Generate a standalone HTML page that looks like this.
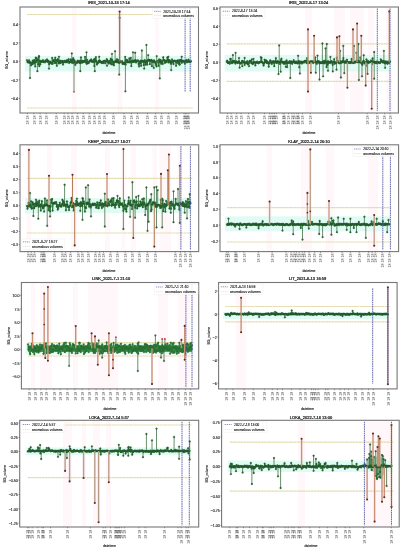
<!DOCTYPE html>
<html><head><meta charset="utf-8"><style>
html,body{margin:0;padding:0;background:#fff;}
svg{display:block;will-change:transform;}
text{font-family:"Liberation Sans", sans-serif;fill:#1a1a1a;stroke:#1a1a1a;stroke-width:0.12px;}
text.tl{fill:#444;stroke:none;}
text.ttl{stroke-width:0.22px;}
</style></head><body>
<svg width="403" height="550" viewBox="0 0 403 550">
<rect width="403" height="550" fill="#fff"/>
<rect x="117.5" y="7" width="5" height="106" fill="#fff7fa"/>
<rect x="72" y="7" width="4.5" height="106" fill="#fff7fa"/>
<rect x="155" y="7" width="4" height="106" fill="#fff7fa"/>
<rect x="25" y="56" width="167" height="15.5" fill="#e0fbf3"/>

<line x1="27" x2="193" y1="14.5" y2="14.5" stroke="#e4dbab" stroke-width="1.2" stroke-dasharray="2.4 0.4"/>
<line x1="27" x2="193" y1="108" y2="108" stroke="#e4dbab" stroke-width="1.2" stroke-dasharray="2.4 0.4"/>
<path d="M27 60.11 L27.51 61.85 L28.03 62.44 L28.54 62.15 L29.06 60.35 L29.57 62.79 L30.08 62.34 L30.6 62.35 L31.11 65.31 L31.63 62.83 L32.14 64.19 L32.66 60.77 L33.17 61.56 L33.68 63.61 L34.2 59.89 L34.71 61.89 L35.23 66.45 L35.74 57.54 L36.25 62.07 L36.77 58.22 L37.28 60.31 L37.8 59.81 L38.31 64.29 L38.82 56.92 L39.34 66.17 L39.85 60.78 L40.37 64.32 L40.88 61.01 L41.39 61.83 L41.91 61.55 L42.42 61.51 L42.94 60.15 L43.45 61.9 L43.97 61.96 L44.48 61.79 L44.99 62.25 L45.51 60.52 L46.02 61.14 L46.54 60.71 L47.05 59.45 L47.56 61.94 L48.08 60.74 L48.59 61.41 L49.11 64.2 L49.62 61.78 L50.13 61.63 L50.65 62.79 L51.16 63 L51.68 63.68 L52.19 57.93 L52.71 63.66 L53.22 61.34 L53.73 60.11 L54.25 60.39 L54.76 62.83 L55.28 57.77 L55.79 63.04 L56.3 60.39 L56.82 65.78 L57.33 60.06 L57.85 59.13 L58.36 61.48 L58.87 63.4 L59.39 62.83 L59.9 60.57 L60.42 62.9 L60.93 60.81 L61.45 61.87 L61.96 62.49 L62.47 61.01 L62.99 64.57 L63.5 62.28 L64.02 61.29 L64.53 60.84 L65.04 62.26 L65.56 61.24 L66.07 61.96 L66.59 60.34 L67.1 62.37 L67.61 60.36 L68.13 61.04 L68.64 59.25 L69.16 62.89 L69.67 61.61 L70.18 62.06 L70.7 59.46 L71.21 61.68 L71.73 61.03 L72.24 62.94 L72.76 59.62 L73.27 58.22 L73.78 62.77 L74.3 60.07 L74.81 61.63 L75.33 64.86 L75.84 61.55 L76.35 61.9 L76.87 63.08 L77.38 61.7 L77.9 60.67 L78.41 62.19 L78.92 61.5 L79.44 62.8 L79.95 60.77 L80.47 63.1 L80.98 57.28 L81.5 61.79 L82.01 62.7 L82.52 60.86 L83.04 60.89 L83.55 62.11 L84.07 61.4 L84.58 61.56 L85.09 56.9 L85.61 61.13 L86.12 62.54 L86.64 63.85 L87.15 59.84 L87.66 63.32 L88.18 62.39 L88.69 62.95 L89.21 61.71 L89.72 60.62 L90.24 61.26 L90.75 60.39 L91.26 59.49 L91.78 61.41 L92.29 61.81 L92.81 61.16 L93.32 61.73 L93.83 59.64 L94.35 66.07 L94.86 58.86 L95.38 61.55 L95.89 57.07 L96.4 60.82 L96.92 64.5 L97.43 63 L97.95 62.98 L98.46 61.68 L98.97 60.65 L99.49 62.1 L100 60.63 L100.52 61.78 L101.03 61.78 L101.55 62.98 L102.06 62.03 L102.57 61.68 L103.09 63.16 L103.6 61.36 L104.12 60.86 L104.63 60.89 L105.14 63.25 L105.66 61.54 L106.17 60.81 L106.69 59.15 L107.2 60.25 L107.71 61.88 L108.23 62.2 L108.74 63.5 L109.26 60.66 L109.77 62.1 L110.29 63.06 L110.8 58.76 L111.31 64.27 L111.83 60.14 L112.34 60.14 L112.86 64.34 L113.37 62 L113.88 65.31 L114.4 62.28 L114.91 61.86 L115.43 61.35 L115.94 60.57 L116.45 62.21 L116.97 59.19 L117.48 61.28 L118 62.44 L118.51 60.12 L119.03 62.51 L119.54 62.68 L120.05 61.59 L120.57 61.32 L121.08 62.17 L121.6 62.27 L122.11 61.2 L122.62 63.97 L123.14 63.33 L123.65 62.71 L124.17 64.15 L124.68 63.07 L125.19 56.82 L125.71 64.5 L126.22 59.77 L126.74 61.75 L127.25 60.17 L127.76 62.26 L128.28 62.03 L128.79 61.79 L129.31 58.5 L129.82 62.47 L130.34 61.81 L130.85 57.81 L131.36 66.12 L131.88 61.32 L132.39 60.59 L132.91 62.02 L133.42 60.86 L133.93 61.97 L134.45 61.07 L134.96 60.42 L135.48 60.13 L135.99 62.47 L136.5 61.62 L137.02 60.59 L137.53 60.8 L138.05 60.44 L138.56 64.09 L139.08 66.39 L139.59 61.72 L140.1 63.33 L140.62 60.72 L141.13 65.75 L141.65 60.89 L142.16 61.71 L142.67 61.26 L143.19 61.08 L143.7 64.99 L144.22 60.96 L144.73 60.17 L145.24 62.39 L145.76 64.66 L146.27 61.13 L146.79 62.1 L147.3 64.54 L147.82 60.12 L148.33 60.59 L148.84 59.79 L149.36 60.02 L149.87 64.22 L150.39 60.87 L150.9 60.33 L151.41 59.86 L151.93 66.16 L152.44 60.95 L152.96 61.74 L153.47 61.36 L153.98 60.31 L154.5 61.97 L155.01 61.6 L155.53 63.03 L156.04 64.93 L156.55 66.4 L157.07 61.29 L157.58 61.31 L158.1 61.35 L158.61 65.81 L159.13 59.42 L159.64 61.28 L160.15 61.85 L160.67 60 L161.18 63.68 L161.7 62.23 L162.21 60.85 L162.72 63.91 L163.24 57.27 L163.75 60.22 L164.27 60.14 L164.78 62.86 L165.29 60.55 L165.81 62.33 L166.32 61.75 L166.84 60.74 L167.35 57.51 L167.87 60.02 L168.38 62.45 L168.89 60.26 L169.41 60.39 L169.92 62.27 L170.44 60.87 L170.95 63.7 L171.46 63.12 L171.98 59.47 L172.49 61.65 L173.01 61.29 L173.52 64.05 L174.03 60.8 L174.55 60.71 L175.06 61.22 L175.58 61.2 L176.09 65.82 L176.61 61.77 L177.12 60.82 L177.63 60.44 L178.15 63.29 L178.66 61.65 L179.18 60.2 L179.69 64.39 L180.2 61.06 L180.72 59.97 L181.23 59.9 L181.75 62.79 L182.26 61.29 L182.77 60.79 L183.29 61.69 L183.8 60.79 L184.32 61.56 L184.83 63.64 L185.34 61.43 L185.86 60.74 L186.37 60.1 L186.89 62.23 L187.4 61.27 L187.92 61.96 L188.43 59.53 L188.94 61.01 L189.46 61.59 L189.97 62.11 L190.49 61.78 L191 61.14" fill="none" stroke="#2f7f3c" stroke-width="1.1" stroke-linejoin="round"/>
<path d="M30 61.5V78M37.4 61.5V71.2M39 61.5V56M49 61.5V68.6M59 61.5V56.7M71.8 61.5V53.4M74 61.5V91.8M80.3 61.5V71.2M86.5 61.5V52.3M94.8 61.5V71.2M99.2 61.5V56.7M107 61.5V65.7M112 61.5V53.8M115.1 61.5V51.2M119.2 61.5V74.6M119.6 61.5V17.7M125.4 61.5V91.3M133 61.5V52.3M135.2 61.5V52.7M141.9 61.5V50.5M144.2 61.5V68.6M146.4 61.5V44.9M148.2 61.5V55.2M153.8 61.5V67.9M156.7 61.5V56.1M159.8 61.5V78.4M168.3 61.5V56.7M171.2 61.5V70.1M179.4 61.5V64.6M181.7 61.5V56.7" stroke="#356b3d" stroke-width="0.75" fill="none"/>
<g fill="#2b6a34" stroke="#1d4424" stroke-width="0.25"><circle cx="27" cy="60.11" r="0.9"/><circle cx="27.51" cy="61.85" r="0.9"/><circle cx="28.03" cy="62.44" r="0.9"/><circle cx="28.54" cy="62.15" r="0.9"/><circle cx="29.06" cy="60.35" r="0.9"/><circle cx="29.57" cy="62.79" r="0.9"/><circle cx="30.08" cy="62.34" r="0.9"/><circle cx="30.6" cy="62.35" r="0.9"/><circle cx="31.11" cy="65.31" r="0.9"/><circle cx="31.63" cy="62.83" r="0.9"/><circle cx="32.14" cy="64.19" r="0.9"/><circle cx="32.66" cy="60.77" r="0.9"/><circle cx="33.17" cy="61.56" r="0.9"/><circle cx="33.68" cy="63.61" r="0.9"/><circle cx="34.2" cy="59.89" r="0.9"/><circle cx="34.71" cy="61.89" r="0.9"/><circle cx="35.23" cy="66.45" r="0.9"/><circle cx="35.74" cy="57.54" r="0.9"/><circle cx="36.25" cy="62.07" r="0.9"/><circle cx="36.77" cy="58.22" r="0.9"/><circle cx="37.28" cy="60.31" r="0.9"/><circle cx="37.8" cy="59.81" r="0.9"/><circle cx="38.31" cy="64.29" r="0.9"/><circle cx="38.82" cy="56.92" r="0.9"/><circle cx="39.34" cy="66.17" r="0.9"/><circle cx="39.85" cy="60.78" r="0.9"/><circle cx="40.37" cy="64.32" r="0.9"/><circle cx="40.88" cy="61.01" r="0.9"/><circle cx="41.39" cy="61.83" r="0.9"/><circle cx="41.91" cy="61.55" r="0.9"/><circle cx="42.42" cy="61.51" r="0.9"/><circle cx="42.94" cy="60.15" r="0.9"/><circle cx="43.45" cy="61.9" r="0.9"/><circle cx="43.97" cy="61.96" r="0.9"/><circle cx="44.48" cy="61.79" r="0.9"/><circle cx="44.99" cy="62.25" r="0.9"/><circle cx="45.51" cy="60.52" r="0.9"/><circle cx="46.02" cy="61.14" r="0.9"/><circle cx="46.54" cy="60.71" r="0.9"/><circle cx="47.05" cy="59.45" r="0.9"/><circle cx="47.56" cy="61.94" r="0.9"/><circle cx="48.08" cy="60.74" r="0.9"/><circle cx="48.59" cy="61.41" r="0.9"/><circle cx="49.11" cy="64.2" r="0.9"/><circle cx="49.62" cy="61.78" r="0.9"/><circle cx="50.13" cy="61.63" r="0.9"/><circle cx="50.65" cy="62.79" r="0.9"/><circle cx="51.16" cy="63" r="0.9"/><circle cx="51.68" cy="63.68" r="0.9"/><circle cx="52.19" cy="57.93" r="0.9"/><circle cx="52.71" cy="63.66" r="0.9"/><circle cx="53.22" cy="61.34" r="0.9"/><circle cx="53.73" cy="60.11" r="0.9"/><circle cx="54.25" cy="60.39" r="0.9"/><circle cx="54.76" cy="62.83" r="0.9"/><circle cx="55.28" cy="57.77" r="0.9"/><circle cx="55.79" cy="63.04" r="0.9"/><circle cx="56.3" cy="60.39" r="0.9"/><circle cx="56.82" cy="65.78" r="0.9"/><circle cx="57.33" cy="60.06" r="0.9"/><circle cx="57.85" cy="59.13" r="0.9"/><circle cx="58.36" cy="61.48" r="0.9"/><circle cx="58.87" cy="63.4" r="0.9"/><circle cx="59.39" cy="62.83" r="0.9"/><circle cx="59.9" cy="60.57" r="0.9"/><circle cx="60.42" cy="62.9" r="0.9"/><circle cx="60.93" cy="60.81" r="0.9"/><circle cx="61.45" cy="61.87" r="0.9"/><circle cx="61.96" cy="62.49" r="0.9"/><circle cx="62.47" cy="61.01" r="0.9"/><circle cx="62.99" cy="64.57" r="0.9"/><circle cx="63.5" cy="62.28" r="0.9"/><circle cx="64.02" cy="61.29" r="0.9"/><circle cx="64.53" cy="60.84" r="0.9"/><circle cx="65.04" cy="62.26" r="0.9"/><circle cx="65.56" cy="61.24" r="0.9"/><circle cx="66.07" cy="61.96" r="0.9"/><circle cx="66.59" cy="60.34" r="0.9"/><circle cx="67.1" cy="62.37" r="0.9"/><circle cx="67.61" cy="60.36" r="0.9"/><circle cx="68.13" cy="61.04" r="0.9"/><circle cx="68.64" cy="59.25" r="0.9"/><circle cx="69.16" cy="62.89" r="0.9"/><circle cx="69.67" cy="61.61" r="0.9"/><circle cx="70.18" cy="62.06" r="0.9"/><circle cx="70.7" cy="59.46" r="0.9"/><circle cx="71.21" cy="61.68" r="0.9"/><circle cx="71.73" cy="61.03" r="0.9"/><circle cx="72.24" cy="62.94" r="0.9"/><circle cx="72.76" cy="59.62" r="0.9"/><circle cx="73.27" cy="58.22" r="0.9"/><circle cx="73.78" cy="62.77" r="0.9"/><circle cx="74.3" cy="60.07" r="0.9"/><circle cx="74.81" cy="61.63" r="0.9"/><circle cx="75.33" cy="64.86" r="0.9"/><circle cx="75.84" cy="61.55" r="0.9"/><circle cx="76.35" cy="61.9" r="0.9"/><circle cx="76.87" cy="63.08" r="0.9"/><circle cx="77.38" cy="61.7" r="0.9"/><circle cx="77.9" cy="60.67" r="0.9"/><circle cx="78.41" cy="62.19" r="0.9"/><circle cx="78.92" cy="61.5" r="0.9"/><circle cx="79.44" cy="62.8" r="0.9"/><circle cx="79.95" cy="60.77" r="0.9"/><circle cx="80.47" cy="63.1" r="0.9"/><circle cx="80.98" cy="57.28" r="0.9"/><circle cx="81.5" cy="61.79" r="0.9"/><circle cx="82.01" cy="62.7" r="0.9"/><circle cx="82.52" cy="60.86" r="0.9"/><circle cx="83.04" cy="60.89" r="0.9"/><circle cx="83.55" cy="62.11" r="0.9"/><circle cx="84.07" cy="61.4" r="0.9"/><circle cx="84.58" cy="61.56" r="0.9"/><circle cx="85.09" cy="56.9" r="0.9"/><circle cx="85.61" cy="61.13" r="0.9"/><circle cx="86.12" cy="62.54" r="0.9"/><circle cx="86.64" cy="63.85" r="0.9"/><circle cx="87.15" cy="59.84" r="0.9"/><circle cx="87.66" cy="63.32" r="0.9"/><circle cx="88.18" cy="62.39" r="0.9"/><circle cx="88.69" cy="62.95" r="0.9"/><circle cx="89.21" cy="61.71" r="0.9"/><circle cx="89.72" cy="60.62" r="0.9"/><circle cx="90.24" cy="61.26" r="0.9"/><circle cx="90.75" cy="60.39" r="0.9"/><circle cx="91.26" cy="59.49" r="0.9"/><circle cx="91.78" cy="61.41" r="0.9"/><circle cx="92.29" cy="61.81" r="0.9"/><circle cx="92.81" cy="61.16" r="0.9"/><circle cx="93.32" cy="61.73" r="0.9"/><circle cx="93.83" cy="59.64" r="0.9"/><circle cx="94.35" cy="66.07" r="0.9"/><circle cx="94.86" cy="58.86" r="0.9"/><circle cx="95.38" cy="61.55" r="0.9"/><circle cx="95.89" cy="57.07" r="0.9"/><circle cx="96.4" cy="60.82" r="0.9"/><circle cx="96.92" cy="64.5" r="0.9"/><circle cx="97.43" cy="63" r="0.9"/><circle cx="97.95" cy="62.98" r="0.9"/><circle cx="98.46" cy="61.68" r="0.9"/><circle cx="98.97" cy="60.65" r="0.9"/><circle cx="99.49" cy="62.1" r="0.9"/><circle cx="100" cy="60.63" r="0.9"/><circle cx="100.52" cy="61.78" r="0.9"/><circle cx="101.03" cy="61.78" r="0.9"/><circle cx="101.55" cy="62.98" r="0.9"/><circle cx="102.06" cy="62.03" r="0.9"/><circle cx="102.57" cy="61.68" r="0.9"/><circle cx="103.09" cy="63.16" r="0.9"/><circle cx="103.6" cy="61.36" r="0.9"/><circle cx="104.12" cy="60.86" r="0.9"/><circle cx="104.63" cy="60.89" r="0.9"/><circle cx="105.14" cy="63.25" r="0.9"/><circle cx="105.66" cy="61.54" r="0.9"/><circle cx="106.17" cy="60.81" r="0.9"/><circle cx="106.69" cy="59.15" r="0.9"/><circle cx="107.2" cy="60.25" r="0.9"/><circle cx="107.71" cy="61.88" r="0.9"/><circle cx="108.23" cy="62.2" r="0.9"/><circle cx="108.74" cy="63.5" r="0.9"/><circle cx="109.26" cy="60.66" r="0.9"/><circle cx="109.77" cy="62.1" r="0.9"/><circle cx="110.29" cy="63.06" r="0.9"/><circle cx="110.8" cy="58.76" r="0.9"/><circle cx="111.31" cy="64.27" r="0.9"/><circle cx="111.83" cy="60.14" r="0.9"/><circle cx="112.34" cy="60.14" r="0.9"/><circle cx="112.86" cy="64.34" r="0.9"/><circle cx="113.37" cy="62" r="0.9"/><circle cx="113.88" cy="65.31" r="0.9"/><circle cx="114.4" cy="62.28" r="0.9"/><circle cx="114.91" cy="61.86" r="0.9"/><circle cx="115.43" cy="61.35" r="0.9"/><circle cx="115.94" cy="60.57" r="0.9"/><circle cx="116.45" cy="62.21" r="0.9"/><circle cx="116.97" cy="59.19" r="0.9"/><circle cx="117.48" cy="61.28" r="0.9"/><circle cx="118" cy="62.44" r="0.9"/><circle cx="118.51" cy="60.12" r="0.9"/><circle cx="119.03" cy="62.51" r="0.9"/><circle cx="119.54" cy="62.68" r="0.9"/><circle cx="120.05" cy="61.59" r="0.9"/><circle cx="120.57" cy="61.32" r="0.9"/><circle cx="121.08" cy="62.17" r="0.9"/><circle cx="121.6" cy="62.27" r="0.9"/><circle cx="122.11" cy="61.2" r="0.9"/><circle cx="122.62" cy="63.97" r="0.9"/><circle cx="123.14" cy="63.33" r="0.9"/><circle cx="123.65" cy="62.71" r="0.9"/><circle cx="124.17" cy="64.15" r="0.9"/><circle cx="124.68" cy="63.07" r="0.9"/><circle cx="125.19" cy="56.82" r="0.9"/><circle cx="125.71" cy="64.5" r="0.9"/><circle cx="126.22" cy="59.77" r="0.9"/><circle cx="126.74" cy="61.75" r="0.9"/><circle cx="127.25" cy="60.17" r="0.9"/><circle cx="127.76" cy="62.26" r="0.9"/><circle cx="128.28" cy="62.03" r="0.9"/><circle cx="128.79" cy="61.79" r="0.9"/><circle cx="129.31" cy="58.5" r="0.9"/><circle cx="129.82" cy="62.47" r="0.9"/><circle cx="130.34" cy="61.81" r="0.9"/><circle cx="130.85" cy="57.81" r="0.9"/><circle cx="131.36" cy="66.12" r="0.9"/><circle cx="131.88" cy="61.32" r="0.9"/><circle cx="132.39" cy="60.59" r="0.9"/><circle cx="132.91" cy="62.02" r="0.9"/><circle cx="133.42" cy="60.86" r="0.9"/><circle cx="133.93" cy="61.97" r="0.9"/><circle cx="134.45" cy="61.07" r="0.9"/><circle cx="134.96" cy="60.42" r="0.9"/><circle cx="135.48" cy="60.13" r="0.9"/><circle cx="135.99" cy="62.47" r="0.9"/><circle cx="136.5" cy="61.62" r="0.9"/><circle cx="137.02" cy="60.59" r="0.9"/><circle cx="137.53" cy="60.8" r="0.9"/><circle cx="138.05" cy="60.44" r="0.9"/><circle cx="138.56" cy="64.09" r="0.9"/><circle cx="139.08" cy="66.39" r="0.9"/><circle cx="139.59" cy="61.72" r="0.9"/><circle cx="140.1" cy="63.33" r="0.9"/><circle cx="140.62" cy="60.72" r="0.9"/><circle cx="141.13" cy="65.75" r="0.9"/><circle cx="141.65" cy="60.89" r="0.9"/><circle cx="142.16" cy="61.71" r="0.9"/><circle cx="142.67" cy="61.26" r="0.9"/><circle cx="143.19" cy="61.08" r="0.9"/><circle cx="143.7" cy="64.99" r="0.9"/><circle cx="144.22" cy="60.96" r="0.9"/><circle cx="144.73" cy="60.17" r="0.9"/><circle cx="145.24" cy="62.39" r="0.9"/><circle cx="145.76" cy="64.66" r="0.9"/><circle cx="146.27" cy="61.13" r="0.9"/><circle cx="146.79" cy="62.1" r="0.9"/><circle cx="147.3" cy="64.54" r="0.9"/><circle cx="147.82" cy="60.12" r="0.9"/><circle cx="148.33" cy="60.59" r="0.9"/><circle cx="148.84" cy="59.79" r="0.9"/><circle cx="149.36" cy="60.02" r="0.9"/><circle cx="149.87" cy="64.22" r="0.9"/><circle cx="150.39" cy="60.87" r="0.9"/><circle cx="150.9" cy="60.33" r="0.9"/><circle cx="151.41" cy="59.86" r="0.9"/><circle cx="151.93" cy="66.16" r="0.9"/><circle cx="152.44" cy="60.95" r="0.9"/><circle cx="152.96" cy="61.74" r="0.9"/><circle cx="153.47" cy="61.36" r="0.9"/><circle cx="153.98" cy="60.31" r="0.9"/><circle cx="154.5" cy="61.97" r="0.9"/><circle cx="155.01" cy="61.6" r="0.9"/><circle cx="155.53" cy="63.03" r="0.9"/><circle cx="156.04" cy="64.93" r="0.9"/><circle cx="156.55" cy="66.4" r="0.9"/><circle cx="157.07" cy="61.29" r="0.9"/><circle cx="157.58" cy="61.31" r="0.9"/><circle cx="158.1" cy="61.35" r="0.9"/><circle cx="158.61" cy="65.81" r="0.9"/><circle cx="159.13" cy="59.42" r="0.9"/><circle cx="159.64" cy="61.28" r="0.9"/><circle cx="160.15" cy="61.85" r="0.9"/><circle cx="160.67" cy="60" r="0.9"/><circle cx="161.18" cy="63.68" r="0.9"/><circle cx="161.7" cy="62.23" r="0.9"/><circle cx="162.21" cy="60.85" r="0.9"/><circle cx="162.72" cy="63.91" r="0.9"/><circle cx="163.24" cy="57.27" r="0.9"/><circle cx="163.75" cy="60.22" r="0.9"/><circle cx="164.27" cy="60.14" r="0.9"/><circle cx="164.78" cy="62.86" r="0.9"/><circle cx="165.29" cy="60.55" r="0.9"/><circle cx="165.81" cy="62.33" r="0.9"/><circle cx="166.32" cy="61.75" r="0.9"/><circle cx="166.84" cy="60.74" r="0.9"/><circle cx="167.35" cy="57.51" r="0.9"/><circle cx="167.87" cy="60.02" r="0.9"/><circle cx="168.38" cy="62.45" r="0.9"/><circle cx="168.89" cy="60.26" r="0.9"/><circle cx="169.41" cy="60.39" r="0.9"/><circle cx="169.92" cy="62.27" r="0.9"/><circle cx="170.44" cy="60.87" r="0.9"/><circle cx="170.95" cy="63.7" r="0.9"/><circle cx="171.46" cy="63.12" r="0.9"/><circle cx="171.98" cy="59.47" r="0.9"/><circle cx="172.49" cy="61.65" r="0.9"/><circle cx="173.01" cy="61.29" r="0.9"/><circle cx="173.52" cy="64.05" r="0.9"/><circle cx="174.03" cy="60.8" r="0.9"/><circle cx="174.55" cy="60.71" r="0.9"/><circle cx="175.06" cy="61.22" r="0.9"/><circle cx="175.58" cy="61.2" r="0.9"/><circle cx="176.09" cy="65.82" r="0.9"/><circle cx="176.61" cy="61.77" r="0.9"/><circle cx="177.12" cy="60.82" r="0.9"/><circle cx="177.63" cy="60.44" r="0.9"/><circle cx="178.15" cy="63.29" r="0.9"/><circle cx="178.66" cy="61.65" r="0.9"/><circle cx="179.18" cy="60.2" r="0.9"/><circle cx="179.69" cy="64.39" r="0.9"/><circle cx="180.2" cy="61.06" r="0.9"/><circle cx="180.72" cy="59.97" r="0.9"/><circle cx="181.23" cy="59.9" r="0.9"/><circle cx="181.75" cy="62.79" r="0.9"/><circle cx="182.26" cy="61.29" r="0.9"/><circle cx="182.77" cy="60.79" r="0.9"/><circle cx="183.29" cy="61.69" r="0.9"/><circle cx="183.8" cy="60.79" r="0.9"/><circle cx="184.32" cy="61.56" r="0.9"/><circle cx="184.83" cy="63.64" r="0.9"/><circle cx="185.34" cy="61.43" r="0.9"/><circle cx="185.86" cy="60.74" r="0.9"/><circle cx="186.37" cy="60.1" r="0.9"/><circle cx="186.89" cy="62.23" r="0.9"/><circle cx="187.4" cy="61.27" r="0.9"/><circle cx="187.92" cy="61.96" r="0.9"/><circle cx="188.43" cy="59.53" r="0.9"/><circle cx="188.94" cy="61.01" r="0.9"/><circle cx="189.46" cy="61.59" r="0.9"/><circle cx="189.97" cy="62.11" r="0.9"/><circle cx="190.49" cy="61.78" r="0.9"/><circle cx="191" cy="61.14" r="0.9"/><circle cx="30" cy="78" r="0.9"/><circle cx="37.4" cy="71.2" r="0.9"/><circle cx="39" cy="56" r="0.9"/><circle cx="49" cy="68.6" r="0.9"/><circle cx="59" cy="56.7" r="0.9"/><circle cx="71.8" cy="53.4" r="0.9"/><circle cx="80.3" cy="71.2" r="0.9"/><circle cx="86.5" cy="52.3" r="0.9"/><circle cx="94.8" cy="71.2" r="0.9"/><circle cx="99.2" cy="56.7" r="0.9"/><circle cx="107" cy="65.7" r="0.9"/><circle cx="112" cy="53.8" r="0.9"/><circle cx="115.1" cy="51.2" r="0.9"/><circle cx="119.2" cy="74.6" r="0.9"/><circle cx="119.6" cy="17.7" r="0.9"/><circle cx="125.4" cy="91.3" r="0.9"/><circle cx="133" cy="52.3" r="0.9"/><circle cx="135.2" cy="52.7" r="0.9"/><circle cx="141.9" cy="50.5" r="0.9"/><circle cx="144.2" cy="68.6" r="0.9"/><circle cx="146.4" cy="44.9" r="0.9"/><circle cx="148.2" cy="55.2" r="0.9"/><circle cx="153.8" cy="67.9" r="0.9"/><circle cx="156.7" cy="56.1" r="0.9"/><circle cx="159.8" cy="78.4" r="0.9"/><circle cx="168.3" cy="56.7" r="0.9"/><circle cx="171.2" cy="70.1" r="0.9"/><circle cx="179.4" cy="64.6" r="0.9"/><circle cx="181.7" cy="56.7" r="0.9"/></g>
<path d="M119.6 61.5V11.5" stroke="#8f7a68" stroke-width="1.4" fill="none"/>
<circle cx="74" cy="91.8" r="0.9" fill="#c8383a"/><circle cx="119.6" cy="11.5" r="1.05" fill="#5a2c20"/><circle cx="75.8" cy="61.6" r="0.9" fill="#d83434"/><circle cx="121.4" cy="61.9" r="0.9" fill="#d83434"/><circle cx="157.5" cy="61.6" r="0.9" fill="#d83434"/>
<line x1="185.1" x2="185.1" y1="8.5" y2="92" stroke="#4a4f9e" stroke-width="0.85" stroke-dasharray="1.6 0.6"/>
<line x1="190.2" x2="190.2" y1="8.5" y2="92" stroke="#4a4f9e" stroke-width="0.85" stroke-dasharray="1.6 0.6"/>
<rect x="20" y="7" width="178.5" height="106" fill="none" stroke="#777777" stroke-width="1.1"/>
<line x1="18.7" x2="20" y1="24.4" y2="24.4" stroke="#3a3a3a" stroke-width="0.45"/>
<text x="18.1" y="26.1" text-anchor="end" font-size="3.6">0.4</text>
<line x1="18.7" x2="20" y1="42.9" y2="42.9" stroke="#3a3a3a" stroke-width="0.45"/>
<text x="18.1" y="44.6" text-anchor="end" font-size="3.6">0.2</text>
<line x1="18.7" x2="20" y1="61.4" y2="61.4" stroke="#3a3a3a" stroke-width="0.45"/>
<text x="18.1" y="63.1" text-anchor="end" font-size="3.6">0.0</text>
<line x1="18.7" x2="20" y1="79.9" y2="79.9" stroke="#3a3a3a" stroke-width="0.45"/>
<text x="18.1" y="81.6" text-anchor="end" font-size="3.6">−0.2</text>
<line x1="18.7" x2="20" y1="98.4" y2="98.4" stroke="#3a3a3a" stroke-width="0.45"/>
<text x="18.1" y="100.1" text-anchor="end" font-size="3.6">−0.4</text>
<text transform="translate(8.39,60) rotate(-90)" text-anchor="middle" font-size="3.4">BG_volume</text>
<path d="M27.4 113v1.3M33.8 113v1.3M40.1 113v1.3M46.1 113v1.3M56.2 113v1.3M64.2 113v1.3M68 113v1.3M72 113v1.3M77.6 113v1.3M83.2 113v1.3M89.2 113v1.3M94.3 113v1.3M99.7 113v1.3M104.4 113v1.3M113.3 113v1.3M123.9 113v1.3M131.4 113v1.3M137.5 113v1.3M147.5 113v1.3M155.7 113v1.3M161.6 113v1.3M168.7 113v1.3M175.8 113v1.3M184 113v1.3M185.3 113v1.3M186.8 113v1.3M188.7 113v1.3" stroke="#3a3a3a" stroke-width="0.45"/>
<g><text transform="translate(29.1,119.5) rotate(-90)" class="tl" font-size="3.6">18</text><text transform="translate(29.1,124.5) rotate(-90)" class="tl" font-size="3.6">18</text><text transform="translate(35.5,119.5) rotate(-90)" class="tl" font-size="3.6">18</text><text transform="translate(35.5,124.5) rotate(-90)" class="tl" font-size="3.6">18</text><text transform="translate(41.8,119.5) rotate(-90)" class="tl" font-size="3.6">18</text><text transform="translate(41.8,124.5) rotate(-90)" class="tl" font-size="3.6">18</text><text transform="translate(47.8,119.5) rotate(-90)" class="tl" font-size="3.6">18</text><text transform="translate(47.8,124.5) rotate(-90)" class="tl" font-size="3.6">18</text><text transform="translate(57.9,119.5) rotate(-90)" class="tl" font-size="3.6">18</text><text transform="translate(57.9,124.5) rotate(-90)" class="tl" font-size="3.6">18</text><text transform="translate(65.9,119.5) rotate(-90)" class="tl" font-size="3.6">18</text><text transform="translate(65.9,124.5) rotate(-90)" class="tl" font-size="3.6">18</text><text transform="translate(69.7,119.5) rotate(-90)" class="tl" font-size="3.6">18</text><text transform="translate(69.7,124.5) rotate(-90)" class="tl" font-size="3.6">18</text><text transform="translate(73.7,119.5) rotate(-90)" class="tl" font-size="3.6">18</text><text transform="translate(73.7,124.5) rotate(-90)" class="tl" font-size="3.6">18</text><text transform="translate(79.3,119.5) rotate(-90)" class="tl" font-size="3.6">18</text><text transform="translate(79.3,124.5) rotate(-90)" class="tl" font-size="3.6">18</text><text transform="translate(84.9,119.5) rotate(-90)" class="tl" font-size="3.6">18</text><text transform="translate(84.9,124.5) rotate(-90)" class="tl" font-size="3.6">18</text><text transform="translate(90.9,119.5) rotate(-90)" class="tl" font-size="3.6">18</text><text transform="translate(90.9,124.5) rotate(-90)" class="tl" font-size="3.6">18</text><text transform="translate(96,119.5) rotate(-90)" class="tl" font-size="3.6">18</text><text transform="translate(96,124.5) rotate(-90)" class="tl" font-size="3.6">18</text><text transform="translate(101.4,119.5) rotate(-90)" class="tl" font-size="3.6">18</text><text transform="translate(101.4,124.5) rotate(-90)" class="tl" font-size="3.6">18</text><text transform="translate(106.1,119.5) rotate(-90)" class="tl" font-size="3.6">18</text><text transform="translate(106.1,124.5) rotate(-90)" class="tl" font-size="3.6">18</text><text transform="translate(115,119.5) rotate(-90)" class="tl" font-size="3.6">18</text><text transform="translate(115,124.5) rotate(-90)" class="tl" font-size="3.6">18</text><text transform="translate(125.6,119.5) rotate(-90)" class="tl" font-size="3.6">18</text><text transform="translate(125.6,124.5) rotate(-90)" class="tl" font-size="3.6">18</text><text transform="translate(133.1,119.5) rotate(-90)" class="tl" font-size="3.6">18</text><text transform="translate(133.1,124.5) rotate(-90)" class="tl" font-size="3.6">18</text><text transform="translate(139.2,119.5) rotate(-90)" class="tl" font-size="3.6">18</text><text transform="translate(139.2,124.5) rotate(-90)" class="tl" font-size="3.6">18</text><text transform="translate(149.2,119.5) rotate(-90)" class="tl" font-size="3.6">18</text><text transform="translate(149.2,124.5) rotate(-90)" class="tl" font-size="3.6">18</text><text transform="translate(157.4,119.5) rotate(-90)" class="tl" font-size="3.6">18</text><text transform="translate(157.4,124.5) rotate(-90)" class="tl" font-size="3.6">18</text><text transform="translate(163.3,119.5) rotate(-90)" class="tl" font-size="3.6">18</text><text transform="translate(163.3,124.5) rotate(-90)" class="tl" font-size="3.6">18</text><text transform="translate(170.4,119.5) rotate(-90)" class="tl" font-size="3.6">18</text><text transform="translate(170.4,124.5) rotate(-90)" class="tl" font-size="3.6">18</text><text transform="translate(177.5,119.5) rotate(-90)" class="tl" font-size="3.6">18</text><text transform="translate(177.5,124.5) rotate(-90)" class="tl" font-size="3.6">18</text><text transform="translate(185.7,119.5) rotate(-90)" class="tl" font-size="3.6">18</text><text transform="translate(185.7,124.5) rotate(-90)" class="tl" font-size="3.6">18</text><text transform="translate(187,119.5) rotate(-90)" class="tl" font-size="3.6">18</text><text transform="translate(187,124.5) rotate(-90)" class="tl" font-size="3.6">18</text><text transform="translate(187,129.5) rotate(-90)" class="tl" font-size="3.6">18</text><text transform="translate(188.5,119.5) rotate(-90)" class="tl" font-size="3.6">18</text><text transform="translate(188.5,124.5) rotate(-90)" class="tl" font-size="3.6">18</text><text transform="translate(190.4,119.5) rotate(-90)" class="tl" font-size="3.6">18</text><text transform="translate(190.4,124.5) rotate(-90)" class="tl" font-size="3.6">18</text><text transform="translate(190.4,129.5) rotate(-90)" class="tl" font-size="3.6">18</text></g>
<text x="109" y="133.8" text-anchor="middle" font-size="3.4">datetime</text>
<text x="109" y="4.3" text-anchor="middle" class="ttl" font-size="4.0">IRIS_2021-10-18 17:14</text>
<rect x="152.5" y="8.4" width="43.68" height="10.1" fill="#fff" fill-opacity="0.85" stroke="#ececec" stroke-width="0.4" rx="0.6"/>
<line x1="154" x2="161" y1="11.3" y2="11.3" stroke="#4a4f9e" stroke-width="0.6" stroke-dasharray="1.4 0.7"/>
<line x1="154" x2="161" y1="15.6" y2="15.6" stroke="#e4dbab" stroke-width="0.65" stroke-dasharray="1.4 0.7"/>
<text x="163.3" y="12.5" font-size="3.45">2021-10-18 17:14</text>
<text x="163.3" y="16.8" font-size="3.45">anomalous volumes</text>
<rect x="305" y="7" width="7" height="106" fill="#fff7fa"/>
<rect x="334" y="7" width="11" height="106" fill="#fff7fa"/>
<rect x="350" y="7" width="14" height="106" fill="#fff7fa"/>
<rect x="368" y="7" width="6" height="106" fill="#fff7fa"/>
<rect x="386" y="7" width="6" height="106" fill="#fff7fa"/>
<rect x="224.7" y="55" width="166.3" height="16.5" fill="#e0fbf3"/>

<line x1="226.7" x2="392" y1="43.8" y2="43.8" stroke="#e4dbab" stroke-width="1.2" stroke-dasharray="2.4 0.4"/>
<line x1="226.7" x2="392" y1="81.4" y2="81.4" stroke="#e4dbab" stroke-width="1.2" stroke-dasharray="2.4 0.4"/>
<path d="M226.7 61.67 L227.21 60.67 L227.72 62.78 L228.24 62.9 L228.75 62.05 L229.26 62.59 L229.77 63.67 L230.28 58.87 L230.8 59 L231.31 62.85 L231.82 61.61 L232.33 63.07 L232.84 60.98 L233.35 62.03 L233.87 61.95 L234.38 60.92 L234.89 62.21 L235.4 63.61 L235.91 62.03 L236.43 61.33 L236.94 62.23 L237.45 62.98 L237.96 62.45 L238.47 62.3 L238.99 61.17 L239.5 62.7 L240.01 62.69 L240.52 63.37 L241.03 63.49 L241.55 62.85 L242.06 60.99 L242.57 61.15 L243.08 61.42 L243.59 62.54 L244.11 61.67 L244.62 64.93 L245.13 62.5 L245.64 62.59 L246.15 62.9 L246.66 62.57 L247.18 61.17 L247.69 64.26 L248.2 63.47 L248.71 63.52 L249.22 61.7 L249.74 60.82 L250.25 61.09 L250.76 61.46 L251.27 63.01 L251.78 59.3 L252.3 63.47 L252.81 64.01 L253.32 62.72 L253.83 62.58 L254.34 62.01 L254.86 62.03 L255.37 65.42 L255.88 62.71 L256.39 62.55 L256.9 61.98 L257.41 61.65 L257.93 62.67 L258.44 63.34 L258.95 62.37 L259.46 62.53 L259.97 61.86 L260.49 62.1 L261 62.05 L261.51 57.85 L262.02 61.82 L262.53 62.62 L263.05 63.34 L263.56 65.52 L264.07 63.42 L264.58 61.98 L265.09 62.01 L265.61 60.57 L266.12 60.36 L266.63 62.89 L267.14 61.43 L267.65 62.94 L268.16 62.34 L268.68 66.64 L269.19 63.37 L269.7 62.24 L270.21 60.3 L270.72 60.91 L271.24 63.08 L271.75 63.9 L272.26 62.22 L272.77 61.74 L273.28 61.19 L273.8 62.74 L274.31 66.2 L274.82 61.3 L275.33 62.41 L275.84 58.04 L276.36 62.09 L276.87 63.15 L277.38 61.31 L277.89 61.35 L278.4 61.97 L278.92 62.35 L279.43 62.03 L279.94 63.89 L280.45 61.82 L280.96 60.25 L281.47 58.61 L281.99 62.56 L282.5 61.95 L283.01 61.99 L283.52 63.6 L284.03 62.03 L284.55 63.67 L285.06 61.71 L285.57 61.92 L286.08 63.19 L286.59 60.32 L287.11 67.08 L287.62 62.31 L288.13 62.68 L288.64 62.76 L289.15 62.04 L289.67 61.14 L290.18 62.97 L290.69 62.66 L291.2 61.39 L291.71 62.37 L292.22 63.76 L292.74 62.4 L293.25 61.34 L293.76 61.95 L294.27 62 L294.78 62.58 L295.3 63.03 L295.81 61.54 L296.32 61.77 L296.83 63.12 L297.34 62.9 L297.86 63.4 L298.37 61.11 L298.88 61.52 L299.39 63.11 L299.9 61.52 L300.42 62.56 L300.93 62.25 L301.44 61.69 L301.95 63.49 L302.46 62.29 L302.97 61.88 L303.49 62.17 L304 62.5 L304.51 61.02 L305.02 61.59 L305.53 61.25 L306.05 60.58 L306.56 63.09 L307.07 58.12 L307.58 63.27 L308.09 60.86 L308.61 62.62 L309.12 62.85 L309.63 61.83 L310.14 62.96 L310.65 61.39 L311.17 61.42 L311.68 61.62 L312.19 61.71 L312.7 61.48 L313.21 63.08 L313.73 61.43 L314.24 61.92 L314.75 61.78 L315.26 57.5 L315.77 61.57 L316.28 62.68 L316.8 63.77 L317.31 61.34 L317.82 61.62 L318.33 62.03 L318.84 61.22 L319.36 63.29 L319.87 61.91 L320.38 63.15 L320.89 62.73 L321.4 62.31 L321.92 63.07 L322.43 62.05 L322.94 63.15 L323.45 61.24 L323.96 61.7 L324.48 63.27 L324.99 60.61 L325.5 62.68 L326.01 61.97 L326.52 67.11 L327.03 61.74 L327.55 64.73 L328.06 61.07 L328.57 62.97 L329.08 62.68 L329.59 61.96 L330.11 62.23 L330.62 62.87 L331.13 61.82 L331.64 61.08 L332.15 62.53 L332.67 64.78 L333.18 61.97 L333.69 62.34 L334.2 59.1 L334.71 63.75 L335.23 62.57 L335.74 62.39 L336.25 62.96 L336.76 57.53 L337.27 60.95 L337.78 61.82 L338.3 61.31 L338.81 62.86 L339.32 63.32 L339.83 62.58 L340.34 61.47 L340.86 62.94 L341.37 61.53 L341.88 62.5 L342.39 61.34 L342.9 61.19 L343.42 58.08 L343.93 62.31 L344.44 61.77 L344.95 62.65 L345.46 61.26 L345.98 62.69 L346.49 61.8 L347 59.72 L347.51 63.12 L348.02 62.13 L348.54 62.39 L349.05 62.49 L349.56 62.67 L350.07 62.08 L350.58 63.18 L351.09 61.89 L351.61 59.01 L352.12 62.5 L352.63 62.21 L353.14 62.97 L353.65 62.78 L354.17 62.4 L354.68 62.39 L355.19 62.4 L355.7 61.77 L356.21 61.33 L356.73 61.64 L357.24 62.23 L357.75 60.49 L358.26 61.95 L358.77 61.51 L359.29 62.23 L359.8 61.65 L360.31 57.48 L360.82 62.12 L361.33 63.34 L361.84 62.03 L362.36 64.84 L362.87 62.32 L363.38 60.85 L363.89 61.44 L364.4 63.45 L364.92 62.71 L365.43 62.37 L365.94 65.73 L366.45 59.4 L366.96 62.1 L367.48 62.06 L367.99 60.88 L368.5 63.05 L369.01 62.15 L369.52 62.22 L370.04 62.03 L370.55 61.79 L371.06 60.49 L371.57 62.42 L372.08 64.04 L372.59 58.37 L373.11 62.07 L373.62 61.56 L374.13 62.32 L374.64 62.6 L375.15 62.2 L375.67 62.97 L376.18 61.54 L376.69 63.15 L377.2 62.42 L377.71 61.86 L378.23 62.07 L378.74 62.58 L379.25 62.91 L379.76 62.36 L380.27 62.77 L380.79 59.36 L381.3 60.99 L381.81 60.7 L382.32 62.37 L382.83 61.53 L383.35 62.39 L383.86 61.01 L384.37 62.41 L384.88 63.35 L385.39 63.19 L385.9 61.42 L386.42 62.05 L386.93 63.01 L387.44 63.76 L387.95 61.54 L388.46 61.62 L388.98 63.19 L389.49 62.01 L390 61.48" fill="none" stroke="#2f7f3c" stroke-width="1.1" stroke-linejoin="round"/>
<path d="M232.9 62.3V55M235.6 62.3V52.8M239 62.3V57.9M239.6 62.3V67.7M242.3 62.3V66.2M244.6 62.3V57.9M249 62.3V66.2M253.5 62.3V58.8M260.8 62.3V57.2M264.6 62.3V59.7M278.5 62.3V74M279.2 62.3V45.4M280.7 62.3V71.7M285.8 62.3V66.8M290.3 62.3V78M293.7 62.3V60.1M298.1 62.3V55.7M299.2 62.3V67.3M299.9 62.3V73.5M315.8 62.3V72.7M317.5 62.3V55.6M319.5 62.3V79.5M322.4 62.3V43.5M323.1 62.3V76.3M325.5 62.3V48.3M326.8 62.3V44M328 62.3V70.7M330.4 62.3V56.9M332.8 62.3V71.4M336.5 62.3V69.7M340.1 62.3V50.8M340.9 62.3V77.5M343.3 62.3V45.9M344.3 62.3V73.1M354 62.3V45.9M356.4 62.3V52.7M358.4 62.3V44M358.9 62.3V80M362 62.3V76.3M363.7 62.3V55.2M367.6 62.3V73.9M374.2 62.3V52M374.2 62.3V78.7M383.9 62.3V50.8M385.1 62.3V67.8" stroke="#356b3d" stroke-width="0.75" fill="none"/>
<g fill="#2b6a34" stroke="#1d4424" stroke-width="0.25"><circle cx="226.7" cy="61.67" r="0.9"/><circle cx="227.21" cy="60.67" r="0.9"/><circle cx="227.72" cy="62.78" r="0.9"/><circle cx="228.24" cy="62.9" r="0.9"/><circle cx="228.75" cy="62.05" r="0.9"/><circle cx="229.26" cy="62.59" r="0.9"/><circle cx="229.77" cy="63.67" r="0.9"/><circle cx="230.28" cy="58.87" r="0.9"/><circle cx="230.8" cy="59" r="0.9"/><circle cx="231.31" cy="62.85" r="0.9"/><circle cx="231.82" cy="61.61" r="0.9"/><circle cx="232.33" cy="63.07" r="0.9"/><circle cx="232.84" cy="60.98" r="0.9"/><circle cx="233.35" cy="62.03" r="0.9"/><circle cx="233.87" cy="61.95" r="0.9"/><circle cx="234.38" cy="60.92" r="0.9"/><circle cx="234.89" cy="62.21" r="0.9"/><circle cx="235.4" cy="63.61" r="0.9"/><circle cx="235.91" cy="62.03" r="0.9"/><circle cx="236.43" cy="61.33" r="0.9"/><circle cx="236.94" cy="62.23" r="0.9"/><circle cx="237.45" cy="62.98" r="0.9"/><circle cx="237.96" cy="62.45" r="0.9"/><circle cx="238.47" cy="62.3" r="0.9"/><circle cx="238.99" cy="61.17" r="0.9"/><circle cx="239.5" cy="62.7" r="0.9"/><circle cx="240.01" cy="62.69" r="0.9"/><circle cx="240.52" cy="63.37" r="0.9"/><circle cx="241.03" cy="63.49" r="0.9"/><circle cx="241.55" cy="62.85" r="0.9"/><circle cx="242.06" cy="60.99" r="0.9"/><circle cx="242.57" cy="61.15" r="0.9"/><circle cx="243.08" cy="61.42" r="0.9"/><circle cx="243.59" cy="62.54" r="0.9"/><circle cx="244.11" cy="61.67" r="0.9"/><circle cx="244.62" cy="64.93" r="0.9"/><circle cx="245.13" cy="62.5" r="0.9"/><circle cx="245.64" cy="62.59" r="0.9"/><circle cx="246.15" cy="62.9" r="0.9"/><circle cx="246.66" cy="62.57" r="0.9"/><circle cx="247.18" cy="61.17" r="0.9"/><circle cx="247.69" cy="64.26" r="0.9"/><circle cx="248.2" cy="63.47" r="0.9"/><circle cx="248.71" cy="63.52" r="0.9"/><circle cx="249.22" cy="61.7" r="0.9"/><circle cx="249.74" cy="60.82" r="0.9"/><circle cx="250.25" cy="61.09" r="0.9"/><circle cx="250.76" cy="61.46" r="0.9"/><circle cx="251.27" cy="63.01" r="0.9"/><circle cx="251.78" cy="59.3" r="0.9"/><circle cx="252.3" cy="63.47" r="0.9"/><circle cx="252.81" cy="64.01" r="0.9"/><circle cx="253.32" cy="62.72" r="0.9"/><circle cx="253.83" cy="62.58" r="0.9"/><circle cx="254.34" cy="62.01" r="0.9"/><circle cx="254.86" cy="62.03" r="0.9"/><circle cx="255.37" cy="65.42" r="0.9"/><circle cx="255.88" cy="62.71" r="0.9"/><circle cx="256.39" cy="62.55" r="0.9"/><circle cx="256.9" cy="61.98" r="0.9"/><circle cx="257.41" cy="61.65" r="0.9"/><circle cx="257.93" cy="62.67" r="0.9"/><circle cx="258.44" cy="63.34" r="0.9"/><circle cx="258.95" cy="62.37" r="0.9"/><circle cx="259.46" cy="62.53" r="0.9"/><circle cx="259.97" cy="61.86" r="0.9"/><circle cx="260.49" cy="62.1" r="0.9"/><circle cx="261" cy="62.05" r="0.9"/><circle cx="261.51" cy="57.85" r="0.9"/><circle cx="262.02" cy="61.82" r="0.9"/><circle cx="262.53" cy="62.62" r="0.9"/><circle cx="263.05" cy="63.34" r="0.9"/><circle cx="263.56" cy="65.52" r="0.9"/><circle cx="264.07" cy="63.42" r="0.9"/><circle cx="264.58" cy="61.98" r="0.9"/><circle cx="265.09" cy="62.01" r="0.9"/><circle cx="265.61" cy="60.57" r="0.9"/><circle cx="266.12" cy="60.36" r="0.9"/><circle cx="266.63" cy="62.89" r="0.9"/><circle cx="267.14" cy="61.43" r="0.9"/><circle cx="267.65" cy="62.94" r="0.9"/><circle cx="268.16" cy="62.34" r="0.9"/><circle cx="268.68" cy="66.64" r="0.9"/><circle cx="269.19" cy="63.37" r="0.9"/><circle cx="269.7" cy="62.24" r="0.9"/><circle cx="270.21" cy="60.3" r="0.9"/><circle cx="270.72" cy="60.91" r="0.9"/><circle cx="271.24" cy="63.08" r="0.9"/><circle cx="271.75" cy="63.9" r="0.9"/><circle cx="272.26" cy="62.22" r="0.9"/><circle cx="272.77" cy="61.74" r="0.9"/><circle cx="273.28" cy="61.19" r="0.9"/><circle cx="273.8" cy="62.74" r="0.9"/><circle cx="274.31" cy="66.2" r="0.9"/><circle cx="274.82" cy="61.3" r="0.9"/><circle cx="275.33" cy="62.41" r="0.9"/><circle cx="275.84" cy="58.04" r="0.9"/><circle cx="276.36" cy="62.09" r="0.9"/><circle cx="276.87" cy="63.15" r="0.9"/><circle cx="277.38" cy="61.31" r="0.9"/><circle cx="277.89" cy="61.35" r="0.9"/><circle cx="278.4" cy="61.97" r="0.9"/><circle cx="278.92" cy="62.35" r="0.9"/><circle cx="279.43" cy="62.03" r="0.9"/><circle cx="279.94" cy="63.89" r="0.9"/><circle cx="280.45" cy="61.82" r="0.9"/><circle cx="280.96" cy="60.25" r="0.9"/><circle cx="281.47" cy="58.61" r="0.9"/><circle cx="281.99" cy="62.56" r="0.9"/><circle cx="282.5" cy="61.95" r="0.9"/><circle cx="283.01" cy="61.99" r="0.9"/><circle cx="283.52" cy="63.6" r="0.9"/><circle cx="284.03" cy="62.03" r="0.9"/><circle cx="284.55" cy="63.67" r="0.9"/><circle cx="285.06" cy="61.71" r="0.9"/><circle cx="285.57" cy="61.92" r="0.9"/><circle cx="286.08" cy="63.19" r="0.9"/><circle cx="286.59" cy="60.32" r="0.9"/><circle cx="287.11" cy="67.08" r="0.9"/><circle cx="287.62" cy="62.31" r="0.9"/><circle cx="288.13" cy="62.68" r="0.9"/><circle cx="288.64" cy="62.76" r="0.9"/><circle cx="289.15" cy="62.04" r="0.9"/><circle cx="289.67" cy="61.14" r="0.9"/><circle cx="290.18" cy="62.97" r="0.9"/><circle cx="290.69" cy="62.66" r="0.9"/><circle cx="291.2" cy="61.39" r="0.9"/><circle cx="291.71" cy="62.37" r="0.9"/><circle cx="292.22" cy="63.76" r="0.9"/><circle cx="292.74" cy="62.4" r="0.9"/><circle cx="293.25" cy="61.34" r="0.9"/><circle cx="293.76" cy="61.95" r="0.9"/><circle cx="294.27" cy="62" r="0.9"/><circle cx="294.78" cy="62.58" r="0.9"/><circle cx="295.3" cy="63.03" r="0.9"/><circle cx="295.81" cy="61.54" r="0.9"/><circle cx="296.32" cy="61.77" r="0.9"/><circle cx="296.83" cy="63.12" r="0.9"/><circle cx="297.34" cy="62.9" r="0.9"/><circle cx="297.86" cy="63.4" r="0.9"/><circle cx="298.37" cy="61.11" r="0.9"/><circle cx="298.88" cy="61.52" r="0.9"/><circle cx="299.39" cy="63.11" r="0.9"/><circle cx="299.9" cy="61.52" r="0.9"/><circle cx="300.42" cy="62.56" r="0.9"/><circle cx="300.93" cy="62.25" r="0.9"/><circle cx="301.44" cy="61.69" r="0.9"/><circle cx="301.95" cy="63.49" r="0.9"/><circle cx="302.46" cy="62.29" r="0.9"/><circle cx="302.97" cy="61.88" r="0.9"/><circle cx="303.49" cy="62.17" r="0.9"/><circle cx="304" cy="62.5" r="0.9"/><circle cx="304.51" cy="61.02" r="0.9"/><circle cx="305.02" cy="61.59" r="0.9"/><circle cx="305.53" cy="61.25" r="0.9"/><circle cx="306.05" cy="60.58" r="0.9"/><circle cx="306.56" cy="63.09" r="0.9"/><circle cx="307.07" cy="58.12" r="0.9"/><circle cx="307.58" cy="63.27" r="0.9"/><circle cx="308.09" cy="60.86" r="0.9"/><circle cx="308.61" cy="62.62" r="0.9"/><circle cx="309.12" cy="62.85" r="0.9"/><circle cx="309.63" cy="61.83" r="0.9"/><circle cx="310.14" cy="62.96" r="0.9"/><circle cx="310.65" cy="61.39" r="0.9"/><circle cx="311.17" cy="61.42" r="0.9"/><circle cx="311.68" cy="61.62" r="0.9"/><circle cx="312.19" cy="61.71" r="0.9"/><circle cx="312.7" cy="61.48" r="0.9"/><circle cx="313.21" cy="63.08" r="0.9"/><circle cx="313.73" cy="61.43" r="0.9"/><circle cx="314.24" cy="61.92" r="0.9"/><circle cx="314.75" cy="61.78" r="0.9"/><circle cx="315.26" cy="57.5" r="0.9"/><circle cx="315.77" cy="61.57" r="0.9"/><circle cx="316.28" cy="62.68" r="0.9"/><circle cx="316.8" cy="63.77" r="0.9"/><circle cx="317.31" cy="61.34" r="0.9"/><circle cx="317.82" cy="61.62" r="0.9"/><circle cx="318.33" cy="62.03" r="0.9"/><circle cx="318.84" cy="61.22" r="0.9"/><circle cx="319.36" cy="63.29" r="0.9"/><circle cx="319.87" cy="61.91" r="0.9"/><circle cx="320.38" cy="63.15" r="0.9"/><circle cx="320.89" cy="62.73" r="0.9"/><circle cx="321.4" cy="62.31" r="0.9"/><circle cx="321.92" cy="63.07" r="0.9"/><circle cx="322.43" cy="62.05" r="0.9"/><circle cx="322.94" cy="63.15" r="0.9"/><circle cx="323.45" cy="61.24" r="0.9"/><circle cx="323.96" cy="61.7" r="0.9"/><circle cx="324.48" cy="63.27" r="0.9"/><circle cx="324.99" cy="60.61" r="0.9"/><circle cx="325.5" cy="62.68" r="0.9"/><circle cx="326.01" cy="61.97" r="0.9"/><circle cx="326.52" cy="67.11" r="0.9"/><circle cx="327.03" cy="61.74" r="0.9"/><circle cx="327.55" cy="64.73" r="0.9"/><circle cx="328.06" cy="61.07" r="0.9"/><circle cx="328.57" cy="62.97" r="0.9"/><circle cx="329.08" cy="62.68" r="0.9"/><circle cx="329.59" cy="61.96" r="0.9"/><circle cx="330.11" cy="62.23" r="0.9"/><circle cx="330.62" cy="62.87" r="0.9"/><circle cx="331.13" cy="61.82" r="0.9"/><circle cx="331.64" cy="61.08" r="0.9"/><circle cx="332.15" cy="62.53" r="0.9"/><circle cx="332.67" cy="64.78" r="0.9"/><circle cx="333.18" cy="61.97" r="0.9"/><circle cx="333.69" cy="62.34" r="0.9"/><circle cx="334.2" cy="59.1" r="0.9"/><circle cx="334.71" cy="63.75" r="0.9"/><circle cx="335.23" cy="62.57" r="0.9"/><circle cx="335.74" cy="62.39" r="0.9"/><circle cx="336.25" cy="62.96" r="0.9"/><circle cx="336.76" cy="57.53" r="0.9"/><circle cx="337.27" cy="60.95" r="0.9"/><circle cx="337.78" cy="61.82" r="0.9"/><circle cx="338.3" cy="61.31" r="0.9"/><circle cx="338.81" cy="62.86" r="0.9"/><circle cx="339.32" cy="63.32" r="0.9"/><circle cx="339.83" cy="62.58" r="0.9"/><circle cx="340.34" cy="61.47" r="0.9"/><circle cx="340.86" cy="62.94" r="0.9"/><circle cx="341.37" cy="61.53" r="0.9"/><circle cx="341.88" cy="62.5" r="0.9"/><circle cx="342.39" cy="61.34" r="0.9"/><circle cx="342.9" cy="61.19" r="0.9"/><circle cx="343.42" cy="58.08" r="0.9"/><circle cx="343.93" cy="62.31" r="0.9"/><circle cx="344.44" cy="61.77" r="0.9"/><circle cx="344.95" cy="62.65" r="0.9"/><circle cx="345.46" cy="61.26" r="0.9"/><circle cx="345.98" cy="62.69" r="0.9"/><circle cx="346.49" cy="61.8" r="0.9"/><circle cx="347" cy="59.72" r="0.9"/><circle cx="347.51" cy="63.12" r="0.9"/><circle cx="348.02" cy="62.13" r="0.9"/><circle cx="348.54" cy="62.39" r="0.9"/><circle cx="349.05" cy="62.49" r="0.9"/><circle cx="349.56" cy="62.67" r="0.9"/><circle cx="350.07" cy="62.08" r="0.9"/><circle cx="350.58" cy="63.18" r="0.9"/><circle cx="351.09" cy="61.89" r="0.9"/><circle cx="351.61" cy="59.01" r="0.9"/><circle cx="352.12" cy="62.5" r="0.9"/><circle cx="352.63" cy="62.21" r="0.9"/><circle cx="353.14" cy="62.97" r="0.9"/><circle cx="353.65" cy="62.78" r="0.9"/><circle cx="354.17" cy="62.4" r="0.9"/><circle cx="354.68" cy="62.39" r="0.9"/><circle cx="355.19" cy="62.4" r="0.9"/><circle cx="355.7" cy="61.77" r="0.9"/><circle cx="356.21" cy="61.33" r="0.9"/><circle cx="356.73" cy="61.64" r="0.9"/><circle cx="357.24" cy="62.23" r="0.9"/><circle cx="357.75" cy="60.49" r="0.9"/><circle cx="358.26" cy="61.95" r="0.9"/><circle cx="358.77" cy="61.51" r="0.9"/><circle cx="359.29" cy="62.23" r="0.9"/><circle cx="359.8" cy="61.65" r="0.9"/><circle cx="360.31" cy="57.48" r="0.9"/><circle cx="360.82" cy="62.12" r="0.9"/><circle cx="361.33" cy="63.34" r="0.9"/><circle cx="361.84" cy="62.03" r="0.9"/><circle cx="362.36" cy="64.84" r="0.9"/><circle cx="362.87" cy="62.32" r="0.9"/><circle cx="363.38" cy="60.85" r="0.9"/><circle cx="363.89" cy="61.44" r="0.9"/><circle cx="364.4" cy="63.45" r="0.9"/><circle cx="364.92" cy="62.71" r="0.9"/><circle cx="365.43" cy="62.37" r="0.9"/><circle cx="365.94" cy="65.73" r="0.9"/><circle cx="366.45" cy="59.4" r="0.9"/><circle cx="366.96" cy="62.1" r="0.9"/><circle cx="367.48" cy="62.06" r="0.9"/><circle cx="367.99" cy="60.88" r="0.9"/><circle cx="368.5" cy="63.05" r="0.9"/><circle cx="369.01" cy="62.15" r="0.9"/><circle cx="369.52" cy="62.22" r="0.9"/><circle cx="370.04" cy="62.03" r="0.9"/><circle cx="370.55" cy="61.79" r="0.9"/><circle cx="371.06" cy="60.49" r="0.9"/><circle cx="371.57" cy="62.42" r="0.9"/><circle cx="372.08" cy="64.04" r="0.9"/><circle cx="372.59" cy="58.37" r="0.9"/><circle cx="373.11" cy="62.07" r="0.9"/><circle cx="373.62" cy="61.56" r="0.9"/><circle cx="374.13" cy="62.32" r="0.9"/><circle cx="374.64" cy="62.6" r="0.9"/><circle cx="375.15" cy="62.2" r="0.9"/><circle cx="375.67" cy="62.97" r="0.9"/><circle cx="376.18" cy="61.54" r="0.9"/><circle cx="376.69" cy="63.15" r="0.9"/><circle cx="377.2" cy="62.42" r="0.9"/><circle cx="377.71" cy="61.86" r="0.9"/><circle cx="378.23" cy="62.07" r="0.9"/><circle cx="378.74" cy="62.58" r="0.9"/><circle cx="379.25" cy="62.91" r="0.9"/><circle cx="379.76" cy="62.36" r="0.9"/><circle cx="380.27" cy="62.77" r="0.9"/><circle cx="380.79" cy="59.36" r="0.9"/><circle cx="381.3" cy="60.99" r="0.9"/><circle cx="381.81" cy="60.7" r="0.9"/><circle cx="382.32" cy="62.37" r="0.9"/><circle cx="382.83" cy="61.53" r="0.9"/><circle cx="383.35" cy="62.39" r="0.9"/><circle cx="383.86" cy="61.01" r="0.9"/><circle cx="384.37" cy="62.41" r="0.9"/><circle cx="384.88" cy="63.35" r="0.9"/><circle cx="385.39" cy="63.19" r="0.9"/><circle cx="385.9" cy="61.42" r="0.9"/><circle cx="386.42" cy="62.05" r="0.9"/><circle cx="386.93" cy="63.01" r="0.9"/><circle cx="387.44" cy="63.76" r="0.9"/><circle cx="387.95" cy="61.54" r="0.9"/><circle cx="388.46" cy="61.62" r="0.9"/><circle cx="388.98" cy="63.19" r="0.9"/><circle cx="389.49" cy="62.01" r="0.9"/><circle cx="390" cy="61.48" r="0.9"/><circle cx="232.9" cy="55" r="0.9"/><circle cx="235.6" cy="52.8" r="0.9"/><circle cx="239" cy="57.9" r="0.9"/><circle cx="239.6" cy="67.7" r="0.9"/><circle cx="242.3" cy="66.2" r="0.9"/><circle cx="244.6" cy="57.9" r="0.9"/><circle cx="249" cy="66.2" r="0.9"/><circle cx="253.5" cy="58.8" r="0.9"/><circle cx="260.8" cy="57.2" r="0.9"/><circle cx="264.6" cy="59.7" r="0.9"/><circle cx="278.5" cy="74" r="0.9"/><circle cx="279.2" cy="45.4" r="0.9"/><circle cx="280.7" cy="71.7" r="0.9"/><circle cx="285.8" cy="66.8" r="0.9"/><circle cx="290.3" cy="78" r="0.9"/><circle cx="293.7" cy="60.1" r="0.9"/><circle cx="298.1" cy="55.7" r="0.9"/><circle cx="299.2" cy="67.3" r="0.9"/><circle cx="299.9" cy="73.5" r="0.9"/><circle cx="315.8" cy="72.7" r="0.9"/><circle cx="317.5" cy="55.6" r="0.9"/><circle cx="319.5" cy="79.5" r="0.9"/><circle cx="322.4" cy="43.5" r="0.9"/><circle cx="323.1" cy="76.3" r="0.9"/><circle cx="325.5" cy="48.3" r="0.9"/><circle cx="326.8" cy="44" r="0.9"/><circle cx="328" cy="70.7" r="0.9"/><circle cx="330.4" cy="56.9" r="0.9"/><circle cx="332.8" cy="71.4" r="0.9"/><circle cx="336.5" cy="69.7" r="0.9"/><circle cx="340.1" cy="50.8" r="0.9"/><circle cx="340.9" cy="77.5" r="0.9"/><circle cx="343.3" cy="45.9" r="0.9"/><circle cx="344.3" cy="73.1" r="0.9"/><circle cx="354" cy="45.9" r="0.9"/><circle cx="356.4" cy="52.7" r="0.9"/><circle cx="358.4" cy="44" r="0.9"/><circle cx="358.9" cy="80" r="0.9"/><circle cx="362" cy="76.3" r="0.9"/><circle cx="363.7" cy="55.2" r="0.9"/><circle cx="367.6" cy="73.9" r="0.9"/><circle cx="374.2" cy="52" r="0.9"/><circle cx="374.2" cy="78.7" r="0.9"/><circle cx="383.9" cy="50.8" r="0.9"/><circle cx="385.1" cy="67.8" r="0.9"/></g>
<path d="M308 62.3V29.4M308 62.3V91.6M310.9 62.3V72.7M314.1 62.3V35.7M337 62.3V37.4M339.4 62.3V36.2M347.4 62.3V87.7M353 62.3V29.4M357.1 62.3V23.5M361.3 62.3V35.7M365.7 62.3V85.6M371.7 62.3V108.7M389.3 62.3V11.4" stroke="#c98f74" stroke-width="1.4" fill="none"/>
<circle cx="308" cy="29.4" r="1.05" fill="#5a2c20"/><circle cx="308" cy="91.6" r="1.05" fill="#5a2c20"/><circle cx="310.9" cy="72.7" r="1.05" fill="#5a2c20"/><circle cx="314.1" cy="35.7" r="1.05" fill="#5a2c20"/><circle cx="337" cy="37.4" r="1.05" fill="#5a2c20"/><circle cx="339.4" cy="36.2" r="1.05" fill="#5a2c20"/><circle cx="347.4" cy="87.7" r="1.05" fill="#5a2c20"/><circle cx="353" cy="29.4" r="1.05" fill="#5a2c20"/><circle cx="357.1" cy="23.5" r="1.05" fill="#5a2c20"/><circle cx="361.3" cy="35.7" r="1.05" fill="#5a2c20"/><circle cx="365.7" cy="85.6" r="1.05" fill="#5a2c20"/><circle cx="371.7" cy="108.7" r="1.05" fill="#5a2c20"/><circle cx="389.3" cy="11.4" r="1.05" fill="#5a2c20"/>
<line x1="377.3" x2="377.3" y1="8.5" y2="111" stroke="#4a4f9e" stroke-width="0.85" stroke-dasharray="1.6 0.6"/>
<line x1="390" x2="390" y1="8.5" y2="111" stroke="#4a4f9e" stroke-width="0.85" stroke-dasharray="1.6 0.6"/>
<rect x="220" y="7" width="178.4" height="106" fill="none" stroke="#777777" stroke-width="1.1"/>
<line x1="218.7" x2="220" y1="8.3" y2="8.3" stroke="#3a3a3a" stroke-width="0.45"/>
<text x="218.1" y="10" text-anchor="end" font-size="3.6">0.6</text>
<line x1="218.7" x2="220" y1="26.3" y2="26.3" stroke="#3a3a3a" stroke-width="0.45"/>
<text x="218.1" y="28" text-anchor="end" font-size="3.6">0.4</text>
<line x1="218.7" x2="220" y1="44.3" y2="44.3" stroke="#3a3a3a" stroke-width="0.45"/>
<text x="218.1" y="46" text-anchor="end" font-size="3.6">0.2</text>
<line x1="218.7" x2="220" y1="62.3" y2="62.3" stroke="#3a3a3a" stroke-width="0.45"/>
<text x="218.1" y="64" text-anchor="end" font-size="3.6">0.0</text>
<line x1="218.7" x2="220" y1="80.3" y2="80.3" stroke="#3a3a3a" stroke-width="0.45"/>
<text x="218.1" y="82" text-anchor="end" font-size="3.6">−0.2</text>
<line x1="218.7" x2="220" y1="98.3" y2="98.3" stroke="#3a3a3a" stroke-width="0.45"/>
<text x="218.1" y="100" text-anchor="end" font-size="3.6">−0.4</text>
<text transform="translate(208.39,60) rotate(-90)" text-anchor="middle" font-size="3.4">BG_volume</text>
<path d="M227.6 113v1.3M231.2 113v1.3M236.7 113v1.3M241 113v1.3M248.5 113v1.3M252.9 113v1.3M264.5 113v1.3M269.5 113v1.3M271.2 113v1.3M272.8 113v1.3M274.5 113v1.3M276.5 113v1.3M282.9 113v1.3M284.3 113v1.3M288.5 113v1.3M291.8 113v1.3M294 113v1.3M296.8 113v1.3M298.5 113v1.3M302.5 113v1.3M310.3 113v1.3M338.5 113v1.3M367.2 113v1.3M376.9 113v1.3M384.6 113v1.3M389.9 113v1.3" stroke="#3a3a3a" stroke-width="0.45"/>
<g><text transform="translate(229.3,119.5) rotate(-90)" class="tl" font-size="3.6">18</text><text transform="translate(229.3,124.5) rotate(-90)" class="tl" font-size="3.6">18</text><text transform="translate(232.9,119.5) rotate(-90)" class="tl" font-size="3.6">18</text><text transform="translate(232.9,124.5) rotate(-90)" class="tl" font-size="3.6">18</text><text transform="translate(238.4,119.5) rotate(-90)" class="tl" font-size="3.6">18</text><text transform="translate(238.4,124.5) rotate(-90)" class="tl" font-size="3.6">18</text><text transform="translate(242.7,119.5) rotate(-90)" class="tl" font-size="3.6">18</text><text transform="translate(242.7,124.5) rotate(-90)" class="tl" font-size="3.6">18</text><text transform="translate(250.2,119.5) rotate(-90)" class="tl" font-size="3.6">18</text><text transform="translate(250.2,124.5) rotate(-90)" class="tl" font-size="3.6">18</text><text transform="translate(254.6,119.5) rotate(-90)" class="tl" font-size="3.6">18</text><text transform="translate(254.6,124.5) rotate(-90)" class="tl" font-size="3.6">18</text><text transform="translate(266.2,119.5) rotate(-90)" class="tl" font-size="3.6">18</text><text transform="translate(266.2,124.5) rotate(-90)" class="tl" font-size="3.6">18</text><text transform="translate(271.2,119.5) rotate(-90)" class="tl" font-size="3.6">18</text><text transform="translate(271.2,124.5) rotate(-90)" class="tl" font-size="3.6">18</text><text transform="translate(272.9,119.5) rotate(-90)" class="tl" font-size="3.6">18</text><text transform="translate(272.9,124.5) rotate(-90)" class="tl" font-size="3.6">18</text><text transform="translate(274.5,119.5) rotate(-90)" class="tl" font-size="3.6">18</text><text transform="translate(274.5,124.5) rotate(-90)" class="tl" font-size="3.6">18</text><text transform="translate(276.2,119.5) rotate(-90)" class="tl" font-size="3.6">18</text><text transform="translate(276.2,124.5) rotate(-90)" class="tl" font-size="3.6">18</text><text transform="translate(278.2,119.5) rotate(-90)" class="tl" font-size="3.6">18</text><text transform="translate(278.2,124.5) rotate(-90)" class="tl" font-size="3.6">18</text><text transform="translate(284.6,119.5) rotate(-90)" class="tl" font-size="3.6">18</text><text transform="translate(284.6,124.5) rotate(-90)" class="tl" font-size="3.6">18</text><text transform="translate(286,119.5) rotate(-90)" class="tl" font-size="3.6">18</text><text transform="translate(286,124.5) rotate(-90)" class="tl" font-size="3.6">18</text><text transform="translate(290.2,119.5) rotate(-90)" class="tl" font-size="3.6">18</text><text transform="translate(290.2,124.5) rotate(-90)" class="tl" font-size="3.6">18</text><text transform="translate(293.5,119.5) rotate(-90)" class="tl" font-size="3.6">18</text><text transform="translate(293.5,124.5) rotate(-90)" class="tl" font-size="3.6">18</text><text transform="translate(295.7,119.5) rotate(-90)" class="tl" font-size="3.6">18</text><text transform="translate(295.7,124.5) rotate(-90)" class="tl" font-size="3.6">18</text><text transform="translate(298.5,119.5) rotate(-90)" class="tl" font-size="3.6">18</text><text transform="translate(298.5,124.5) rotate(-90)" class="tl" font-size="3.6">18</text><text transform="translate(300.2,119.5) rotate(-90)" class="tl" font-size="3.6">18</text><text transform="translate(300.2,124.5) rotate(-90)" class="tl" font-size="3.6">18</text><text transform="translate(304.2,119.5) rotate(-90)" class="tl" font-size="3.6">18</text><text transform="translate(304.2,124.5) rotate(-90)" class="tl" font-size="3.6">18</text><text transform="translate(312,119.5) rotate(-90)" class="tl" font-size="3.6">18</text><text transform="translate(312,124.5) rotate(-90)" class="tl" font-size="3.6">18</text><text transform="translate(340.2,119.5) rotate(-90)" class="tl" font-size="3.6">18</text><text transform="translate(340.2,124.5) rotate(-90)" class="tl" font-size="3.6">18</text><text transform="translate(368.9,119.5) rotate(-90)" class="tl" font-size="3.6">18</text><text transform="translate(368.9,124.5) rotate(-90)" class="tl" font-size="3.6">18</text><text transform="translate(378.6,119.5) rotate(-90)" class="tl" font-size="3.6">18</text><text transform="translate(378.6,124.5) rotate(-90)" class="tl" font-size="3.6">18</text><text transform="translate(378.6,129.5) rotate(-90)" class="tl" font-size="3.6">18</text><text transform="translate(386.3,119.5) rotate(-90)" class="tl" font-size="3.6">18</text><text transform="translate(386.3,124.5) rotate(-90)" class="tl" font-size="3.6">18</text><text transform="translate(391.6,119.5) rotate(-90)" class="tl" font-size="3.6">18</text><text transform="translate(391.6,124.5) rotate(-90)" class="tl" font-size="3.6">18</text><text transform="translate(391.6,129.5) rotate(-90)" class="tl" font-size="3.6">18</text></g>
<text x="309" y="134" text-anchor="middle" font-size="3.4">datetime</text>
<text x="308.6" y="4.3" text-anchor="middle" class="ttl" font-size="4.0">IRIS_2022-8-17 13:24</text>
<rect x="221.2" y="8.3" width="43.68" height="9.9" fill="#fff" fill-opacity="0.85" stroke="#ececec" stroke-width="0.4" rx="0.6"/>
<line x1="222.7" x2="229.7" y1="11.2" y2="11.2" stroke="#4a4f9e" stroke-width="0.6" stroke-dasharray="1.4 0.7"/>
<line x1="222.7" x2="229.7" y1="15.3" y2="15.3" stroke="#e4dbab" stroke-width="0.65" stroke-dasharray="1.4 0.7"/>
<text x="232" y="12.4" font-size="3.45">2022-8-17 13:24</text>
<text x="232" y="16.5" font-size="3.45">anomalous volumes</text>
<rect x="26.5" y="144.8" width="4.5" height="106.8" fill="#fff7fa"/>
<rect x="47" y="144.8" width="5" height="106.8" fill="#fff7fa"/>
<rect x="71" y="144.8" width="6" height="106.8" fill="#fff7fa"/>
<rect x="105" y="144.8" width="5" height="106.8" fill="#fff7fa"/>
<rect x="121.5" y="144.8" width="4" height="106.8" fill="#fff7fa"/>
<rect x="130.5" y="144.8" width="5.5" height="106.8" fill="#fff7fa"/>
<rect x="152.5" y="144.8" width="4.5" height="106.8" fill="#fff7fa"/>
<rect x="159.5" y="144.8" width="11.5" height="106.8" fill="#fff7fa"/>
<rect x="177.5" y="144.8" width="4.5" height="106.8" fill="#fff7fa"/>
<rect x="25" y="198" width="166.5" height="15" fill="#e0fbf3"/>

<line x1="27" x2="192.5" y1="178.3" y2="178.3" stroke="#e4dbab" stroke-width="1.2" stroke-dasharray="2.4 0.4"/>
<line x1="27" x2="192.5" y1="233" y2="233" stroke="#e4dbab" stroke-width="1.2" stroke-dasharray="2.4 0.4"/>
<path d="M27 205.93 L27.51 208.7 L28.03 206.52 L28.54 202.86 L29.05 203.73 L29.56 206.35 L30.08 204.72 L30.59 206.95 L31.1 201.3 L31.61 208.6 L32.13 208.19 L32.64 202.19 L33.15 204.27 L33.66 203.71 L34.18 208.21 L34.69 206.59 L35.2 203.92 L35.71 203.2 L36.23 206.16 L36.74 201.46 L37.25 204.1 L37.76 205.45 L38.28 202.3 L38.79 206.74 L39.3 200.68 L39.81 206.04 L40.33 204.83 L40.84 210.48 L41.35 204.36 L41.86 201.16 L42.38 206.38 L42.89 208.24 L43.4 207.52 L43.91 205.25 L44.43 205.85 L44.94 198.52 L45.45 205.36 L45.96 205.36 L46.48 204.91 L46.99 200.3 L47.5 205.4 L48.01 205.74 L48.53 209.99 L49.04 205.67 L49.55 206.37 L50.06 211.36 L50.58 206.52 L51.09 199.71 L51.6 202.63 L52.11 198.94 L52.63 210.58 L53.14 203.83 L53.65 202.81 L54.16 203.43 L54.68 202.42 L55.19 203.58 L55.7 202.65 L56.21 202.17 L56.73 206.68 L57.24 204.76 L57.75 209.59 L58.26 207.94 L58.78 205.98 L59.29 204.77 L59.8 202.7 L60.32 206.23 L60.83 205.64 L61.34 206.68 L61.85 204.52 L62.37 204.07 L62.88 200.86 L63.39 205.78 L63.9 201.87 L64.42 203.81 L64.93 205.63 L65.44 204.84 L65.95 210.25 L66.47 205.53 L66.98 201.39 L67.49 204.79 L68 207.04 L68.52 206.85 L69.03 210.09 L69.54 206.45 L70.05 205.5 L70.57 202.85 L71.08 202.15 L71.59 197.93 L72.1 207.27 L72.62 205.58 L73.13 202.92 L73.64 210.41 L74.15 206.64 L74.67 204.52 L75.18 203.82 L75.69 205.55 L76.2 200.79 L76.72 205.5 L77.23 202.14 L77.74 204.52 L78.25 205.35 L78.77 204.41 L79.28 203.28 L79.79 203.96 L80.3 206.2 L80.82 202.16 L81.33 203.01 L81.84 205.27 L82.35 206.17 L82.87 198.67 L83.38 203.69 L83.89 201.49 L84.4 203.96 L84.92 211.56 L85.43 207.17 L85.94 208.21 L86.45 202.91 L86.97 203.8 L87.48 204.19 L87.99 202.38 L88.5 203.72 L89.02 206.48 L89.53 199.46 L90.04 204.16 L90.55 207.5 L91.07 205.29 L91.58 205.65 L92.09 204.74 L92.61 203.54 L93.12 204.03 L93.63 205.2 L94.14 203.62 L94.66 204.8 L95.17 203.88 L95.68 204.56 L96.19 207.63 L96.71 205.87 L97.22 202.29 L97.73 204.37 L98.24 208.15 L98.76 208.11 L99.27 202.55 L99.78 205.55 L100.29 204.74 L100.81 200.3 L101.32 205.28 L101.83 207.89 L102.34 203.4 L102.86 204.17 L103.37 206.51 L103.88 203.9 L104.39 203.9 L104.91 205.26 L105.42 202.05 L105.93 205.66 L106.44 202.28 L106.96 204.83 L107.47 206.26 L107.98 199.42 L108.49 203.29 L109.01 205.17 L109.52 205.2 L110.03 201.38 L110.54 201.6 L111.06 200.14 L111.57 205.76 L112.08 198.39 L112.59 204.96 L113.11 204.64 L113.62 198.17 L114.13 204.72 L114.64 205.65 L115.16 207.68 L115.67 202.8 L116.18 204.8 L116.69 200.31 L117.21 201.64 L117.72 201.57 L118.23 200.81 L118.74 205.35 L119.26 207.12 L119.77 198.24 L120.28 203.39 L120.79 204.73 L121.31 203.75 L121.82 204.61 L122.33 203.41 L122.84 206.31 L123.36 210.86 L123.87 204.58 L124.38 200.54 L124.89 208.8 L125.41 204.78 L125.92 209.41 L126.43 211.6 L126.95 205.82 L127.46 206.27 L127.97 203.6 L128.48 200.88 L129 204.37 L129.51 202.66 L130.02 204.62 L130.53 200.59 L131.05 205.43 L131.56 204.75 L132.07 209.05 L132.58 206.02 L133.1 205.08 L133.61 201.32 L134.12 200.3 L134.63 201.7 L135.15 207.71 L135.66 205.94 L136.17 201.8 L136.68 201.44 L137.2 208.4 L137.71 204.96 L138.22 206.3 L138.73 204.38 L139.25 206.06 L139.76 206.18 L140.27 201.48 L140.78 204.4 L141.3 205.42 L141.81 203.59 L142.32 202.03 L142.83 207.17 L143.35 204.97 L143.86 198.48 L144.37 202.85 L144.88 204.39 L145.4 206.63 L145.91 209.09 L146.42 205.41 L146.93 205.05 L147.45 204.12 L147.96 204.55 L148.47 204.65 L148.98 202.82 L149.5 201.94 L150.01 200.37 L150.52 199.76 L151.03 211.14 L151.55 209.54 L152.06 204.63 L152.57 203.62 L153.08 202.07 L153.6 202.75 L154.11 203.56 L154.62 205.57 L155.13 202.55 L155.65 206.64 L156.16 204.66 L156.67 206.76 L157.18 206.4 L157.7 204.97 L158.21 204.84 L158.72 205.2 L159.24 205.19 L159.75 205.94 L160.26 207.97 L160.77 199.96 L161.29 207.53 L161.8 206.4 L162.31 204.05 L162.82 200.11 L163.34 211.18 L163.85 206.28 L164.36 204.02 L164.87 206.65 L165.39 211.66 L165.9 204.38 L166.41 205.87 L166.92 204.99 L167.44 203.15 L167.95 202.38 L168.46 203.75 L168.97 203.43 L169.49 208.52 L170 202.8 L170.51 202.12 L171.02 208.63 L171.54 201.67 L172.05 203.61 L172.56 205.56 L173.07 204.7 L173.59 205.23 L174.1 207.45 L174.61 208.87 L175.12 205.07 L175.64 198.82 L176.15 204.11 L176.66 203.7 L177.17 203.86 L177.69 205.03 L178.2 203.75 L178.71 205.13 L179.22 209.61 L179.74 202.63 L180.25 203.95 L180.76 204.09 L181.27 203.62 L181.79 203.75 L182.3 205.48 L182.81 202.17 L183.32 206.16 L183.84 203.42 L184.35 204.27 L184.86 206.75 L185.37 206.18 L185.89 201.22 L186.4 205.13 L186.91 206.94 L187.42 202.79 L187.94 198.98 L188.45 206.94 L188.96 202.21 L189.47 207.68 L189.99 202.12 L190.5 203.22" fill="none" stroke="#2f7f3c" stroke-width="1.1" stroke-linejoin="round"/>
<path d="M30 204.8V193M33.4 204.8V216M36 204.8V199.7M38.3 204.8V218.7M44.1 204.8V211.5M47.2 204.8V225.8M50.1 204.8V216.4M62.4 204.8V199.7M64.6 204.8V184.7M76.9 204.8V198.6M80.3 204.8V210.8M82.5 204.8V198.1M82.5 204.8V219.8M85.8 204.8V187.4M88.1 204.8V185.2M91 204.8V216.4M104.8 204.8V193.7M104.8 204.8V226.5M117.5 204.8V195.8M123.4 204.8V229M128.8 204.8V197.4M130.1 204.8V216.8M132.4 204.8V182.2M135.1 204.8V217.7M136.2 204.8V196.9M138.5 204.8V195.8M142.3 204.8V199.2M145.2 204.8V215M146.4 204.8V187.4M147.5 204.8V230.8M148.6 204.8V221.7M151.3 204.8V194.2M154.3 204.8V187.4M156.5 204.8V186.8M156.5 204.8V227.4M157.7 204.8V190.1M162.2 204.8V227.4M162.2 204.8V198.7M166.2 204.8V201M170.8 204.8V212.7M173.5 204.8V191.3M173.5 204.8V222.2M178 204.8V189M179.8 204.8V222.9M184.7 204.8V212.7M187 204.8V218.4M189.7 204.8V194.2" stroke="#356b3d" stroke-width="0.75" fill="none"/>
<g fill="#2b6a34" stroke="#1d4424" stroke-width="0.25"><circle cx="27" cy="205.93" r="0.9"/><circle cx="27.51" cy="208.7" r="0.9"/><circle cx="28.03" cy="206.52" r="0.9"/><circle cx="28.54" cy="202.86" r="0.9"/><circle cx="29.05" cy="203.73" r="0.9"/><circle cx="29.56" cy="206.35" r="0.9"/><circle cx="30.08" cy="204.72" r="0.9"/><circle cx="30.59" cy="206.95" r="0.9"/><circle cx="31.1" cy="201.3" r="0.9"/><circle cx="31.61" cy="208.6" r="0.9"/><circle cx="32.13" cy="208.19" r="0.9"/><circle cx="32.64" cy="202.19" r="0.9"/><circle cx="33.15" cy="204.27" r="0.9"/><circle cx="33.66" cy="203.71" r="0.9"/><circle cx="34.18" cy="208.21" r="0.9"/><circle cx="34.69" cy="206.59" r="0.9"/><circle cx="35.2" cy="203.92" r="0.9"/><circle cx="35.71" cy="203.2" r="0.9"/><circle cx="36.23" cy="206.16" r="0.9"/><circle cx="36.74" cy="201.46" r="0.9"/><circle cx="37.25" cy="204.1" r="0.9"/><circle cx="37.76" cy="205.45" r="0.9"/><circle cx="38.28" cy="202.3" r="0.9"/><circle cx="38.79" cy="206.74" r="0.9"/><circle cx="39.3" cy="200.68" r="0.9"/><circle cx="39.81" cy="206.04" r="0.9"/><circle cx="40.33" cy="204.83" r="0.9"/><circle cx="40.84" cy="210.48" r="0.9"/><circle cx="41.35" cy="204.36" r="0.9"/><circle cx="41.86" cy="201.16" r="0.9"/><circle cx="42.38" cy="206.38" r="0.9"/><circle cx="42.89" cy="208.24" r="0.9"/><circle cx="43.4" cy="207.52" r="0.9"/><circle cx="43.91" cy="205.25" r="0.9"/><circle cx="44.43" cy="205.85" r="0.9"/><circle cx="44.94" cy="198.52" r="0.9"/><circle cx="45.45" cy="205.36" r="0.9"/><circle cx="45.96" cy="205.36" r="0.9"/><circle cx="46.48" cy="204.91" r="0.9"/><circle cx="46.99" cy="200.3" r="0.9"/><circle cx="47.5" cy="205.4" r="0.9"/><circle cx="48.01" cy="205.74" r="0.9"/><circle cx="48.53" cy="209.99" r="0.9"/><circle cx="49.04" cy="205.67" r="0.9"/><circle cx="49.55" cy="206.37" r="0.9"/><circle cx="50.06" cy="211.36" r="0.9"/><circle cx="50.58" cy="206.52" r="0.9"/><circle cx="51.09" cy="199.71" r="0.9"/><circle cx="51.6" cy="202.63" r="0.9"/><circle cx="52.11" cy="198.94" r="0.9"/><circle cx="52.63" cy="210.58" r="0.9"/><circle cx="53.14" cy="203.83" r="0.9"/><circle cx="53.65" cy="202.81" r="0.9"/><circle cx="54.16" cy="203.43" r="0.9"/><circle cx="54.68" cy="202.42" r="0.9"/><circle cx="55.19" cy="203.58" r="0.9"/><circle cx="55.7" cy="202.65" r="0.9"/><circle cx="56.21" cy="202.17" r="0.9"/><circle cx="56.73" cy="206.68" r="0.9"/><circle cx="57.24" cy="204.76" r="0.9"/><circle cx="57.75" cy="209.59" r="0.9"/><circle cx="58.26" cy="207.94" r="0.9"/><circle cx="58.78" cy="205.98" r="0.9"/><circle cx="59.29" cy="204.77" r="0.9"/><circle cx="59.8" cy="202.7" r="0.9"/><circle cx="60.32" cy="206.23" r="0.9"/><circle cx="60.83" cy="205.64" r="0.9"/><circle cx="61.34" cy="206.68" r="0.9"/><circle cx="61.85" cy="204.52" r="0.9"/><circle cx="62.37" cy="204.07" r="0.9"/><circle cx="62.88" cy="200.86" r="0.9"/><circle cx="63.39" cy="205.78" r="0.9"/><circle cx="63.9" cy="201.87" r="0.9"/><circle cx="64.42" cy="203.81" r="0.9"/><circle cx="64.93" cy="205.63" r="0.9"/><circle cx="65.44" cy="204.84" r="0.9"/><circle cx="65.95" cy="210.25" r="0.9"/><circle cx="66.47" cy="205.53" r="0.9"/><circle cx="66.98" cy="201.39" r="0.9"/><circle cx="67.49" cy="204.79" r="0.9"/><circle cx="68" cy="207.04" r="0.9"/><circle cx="68.52" cy="206.85" r="0.9"/><circle cx="69.03" cy="210.09" r="0.9"/><circle cx="69.54" cy="206.45" r="0.9"/><circle cx="70.05" cy="205.5" r="0.9"/><circle cx="70.57" cy="202.85" r="0.9"/><circle cx="71.08" cy="202.15" r="0.9"/><circle cx="71.59" cy="197.93" r="0.9"/><circle cx="72.1" cy="207.27" r="0.9"/><circle cx="72.62" cy="205.58" r="0.9"/><circle cx="73.13" cy="202.92" r="0.9"/><circle cx="73.64" cy="210.41" r="0.9"/><circle cx="74.15" cy="206.64" r="0.9"/><circle cx="74.67" cy="204.52" r="0.9"/><circle cx="75.18" cy="203.82" r="0.9"/><circle cx="75.69" cy="205.55" r="0.9"/><circle cx="76.2" cy="200.79" r="0.9"/><circle cx="76.72" cy="205.5" r="0.9"/><circle cx="77.23" cy="202.14" r="0.9"/><circle cx="77.74" cy="204.52" r="0.9"/><circle cx="78.25" cy="205.35" r="0.9"/><circle cx="78.77" cy="204.41" r="0.9"/><circle cx="79.28" cy="203.28" r="0.9"/><circle cx="79.79" cy="203.96" r="0.9"/><circle cx="80.3" cy="206.2" r="0.9"/><circle cx="80.82" cy="202.16" r="0.9"/><circle cx="81.33" cy="203.01" r="0.9"/><circle cx="81.84" cy="205.27" r="0.9"/><circle cx="82.35" cy="206.17" r="0.9"/><circle cx="82.87" cy="198.67" r="0.9"/><circle cx="83.38" cy="203.69" r="0.9"/><circle cx="83.89" cy="201.49" r="0.9"/><circle cx="84.4" cy="203.96" r="0.9"/><circle cx="84.92" cy="211.56" r="0.9"/><circle cx="85.43" cy="207.17" r="0.9"/><circle cx="85.94" cy="208.21" r="0.9"/><circle cx="86.45" cy="202.91" r="0.9"/><circle cx="86.97" cy="203.8" r="0.9"/><circle cx="87.48" cy="204.19" r="0.9"/><circle cx="87.99" cy="202.38" r="0.9"/><circle cx="88.5" cy="203.72" r="0.9"/><circle cx="89.02" cy="206.48" r="0.9"/><circle cx="89.53" cy="199.46" r="0.9"/><circle cx="90.04" cy="204.16" r="0.9"/><circle cx="90.55" cy="207.5" r="0.9"/><circle cx="91.07" cy="205.29" r="0.9"/><circle cx="91.58" cy="205.65" r="0.9"/><circle cx="92.09" cy="204.74" r="0.9"/><circle cx="92.61" cy="203.54" r="0.9"/><circle cx="93.12" cy="204.03" r="0.9"/><circle cx="93.63" cy="205.2" r="0.9"/><circle cx="94.14" cy="203.62" r="0.9"/><circle cx="94.66" cy="204.8" r="0.9"/><circle cx="95.17" cy="203.88" r="0.9"/><circle cx="95.68" cy="204.56" r="0.9"/><circle cx="96.19" cy="207.63" r="0.9"/><circle cx="96.71" cy="205.87" r="0.9"/><circle cx="97.22" cy="202.29" r="0.9"/><circle cx="97.73" cy="204.37" r="0.9"/><circle cx="98.24" cy="208.15" r="0.9"/><circle cx="98.76" cy="208.11" r="0.9"/><circle cx="99.27" cy="202.55" r="0.9"/><circle cx="99.78" cy="205.55" r="0.9"/><circle cx="100.29" cy="204.74" r="0.9"/><circle cx="100.81" cy="200.3" r="0.9"/><circle cx="101.32" cy="205.28" r="0.9"/><circle cx="101.83" cy="207.89" r="0.9"/><circle cx="102.34" cy="203.4" r="0.9"/><circle cx="102.86" cy="204.17" r="0.9"/><circle cx="103.37" cy="206.51" r="0.9"/><circle cx="103.88" cy="203.9" r="0.9"/><circle cx="104.39" cy="203.9" r="0.9"/><circle cx="104.91" cy="205.26" r="0.9"/><circle cx="105.42" cy="202.05" r="0.9"/><circle cx="105.93" cy="205.66" r="0.9"/><circle cx="106.44" cy="202.28" r="0.9"/><circle cx="106.96" cy="204.83" r="0.9"/><circle cx="107.47" cy="206.26" r="0.9"/><circle cx="107.98" cy="199.42" r="0.9"/><circle cx="108.49" cy="203.29" r="0.9"/><circle cx="109.01" cy="205.17" r="0.9"/><circle cx="109.52" cy="205.2" r="0.9"/><circle cx="110.03" cy="201.38" r="0.9"/><circle cx="110.54" cy="201.6" r="0.9"/><circle cx="111.06" cy="200.14" r="0.9"/><circle cx="111.57" cy="205.76" r="0.9"/><circle cx="112.08" cy="198.39" r="0.9"/><circle cx="112.59" cy="204.96" r="0.9"/><circle cx="113.11" cy="204.64" r="0.9"/><circle cx="113.62" cy="198.17" r="0.9"/><circle cx="114.13" cy="204.72" r="0.9"/><circle cx="114.64" cy="205.65" r="0.9"/><circle cx="115.16" cy="207.68" r="0.9"/><circle cx="115.67" cy="202.8" r="0.9"/><circle cx="116.18" cy="204.8" r="0.9"/><circle cx="116.69" cy="200.31" r="0.9"/><circle cx="117.21" cy="201.64" r="0.9"/><circle cx="117.72" cy="201.57" r="0.9"/><circle cx="118.23" cy="200.81" r="0.9"/><circle cx="118.74" cy="205.35" r="0.9"/><circle cx="119.26" cy="207.12" r="0.9"/><circle cx="119.77" cy="198.24" r="0.9"/><circle cx="120.28" cy="203.39" r="0.9"/><circle cx="120.79" cy="204.73" r="0.9"/><circle cx="121.31" cy="203.75" r="0.9"/><circle cx="121.82" cy="204.61" r="0.9"/><circle cx="122.33" cy="203.41" r="0.9"/><circle cx="122.84" cy="206.31" r="0.9"/><circle cx="123.36" cy="210.86" r="0.9"/><circle cx="123.87" cy="204.58" r="0.9"/><circle cx="124.38" cy="200.54" r="0.9"/><circle cx="124.89" cy="208.8" r="0.9"/><circle cx="125.41" cy="204.78" r="0.9"/><circle cx="125.92" cy="209.41" r="0.9"/><circle cx="126.43" cy="211.6" r="0.9"/><circle cx="126.95" cy="205.82" r="0.9"/><circle cx="127.46" cy="206.27" r="0.9"/><circle cx="127.97" cy="203.6" r="0.9"/><circle cx="128.48" cy="200.88" r="0.9"/><circle cx="129" cy="204.37" r="0.9"/><circle cx="129.51" cy="202.66" r="0.9"/><circle cx="130.02" cy="204.62" r="0.9"/><circle cx="130.53" cy="200.59" r="0.9"/><circle cx="131.05" cy="205.43" r="0.9"/><circle cx="131.56" cy="204.75" r="0.9"/><circle cx="132.07" cy="209.05" r="0.9"/><circle cx="132.58" cy="206.02" r="0.9"/><circle cx="133.1" cy="205.08" r="0.9"/><circle cx="133.61" cy="201.32" r="0.9"/><circle cx="134.12" cy="200.3" r="0.9"/><circle cx="134.63" cy="201.7" r="0.9"/><circle cx="135.15" cy="207.71" r="0.9"/><circle cx="135.66" cy="205.94" r="0.9"/><circle cx="136.17" cy="201.8" r="0.9"/><circle cx="136.68" cy="201.44" r="0.9"/><circle cx="137.2" cy="208.4" r="0.9"/><circle cx="137.71" cy="204.96" r="0.9"/><circle cx="138.22" cy="206.3" r="0.9"/><circle cx="138.73" cy="204.38" r="0.9"/><circle cx="139.25" cy="206.06" r="0.9"/><circle cx="139.76" cy="206.18" r="0.9"/><circle cx="140.27" cy="201.48" r="0.9"/><circle cx="140.78" cy="204.4" r="0.9"/><circle cx="141.3" cy="205.42" r="0.9"/><circle cx="141.81" cy="203.59" r="0.9"/><circle cx="142.32" cy="202.03" r="0.9"/><circle cx="142.83" cy="207.17" r="0.9"/><circle cx="143.35" cy="204.97" r="0.9"/><circle cx="143.86" cy="198.48" r="0.9"/><circle cx="144.37" cy="202.85" r="0.9"/><circle cx="144.88" cy="204.39" r="0.9"/><circle cx="145.4" cy="206.63" r="0.9"/><circle cx="145.91" cy="209.09" r="0.9"/><circle cx="146.42" cy="205.41" r="0.9"/><circle cx="146.93" cy="205.05" r="0.9"/><circle cx="147.45" cy="204.12" r="0.9"/><circle cx="147.96" cy="204.55" r="0.9"/><circle cx="148.47" cy="204.65" r="0.9"/><circle cx="148.98" cy="202.82" r="0.9"/><circle cx="149.5" cy="201.94" r="0.9"/><circle cx="150.01" cy="200.37" r="0.9"/><circle cx="150.52" cy="199.76" r="0.9"/><circle cx="151.03" cy="211.14" r="0.9"/><circle cx="151.55" cy="209.54" r="0.9"/><circle cx="152.06" cy="204.63" r="0.9"/><circle cx="152.57" cy="203.62" r="0.9"/><circle cx="153.08" cy="202.07" r="0.9"/><circle cx="153.6" cy="202.75" r="0.9"/><circle cx="154.11" cy="203.56" r="0.9"/><circle cx="154.62" cy="205.57" r="0.9"/><circle cx="155.13" cy="202.55" r="0.9"/><circle cx="155.65" cy="206.64" r="0.9"/><circle cx="156.16" cy="204.66" r="0.9"/><circle cx="156.67" cy="206.76" r="0.9"/><circle cx="157.18" cy="206.4" r="0.9"/><circle cx="157.7" cy="204.97" r="0.9"/><circle cx="158.21" cy="204.84" r="0.9"/><circle cx="158.72" cy="205.2" r="0.9"/><circle cx="159.24" cy="205.19" r="0.9"/><circle cx="159.75" cy="205.94" r="0.9"/><circle cx="160.26" cy="207.97" r="0.9"/><circle cx="160.77" cy="199.96" r="0.9"/><circle cx="161.29" cy="207.53" r="0.9"/><circle cx="161.8" cy="206.4" r="0.9"/><circle cx="162.31" cy="204.05" r="0.9"/><circle cx="162.82" cy="200.11" r="0.9"/><circle cx="163.34" cy="211.18" r="0.9"/><circle cx="163.85" cy="206.28" r="0.9"/><circle cx="164.36" cy="204.02" r="0.9"/><circle cx="164.87" cy="206.65" r="0.9"/><circle cx="165.39" cy="211.66" r="0.9"/><circle cx="165.9" cy="204.38" r="0.9"/><circle cx="166.41" cy="205.87" r="0.9"/><circle cx="166.92" cy="204.99" r="0.9"/><circle cx="167.44" cy="203.15" r="0.9"/><circle cx="167.95" cy="202.38" r="0.9"/><circle cx="168.46" cy="203.75" r="0.9"/><circle cx="168.97" cy="203.43" r="0.9"/><circle cx="169.49" cy="208.52" r="0.9"/><circle cx="170" cy="202.8" r="0.9"/><circle cx="170.51" cy="202.12" r="0.9"/><circle cx="171.02" cy="208.63" r="0.9"/><circle cx="171.54" cy="201.67" r="0.9"/><circle cx="172.05" cy="203.61" r="0.9"/><circle cx="172.56" cy="205.56" r="0.9"/><circle cx="173.07" cy="204.7" r="0.9"/><circle cx="173.59" cy="205.23" r="0.9"/><circle cx="174.1" cy="207.45" r="0.9"/><circle cx="174.61" cy="208.87" r="0.9"/><circle cx="175.12" cy="205.07" r="0.9"/><circle cx="175.64" cy="198.82" r="0.9"/><circle cx="176.15" cy="204.11" r="0.9"/><circle cx="176.66" cy="203.7" r="0.9"/><circle cx="177.17" cy="203.86" r="0.9"/><circle cx="177.69" cy="205.03" r="0.9"/><circle cx="178.2" cy="203.75" r="0.9"/><circle cx="178.71" cy="205.13" r="0.9"/><circle cx="179.22" cy="209.61" r="0.9"/><circle cx="179.74" cy="202.63" r="0.9"/><circle cx="180.25" cy="203.95" r="0.9"/><circle cx="180.76" cy="204.09" r="0.9"/><circle cx="181.27" cy="203.62" r="0.9"/><circle cx="181.79" cy="203.75" r="0.9"/><circle cx="182.3" cy="205.48" r="0.9"/><circle cx="182.81" cy="202.17" r="0.9"/><circle cx="183.32" cy="206.16" r="0.9"/><circle cx="183.84" cy="203.42" r="0.9"/><circle cx="184.35" cy="204.27" r="0.9"/><circle cx="184.86" cy="206.75" r="0.9"/><circle cx="185.37" cy="206.18" r="0.9"/><circle cx="185.89" cy="201.22" r="0.9"/><circle cx="186.4" cy="205.13" r="0.9"/><circle cx="186.91" cy="206.94" r="0.9"/><circle cx="187.42" cy="202.79" r="0.9"/><circle cx="187.94" cy="198.98" r="0.9"/><circle cx="188.45" cy="206.94" r="0.9"/><circle cx="188.96" cy="202.21" r="0.9"/><circle cx="189.47" cy="207.68" r="0.9"/><circle cx="189.99" cy="202.12" r="0.9"/><circle cx="190.5" cy="203.22" r="0.9"/><circle cx="30" cy="193" r="0.9"/><circle cx="33.4" cy="216" r="0.9"/><circle cx="36" cy="199.7" r="0.9"/><circle cx="38.3" cy="218.7" r="0.9"/><circle cx="44.1" cy="211.5" r="0.9"/><circle cx="47.2" cy="225.8" r="0.9"/><circle cx="50.1" cy="216.4" r="0.9"/><circle cx="62.4" cy="199.7" r="0.9"/><circle cx="64.6" cy="184.7" r="0.9"/><circle cx="76.9" cy="198.6" r="0.9"/><circle cx="80.3" cy="210.8" r="0.9"/><circle cx="82.5" cy="198.1" r="0.9"/><circle cx="82.5" cy="219.8" r="0.9"/><circle cx="85.8" cy="187.4" r="0.9"/><circle cx="88.1" cy="185.2" r="0.9"/><circle cx="91" cy="216.4" r="0.9"/><circle cx="104.8" cy="193.7" r="0.9"/><circle cx="104.8" cy="226.5" r="0.9"/><circle cx="117.5" cy="195.8" r="0.9"/><circle cx="123.4" cy="229" r="0.9"/><circle cx="128.8" cy="197.4" r="0.9"/><circle cx="130.1" cy="216.8" r="0.9"/><circle cx="132.4" cy="182.2" r="0.9"/><circle cx="135.1" cy="217.7" r="0.9"/><circle cx="136.2" cy="196.9" r="0.9"/><circle cx="138.5" cy="195.8" r="0.9"/><circle cx="142.3" cy="199.2" r="0.9"/><circle cx="145.2" cy="215" r="0.9"/><circle cx="146.4" cy="187.4" r="0.9"/><circle cx="147.5" cy="230.8" r="0.9"/><circle cx="148.6" cy="221.7" r="0.9"/><circle cx="151.3" cy="194.2" r="0.9"/><circle cx="154.3" cy="187.4" r="0.9"/><circle cx="156.5" cy="186.8" r="0.9"/><circle cx="156.5" cy="227.4" r="0.9"/><circle cx="157.7" cy="190.1" r="0.9"/><circle cx="162.2" cy="227.4" r="0.9"/><circle cx="162.2" cy="198.7" r="0.9"/><circle cx="166.2" cy="201" r="0.9"/><circle cx="170.8" cy="212.7" r="0.9"/><circle cx="173.5" cy="191.3" r="0.9"/><circle cx="173.5" cy="222.2" r="0.9"/><circle cx="178" cy="189" r="0.9"/><circle cx="179.8" cy="222.9" r="0.9"/><circle cx="184.7" cy="212.7" r="0.9"/><circle cx="187" cy="218.4" r="0.9"/><circle cx="189.7" cy="194.2" r="0.9"/></g>
<path d="M28.9 204.8V149.9M49 204.8V175.8M72.5 204.8V174.7M74.7 204.8V245.4M107 204.8V174M123.4 204.8V149.1M133.3 204.8V238M154.3 204.8V246.6M161 204.8V173.9M167.8 204.8V170.3M168.9 204.8V154.5M179.8 204.8V165.8" stroke="#b67d58" stroke-width="1.05" fill="none"/>
<circle cx="28.9" cy="149.9" r="1.05" fill="#5a2c20"/><circle cx="49" cy="175.8" r="1.05" fill="#5a2c20"/><circle cx="72.5" cy="174.7" r="1.05" fill="#5a2c20"/><circle cx="74.7" cy="245.4" r="1.05" fill="#5a2c20"/><circle cx="107" cy="174" r="1.05" fill="#5a2c20"/><circle cx="123.4" cy="149.1" r="1.05" fill="#5a2c20"/><circle cx="133.3" cy="238" r="1.05" fill="#5a2c20"/><circle cx="154.3" cy="246.6" r="1.05" fill="#5a2c20"/><circle cx="161" cy="173.9" r="1.05" fill="#5a2c20"/><circle cx="167.8" cy="170.3" r="1.05" fill="#5a2c20"/><circle cx="168.9" cy="154.5" r="1.05" fill="#5a2c20"/><circle cx="179.8" cy="165.8" r="1.05" fill="#5a2c20"/>
<line x1="180.9" x2="180.9" y1="146.3" y2="250.1" stroke="#4a4f9e" stroke-width="0.85" stroke-dasharray="1.6 0.6"/>
<line x1="190.4" x2="190.4" y1="146.3" y2="250.1" stroke="#4a4f9e" stroke-width="0.85" stroke-dasharray="1.6 0.6"/>
<rect x="20" y="144.8" width="178.7" height="106.8" fill="none" stroke="#777777" stroke-width="1.1"/>
<line x1="18.7" x2="20" y1="153.6" y2="153.6" stroke="#3a3a3a" stroke-width="0.45"/>
<text x="18.1" y="155.3" text-anchor="end" font-size="3.6">0.4</text>
<line x1="18.7" x2="20" y1="166.6" y2="166.6" stroke="#3a3a3a" stroke-width="0.45"/>
<text x="18.1" y="168.3" text-anchor="end" font-size="3.6">0.3</text>
<line x1="18.7" x2="20" y1="179.6" y2="179.6" stroke="#3a3a3a" stroke-width="0.45"/>
<text x="18.1" y="181.3" text-anchor="end" font-size="3.6">0.2</text>
<line x1="18.7" x2="20" y1="192.6" y2="192.6" stroke="#3a3a3a" stroke-width="0.45"/>
<text x="18.1" y="194.3" text-anchor="end" font-size="3.6">0.1</text>
<line x1="18.7" x2="20" y1="205.6" y2="205.6" stroke="#3a3a3a" stroke-width="0.45"/>
<text x="18.1" y="207.3" text-anchor="end" font-size="3.6">0.0</text>
<line x1="18.7" x2="20" y1="218.6" y2="218.6" stroke="#3a3a3a" stroke-width="0.45"/>
<text x="18.1" y="220.3" text-anchor="end" font-size="3.6">−0.1</text>
<line x1="18.7" x2="20" y1="231.6" y2="231.6" stroke="#3a3a3a" stroke-width="0.45"/>
<text x="18.1" y="233.3" text-anchor="end" font-size="3.6">−0.2</text>
<line x1="18.7" x2="20" y1="244.6" y2="244.6" stroke="#3a3a3a" stroke-width="0.45"/>
<text x="18.1" y="246.3" text-anchor="end" font-size="3.6">−0.3</text>
<text transform="translate(8.39,198.2) rotate(-90)" text-anchor="middle" font-size="3.4">BG_volume</text>
<path d="M27.8 251.6v1.3M31.2 251.6v1.3M34.5 251.6v1.3M41.2 251.6v1.3M42.9 251.6v1.3M44.3 251.6v1.3M54.6 251.6v1.3M62 251.6v1.3M65.6 251.6v1.3M70.6 251.6v1.3M77.9 251.6v1.3M81.8 251.6v1.3M87.9 251.6v1.3M95.7 251.6v1.3M99.6 251.6v1.3M103.5 251.6v1.3M110.6 251.6v1.3M117.3 251.6v1.3M125.1 251.6v1.3M131.8 251.6v1.3M139.1 251.6v1.3M147.4 251.6v1.3M155.6 251.6v1.3M175.3 251.6v1.3M180.5 251.6v1.3M184.9 251.6v1.3M190.1 251.6v1.3" stroke="#3a3a3a" stroke-width="0.45"/>
<g><text transform="translate(29.5,257.5) rotate(-90)" class="tl" font-size="3.6">18</text><text transform="translate(29.5,262.5) rotate(-90)" class="tl" font-size="3.6">18</text><text transform="translate(32.9,257.5) rotate(-90)" class="tl" font-size="3.6">18</text><text transform="translate(32.9,262.5) rotate(-90)" class="tl" font-size="3.6">18</text><text transform="translate(36.2,257.5) rotate(-90)" class="tl" font-size="3.6">18</text><text transform="translate(36.2,262.5) rotate(-90)" class="tl" font-size="3.6">18</text><text transform="translate(42.9,257.5) rotate(-90)" class="tl" font-size="3.6">18</text><text transform="translate(42.9,262.5) rotate(-90)" class="tl" font-size="3.6">18</text><text transform="translate(44.6,257.5) rotate(-90)" class="tl" font-size="3.6">18</text><text transform="translate(44.6,262.5) rotate(-90)" class="tl" font-size="3.6">18</text><text transform="translate(46,257.5) rotate(-90)" class="tl" font-size="3.6">18</text><text transform="translate(46,262.5) rotate(-90)" class="tl" font-size="3.6">18</text><text transform="translate(56.3,257.5) rotate(-90)" class="tl" font-size="3.6">18</text><text transform="translate(56.3,262.5) rotate(-90)" class="tl" font-size="3.6">18</text><text transform="translate(63.7,257.5) rotate(-90)" class="tl" font-size="3.6">18</text><text transform="translate(63.7,262.5) rotate(-90)" class="tl" font-size="3.6">18</text><text transform="translate(67.3,257.5) rotate(-90)" class="tl" font-size="3.6">18</text><text transform="translate(67.3,262.5) rotate(-90)" class="tl" font-size="3.6">18</text><text transform="translate(72.3,257.5) rotate(-90)" class="tl" font-size="3.6">18</text><text transform="translate(72.3,262.5) rotate(-90)" class="tl" font-size="3.6">18</text><text transform="translate(79.6,257.5) rotate(-90)" class="tl" font-size="3.6">18</text><text transform="translate(79.6,262.5) rotate(-90)" class="tl" font-size="3.6">18</text><text transform="translate(83.5,257.5) rotate(-90)" class="tl" font-size="3.6">18</text><text transform="translate(83.5,262.5) rotate(-90)" class="tl" font-size="3.6">18</text><text transform="translate(89.6,257.5) rotate(-90)" class="tl" font-size="3.6">18</text><text transform="translate(89.6,262.5) rotate(-90)" class="tl" font-size="3.6">18</text><text transform="translate(97.4,257.5) rotate(-90)" class="tl" font-size="3.6">18</text><text transform="translate(97.4,262.5) rotate(-90)" class="tl" font-size="3.6">18</text><text transform="translate(101.3,257.5) rotate(-90)" class="tl" font-size="3.6">18</text><text transform="translate(101.3,262.5) rotate(-90)" class="tl" font-size="3.6">18</text><text transform="translate(105.2,257.5) rotate(-90)" class="tl" font-size="3.6">18</text><text transform="translate(105.2,262.5) rotate(-90)" class="tl" font-size="3.6">18</text><text transform="translate(112.3,257.5) rotate(-90)" class="tl" font-size="3.6">18</text><text transform="translate(112.3,262.5) rotate(-90)" class="tl" font-size="3.6">18</text><text transform="translate(119,257.5) rotate(-90)" class="tl" font-size="3.6">18</text><text transform="translate(119,262.5) rotate(-90)" class="tl" font-size="3.6">18</text><text transform="translate(126.8,257.5) rotate(-90)" class="tl" font-size="3.6">18</text><text transform="translate(126.8,262.5) rotate(-90)" class="tl" font-size="3.6">18</text><text transform="translate(133.5,257.5) rotate(-90)" class="tl" font-size="3.6">18</text><text transform="translate(133.5,262.5) rotate(-90)" class="tl" font-size="3.6">18</text><text transform="translate(140.8,257.5) rotate(-90)" class="tl" font-size="3.6">18</text><text transform="translate(140.8,262.5) rotate(-90)" class="tl" font-size="3.6">18</text><text transform="translate(149.1,257.5) rotate(-90)" class="tl" font-size="3.6">18</text><text transform="translate(149.1,262.5) rotate(-90)" class="tl" font-size="3.6">18</text><text transform="translate(157.3,257.5) rotate(-90)" class="tl" font-size="3.6">18</text><text transform="translate(157.3,262.5) rotate(-90)" class="tl" font-size="3.6">18</text><text transform="translate(177,257.5) rotate(-90)" class="tl" font-size="3.6">18</text><text transform="translate(177,262.5) rotate(-90)" class="tl" font-size="3.6">18</text><text transform="translate(182.2,257.5) rotate(-90)" class="tl" font-size="3.6">18</text><text transform="translate(182.2,262.5) rotate(-90)" class="tl" font-size="3.6">18</text><text transform="translate(182.2,267.5) rotate(-90)" class="tl" font-size="3.6">18</text><text transform="translate(186.6,257.5) rotate(-90)" class="tl" font-size="3.6">18</text><text transform="translate(186.6,262.5) rotate(-90)" class="tl" font-size="3.6">18</text><text transform="translate(191.8,257.5) rotate(-90)" class="tl" font-size="3.6">18</text><text transform="translate(191.8,262.5) rotate(-90)" class="tl" font-size="3.6">18</text><text transform="translate(191.8,267.5) rotate(-90)" class="tl" font-size="3.6">18</text></g>
<text x="109" y="271.6" text-anchor="middle" font-size="3.4">datetime</text>
<text x="109.3" y="142.8" text-anchor="middle" class="ttl" font-size="4.0">KEEP_2021-8-27 18:27</text>
<rect x="21.3" y="239" width="43.68" height="10.4" fill="#fff" fill-opacity="0.85" stroke="#ececec" stroke-width="0.4" rx="0.6"/>
<line x1="22.8" x2="29.8" y1="241.9" y2="241.9" stroke="#4a4f9e" stroke-width="0.6" stroke-dasharray="1.4 0.7"/>
<line x1="22.8" x2="29.8" y1="246.5" y2="246.5" stroke="#e4dbab" stroke-width="0.65" stroke-dasharray="1.4 0.7"/>
<text x="32.1" y="243.1" font-size="3.45">2021-8-27 18:27</text>
<text x="32.1" y="247.7" font-size="3.45">anomalous volumes</text>
<rect x="266.5" y="144.8" width="5.5" height="106.8" fill="#fff7fa"/>
<rect x="301" y="144.8" width="11" height="106.8" fill="#fff7fa"/>
<rect x="325.8" y="144.8" width="8.6" height="106.8" fill="#fff7fa"/>
<rect x="368" y="144.8" width="10" height="106.8" fill="#fff7fa"/>
<rect x="225" y="216.3" width="165.4" height="15" fill="#e0fbf3"/>

<line x1="227" x2="391.4" y1="207.6" y2="207.6" stroke="#e4dbab" stroke-width="1.2" stroke-dasharray="2.4 0.4"/>
<line x1="227" x2="391.4" y1="242" y2="242" stroke="#e4dbab" stroke-width="1.2" stroke-dasharray="2.4 0.4"/>
<path d="M227 224.9 L227.51 223.82 L228.02 224.69 L228.53 223.86 L229.04 224.88 L229.55 223.7 L230.05 224.08 L230.56 224.13 L231.07 223.45 L231.58 224.78 L232.09 223.7 L232.6 223.81 L233.11 224.15 L233.62 224.73 L234.13 224.03 L234.64 225.29 L235.15 226.57 L235.65 224.27 L236.16 224.6 L236.67 224.34 L237.18 223.92 L237.69 224.15 L238.2 224.48 L238.71 225.11 L239.22 224.52 L239.73 224.61 L240.24 223.39 L240.75 224.28 L241.25 224.39 L241.76 225.19 L242.27 225.12 L242.78 224.45 L243.29 224.64 L243.8 224.37 L244.31 224.07 L244.82 224.41 L245.33 224.23 L245.84 224.55 L246.35 224.71 L246.85 224.31 L247.36 224.9 L247.87 223.89 L248.38 224.41 L248.89 224.49 L249.4 223.57 L249.91 224.68 L250.42 224.72 L250.93 225.17 L251.44 224.38 L251.95 224.67 L252.45 224.69 L252.96 223.66 L253.47 224.54 L253.98 223.75 L254.49 224.53 L255 224.73 L255.51 224.52 L256.02 223.48 L256.53 225.06 L257.04 224.54 L257.55 224.85 L258.05 224.09 L258.56 228.37 L259.07 225.34 L259.58 224.31 L260.09 224.21 L260.6 224.23 L261.11 224.85 L261.62 223.69 L262.13 224.26 L262.64 221.26 L263.15 225.53 L263.65 224.89 L264.16 224.45 L264.67 224.51 L265.18 224.3 L265.69 224.2 L266.2 224.33 L266.71 225.2 L267.22 224.27 L267.73 224.28 L268.24 224.54 L268.75 225.07 L269.25 224.62 L269.76 223.92 L270.27 224.43 L270.78 224.41 L271.29 223.8 L271.8 224.07 L272.31 224.56 L272.82 224.21 L273.33 225.16 L273.84 224.56 L274.35 224.2 L274.85 224.37 L275.36 223.99 L275.87 224.11 L276.38 224.75 L276.89 224.37 L277.4 223.54 L277.91 223.8 L278.42 224.67 L278.93 223.89 L279.44 224.27 L279.95 224.9 L280.45 224.31 L280.96 224.28 L281.47 224.23 L281.98 224.89 L282.49 224.1 L283 223.86 L283.51 224.45 L284.02 225.15 L284.53 224.58 L285.04 225.11 L285.55 224.97 L286.05 223.91 L286.56 224.45 L287.07 224.37 L287.58 224.43 L288.09 224.98 L288.6 225.06 L289.11 224.76 L289.62 224.97 L290.13 224.16 L290.64 224.8 L291.15 223.95 L291.65 220.45 L292.16 223.87 L292.67 224.99 L293.18 221.45 L293.69 224.78 L294.2 223.85 L294.71 224.54 L295.22 224.81 L295.73 224.48 L296.24 224.53 L296.75 224.51 L297.25 224.42 L297.76 224.28 L298.27 224.06 L298.78 224.91 L299.29 224.45 L299.8 224.48 L300.31 224.6 L300.82 227.96 L301.33 223.83 L301.84 223.84 L302.35 225.25 L302.85 224.32 L303.36 224.77 L303.87 223.62 L304.38 224.27 L304.89 224.49 L305.4 224.19 L305.91 224.94 L306.42 224.29 L306.93 224.41 L307.44 224.96 L307.95 225.18 L308.45 221.06 L308.96 224.24 L309.47 224.32 L309.98 224.99 L310.49 223.96 L311 223.99 L311.51 224.01 L312.02 221.87 L312.53 224.63 L313.04 224.03 L313.55 224.1 L314.05 224.42 L314.56 224.19 L315.07 223.95 L315.58 224.04 L316.09 224.33 L316.6 224.14 L317.11 224.4 L317.62 224.25 L318.13 224.09 L318.64 224.61 L319.15 224.63 L319.65 220.88 L320.16 224.53 L320.67 224.2 L321.18 223.95 L321.69 224.75 L322.2 224.52 L322.71 224.66 L323.22 224.16 L323.73 225.22 L324.24 224.64 L324.75 224.13 L325.25 225.27 L325.76 224.03 L326.27 225.09 L326.78 224.27 L327.29 224.12 L327.8 224.07 L328.31 221.59 L328.82 223.98 L329.33 224.56 L329.84 222.15 L330.35 223.66 L330.85 224.49 L331.36 223.72 L331.87 224.63 L332.38 224.18 L332.89 220.75 L333.4 220.52 L333.91 223.47 L334.42 225.41 L334.93 225.53 L335.44 224.9 L335.95 224.66 L336.45 224.09 L336.96 224.9 L337.47 224.31 L337.98 224.27 L338.49 224.04 L339 225.04 L339.51 224.79 L340.02 223.75 L340.53 224.35 L341.04 223.8 L341.55 224.82 L342.05 223.99 L342.56 224.37 L343.07 224.66 L343.58 224.31 L344.09 223.83 L344.6 224.19 L345.11 223.78 L345.62 225.05 L346.13 224.82 L346.64 223.6 L347.15 223.87 L347.65 225.42 L348.16 224.7 L348.67 224.25 L349.18 224.82 L349.69 224.56 L350.2 224.76 L350.71 224.23 L351.22 225.15 L351.73 224.52 L352.24 223.86 L352.75 224.38 L353.25 224.25 L353.76 227.95 L354.27 224.53 L354.78 224.45 L355.29 224.01 L355.8 224.5 L356.31 224.14 L356.82 225.14 L357.33 223.88 L357.84 224.27 L358.35 224.17 L358.85 221.9 L359.36 224.59 L359.87 224.54 L360.38 224.49 L360.89 225.09 L361.4 224.14 L361.91 224.61 L362.42 224.44 L362.93 224.53 L363.44 223.82 L363.95 223.85 L364.45 224.78 L364.96 223.86 L365.47 224.91 L365.98 225.1 L366.49 224.14 L367 224.56 L367.51 224.49 L368.02 225.1 L368.53 225.38 L369.04 224.77 L369.55 224.8 L370.05 224.97 L370.56 223.97 L371.07 224.38 L371.58 221.3 L372.09 224.19 L372.6 225.17 L373.11 223.98 L373.62 222.22 L374.13 224.45 L374.64 224.71 L375.15 223.98 L375.65 224.22 L376.16 224.56 L376.67 224.44 L377.18 224.66 L377.69 224.02 L378.2 223.88 L378.71 223.28 L379.22 223.77 L379.73 224.13 L380.24 223.67 L380.75 224.16 L381.25 224.72 L381.76 224.12 L382.27 224.75 L382.78 221.15 L383.29 224.35 L383.8 224.67 L384.31 224.75 L384.82 223.72 L385.33 225.08 L385.84 223.54 L386.35 224.47 L386.85 224.07 L387.36 224.1 L387.87 224.45 L388.38 224.18 L388.89 224.27 L389.4 224.34" fill="none" stroke="#2f7f3c" stroke-width="1.1" stroke-linejoin="round"/>
<path d="M228.5 224.4V218.6M239.6 224.4V229M246.3 224.4V227.5M282.5 224.4V230.6M293.2 224.4V234.2M302.5 224.4V239.6M308.8 224.4V228.5M319.2 224.4V234M322.6 224.4V237.1M331.4 224.4V234.7M331.4 224.4V218.2M336.9 224.4V232.2M338.1 224.4V217.5M343.7 224.4V218.7M346.7 224.4V229.8M350.4 224.4V218.7M350.4 224.4V232.2M356.5 224.4V232.2M364.4 224.4V216.7M365.8 224.4V237.9M376.7 224.4V218.7M387.2 224.4V232.2M388.5 224.4V220" stroke="#356b3d" stroke-width="0.75" fill="none"/>
<g fill="#2b6a34" stroke="#1d4424" stroke-width="0.25"><circle cx="227" cy="224.9" r="0.9"/><circle cx="227.51" cy="223.82" r="0.9"/><circle cx="228.02" cy="224.69" r="0.9"/><circle cx="228.53" cy="223.86" r="0.9"/><circle cx="229.04" cy="224.88" r="0.9"/><circle cx="229.55" cy="223.7" r="0.9"/><circle cx="230.05" cy="224.08" r="0.9"/><circle cx="230.56" cy="224.13" r="0.9"/><circle cx="231.07" cy="223.45" r="0.9"/><circle cx="231.58" cy="224.78" r="0.9"/><circle cx="232.09" cy="223.7" r="0.9"/><circle cx="232.6" cy="223.81" r="0.9"/><circle cx="233.11" cy="224.15" r="0.9"/><circle cx="233.62" cy="224.73" r="0.9"/><circle cx="234.13" cy="224.03" r="0.9"/><circle cx="234.64" cy="225.29" r="0.9"/><circle cx="235.15" cy="226.57" r="0.9"/><circle cx="235.65" cy="224.27" r="0.9"/><circle cx="236.16" cy="224.6" r="0.9"/><circle cx="236.67" cy="224.34" r="0.9"/><circle cx="237.18" cy="223.92" r="0.9"/><circle cx="237.69" cy="224.15" r="0.9"/><circle cx="238.2" cy="224.48" r="0.9"/><circle cx="238.71" cy="225.11" r="0.9"/><circle cx="239.22" cy="224.52" r="0.9"/><circle cx="239.73" cy="224.61" r="0.9"/><circle cx="240.24" cy="223.39" r="0.9"/><circle cx="240.75" cy="224.28" r="0.9"/><circle cx="241.25" cy="224.39" r="0.9"/><circle cx="241.76" cy="225.19" r="0.9"/><circle cx="242.27" cy="225.12" r="0.9"/><circle cx="242.78" cy="224.45" r="0.9"/><circle cx="243.29" cy="224.64" r="0.9"/><circle cx="243.8" cy="224.37" r="0.9"/><circle cx="244.31" cy="224.07" r="0.9"/><circle cx="244.82" cy="224.41" r="0.9"/><circle cx="245.33" cy="224.23" r="0.9"/><circle cx="245.84" cy="224.55" r="0.9"/><circle cx="246.35" cy="224.71" r="0.9"/><circle cx="246.85" cy="224.31" r="0.9"/><circle cx="247.36" cy="224.9" r="0.9"/><circle cx="247.87" cy="223.89" r="0.9"/><circle cx="248.38" cy="224.41" r="0.9"/><circle cx="248.89" cy="224.49" r="0.9"/><circle cx="249.4" cy="223.57" r="0.9"/><circle cx="249.91" cy="224.68" r="0.9"/><circle cx="250.42" cy="224.72" r="0.9"/><circle cx="250.93" cy="225.17" r="0.9"/><circle cx="251.44" cy="224.38" r="0.9"/><circle cx="251.95" cy="224.67" r="0.9"/><circle cx="252.45" cy="224.69" r="0.9"/><circle cx="252.96" cy="223.66" r="0.9"/><circle cx="253.47" cy="224.54" r="0.9"/><circle cx="253.98" cy="223.75" r="0.9"/><circle cx="254.49" cy="224.53" r="0.9"/><circle cx="255" cy="224.73" r="0.9"/><circle cx="255.51" cy="224.52" r="0.9"/><circle cx="256.02" cy="223.48" r="0.9"/><circle cx="256.53" cy="225.06" r="0.9"/><circle cx="257.04" cy="224.54" r="0.9"/><circle cx="257.55" cy="224.85" r="0.9"/><circle cx="258.05" cy="224.09" r="0.9"/><circle cx="258.56" cy="228.37" r="0.9"/><circle cx="259.07" cy="225.34" r="0.9"/><circle cx="259.58" cy="224.31" r="0.9"/><circle cx="260.09" cy="224.21" r="0.9"/><circle cx="260.6" cy="224.23" r="0.9"/><circle cx="261.11" cy="224.85" r="0.9"/><circle cx="261.62" cy="223.69" r="0.9"/><circle cx="262.13" cy="224.26" r="0.9"/><circle cx="262.64" cy="221.26" r="0.9"/><circle cx="263.15" cy="225.53" r="0.9"/><circle cx="263.65" cy="224.89" r="0.9"/><circle cx="264.16" cy="224.45" r="0.9"/><circle cx="264.67" cy="224.51" r="0.9"/><circle cx="265.18" cy="224.3" r="0.9"/><circle cx="265.69" cy="224.2" r="0.9"/><circle cx="266.2" cy="224.33" r="0.9"/><circle cx="266.71" cy="225.2" r="0.9"/><circle cx="267.22" cy="224.27" r="0.9"/><circle cx="267.73" cy="224.28" r="0.9"/><circle cx="268.24" cy="224.54" r="0.9"/><circle cx="268.75" cy="225.07" r="0.9"/><circle cx="269.25" cy="224.62" r="0.9"/><circle cx="269.76" cy="223.92" r="0.9"/><circle cx="270.27" cy="224.43" r="0.9"/><circle cx="270.78" cy="224.41" r="0.9"/><circle cx="271.29" cy="223.8" r="0.9"/><circle cx="271.8" cy="224.07" r="0.9"/><circle cx="272.31" cy="224.56" r="0.9"/><circle cx="272.82" cy="224.21" r="0.9"/><circle cx="273.33" cy="225.16" r="0.9"/><circle cx="273.84" cy="224.56" r="0.9"/><circle cx="274.35" cy="224.2" r="0.9"/><circle cx="274.85" cy="224.37" r="0.9"/><circle cx="275.36" cy="223.99" r="0.9"/><circle cx="275.87" cy="224.11" r="0.9"/><circle cx="276.38" cy="224.75" r="0.9"/><circle cx="276.89" cy="224.37" r="0.9"/><circle cx="277.4" cy="223.54" r="0.9"/><circle cx="277.91" cy="223.8" r="0.9"/><circle cx="278.42" cy="224.67" r="0.9"/><circle cx="278.93" cy="223.89" r="0.9"/><circle cx="279.44" cy="224.27" r="0.9"/><circle cx="279.95" cy="224.9" r="0.9"/><circle cx="280.45" cy="224.31" r="0.9"/><circle cx="280.96" cy="224.28" r="0.9"/><circle cx="281.47" cy="224.23" r="0.9"/><circle cx="281.98" cy="224.89" r="0.9"/><circle cx="282.49" cy="224.1" r="0.9"/><circle cx="283" cy="223.86" r="0.9"/><circle cx="283.51" cy="224.45" r="0.9"/><circle cx="284.02" cy="225.15" r="0.9"/><circle cx="284.53" cy="224.58" r="0.9"/><circle cx="285.04" cy="225.11" r="0.9"/><circle cx="285.55" cy="224.97" r="0.9"/><circle cx="286.05" cy="223.91" r="0.9"/><circle cx="286.56" cy="224.45" r="0.9"/><circle cx="287.07" cy="224.37" r="0.9"/><circle cx="287.58" cy="224.43" r="0.9"/><circle cx="288.09" cy="224.98" r="0.9"/><circle cx="288.6" cy="225.06" r="0.9"/><circle cx="289.11" cy="224.76" r="0.9"/><circle cx="289.62" cy="224.97" r="0.9"/><circle cx="290.13" cy="224.16" r="0.9"/><circle cx="290.64" cy="224.8" r="0.9"/><circle cx="291.15" cy="223.95" r="0.9"/><circle cx="291.65" cy="220.45" r="0.9"/><circle cx="292.16" cy="223.87" r="0.9"/><circle cx="292.67" cy="224.99" r="0.9"/><circle cx="293.18" cy="221.45" r="0.9"/><circle cx="293.69" cy="224.78" r="0.9"/><circle cx="294.2" cy="223.85" r="0.9"/><circle cx="294.71" cy="224.54" r="0.9"/><circle cx="295.22" cy="224.81" r="0.9"/><circle cx="295.73" cy="224.48" r="0.9"/><circle cx="296.24" cy="224.53" r="0.9"/><circle cx="296.75" cy="224.51" r="0.9"/><circle cx="297.25" cy="224.42" r="0.9"/><circle cx="297.76" cy="224.28" r="0.9"/><circle cx="298.27" cy="224.06" r="0.9"/><circle cx="298.78" cy="224.91" r="0.9"/><circle cx="299.29" cy="224.45" r="0.9"/><circle cx="299.8" cy="224.48" r="0.9"/><circle cx="300.31" cy="224.6" r="0.9"/><circle cx="300.82" cy="227.96" r="0.9"/><circle cx="301.33" cy="223.83" r="0.9"/><circle cx="301.84" cy="223.84" r="0.9"/><circle cx="302.35" cy="225.25" r="0.9"/><circle cx="302.85" cy="224.32" r="0.9"/><circle cx="303.36" cy="224.77" r="0.9"/><circle cx="303.87" cy="223.62" r="0.9"/><circle cx="304.38" cy="224.27" r="0.9"/><circle cx="304.89" cy="224.49" r="0.9"/><circle cx="305.4" cy="224.19" r="0.9"/><circle cx="305.91" cy="224.94" r="0.9"/><circle cx="306.42" cy="224.29" r="0.9"/><circle cx="306.93" cy="224.41" r="0.9"/><circle cx="307.44" cy="224.96" r="0.9"/><circle cx="307.95" cy="225.18" r="0.9"/><circle cx="308.45" cy="221.06" r="0.9"/><circle cx="308.96" cy="224.24" r="0.9"/><circle cx="309.47" cy="224.32" r="0.9"/><circle cx="309.98" cy="224.99" r="0.9"/><circle cx="310.49" cy="223.96" r="0.9"/><circle cx="311" cy="223.99" r="0.9"/><circle cx="311.51" cy="224.01" r="0.9"/><circle cx="312.02" cy="221.87" r="0.9"/><circle cx="312.53" cy="224.63" r="0.9"/><circle cx="313.04" cy="224.03" r="0.9"/><circle cx="313.55" cy="224.1" r="0.9"/><circle cx="314.05" cy="224.42" r="0.9"/><circle cx="314.56" cy="224.19" r="0.9"/><circle cx="315.07" cy="223.95" r="0.9"/><circle cx="315.58" cy="224.04" r="0.9"/><circle cx="316.09" cy="224.33" r="0.9"/><circle cx="316.6" cy="224.14" r="0.9"/><circle cx="317.11" cy="224.4" r="0.9"/><circle cx="317.62" cy="224.25" r="0.9"/><circle cx="318.13" cy="224.09" r="0.9"/><circle cx="318.64" cy="224.61" r="0.9"/><circle cx="319.15" cy="224.63" r="0.9"/><circle cx="319.65" cy="220.88" r="0.9"/><circle cx="320.16" cy="224.53" r="0.9"/><circle cx="320.67" cy="224.2" r="0.9"/><circle cx="321.18" cy="223.95" r="0.9"/><circle cx="321.69" cy="224.75" r="0.9"/><circle cx="322.2" cy="224.52" r="0.9"/><circle cx="322.71" cy="224.66" r="0.9"/><circle cx="323.22" cy="224.16" r="0.9"/><circle cx="323.73" cy="225.22" r="0.9"/><circle cx="324.24" cy="224.64" r="0.9"/><circle cx="324.75" cy="224.13" r="0.9"/><circle cx="325.25" cy="225.27" r="0.9"/><circle cx="325.76" cy="224.03" r="0.9"/><circle cx="326.27" cy="225.09" r="0.9"/><circle cx="326.78" cy="224.27" r="0.9"/><circle cx="327.29" cy="224.12" r="0.9"/><circle cx="327.8" cy="224.07" r="0.9"/><circle cx="328.31" cy="221.59" r="0.9"/><circle cx="328.82" cy="223.98" r="0.9"/><circle cx="329.33" cy="224.56" r="0.9"/><circle cx="329.84" cy="222.15" r="0.9"/><circle cx="330.35" cy="223.66" r="0.9"/><circle cx="330.85" cy="224.49" r="0.9"/><circle cx="331.36" cy="223.72" r="0.9"/><circle cx="331.87" cy="224.63" r="0.9"/><circle cx="332.38" cy="224.18" r="0.9"/><circle cx="332.89" cy="220.75" r="0.9"/><circle cx="333.4" cy="220.52" r="0.9"/><circle cx="333.91" cy="223.47" r="0.9"/><circle cx="334.42" cy="225.41" r="0.9"/><circle cx="334.93" cy="225.53" r="0.9"/><circle cx="335.44" cy="224.9" r="0.9"/><circle cx="335.95" cy="224.66" r="0.9"/><circle cx="336.45" cy="224.09" r="0.9"/><circle cx="336.96" cy="224.9" r="0.9"/><circle cx="337.47" cy="224.31" r="0.9"/><circle cx="337.98" cy="224.27" r="0.9"/><circle cx="338.49" cy="224.04" r="0.9"/><circle cx="339" cy="225.04" r="0.9"/><circle cx="339.51" cy="224.79" r="0.9"/><circle cx="340.02" cy="223.75" r="0.9"/><circle cx="340.53" cy="224.35" r="0.9"/><circle cx="341.04" cy="223.8" r="0.9"/><circle cx="341.55" cy="224.82" r="0.9"/><circle cx="342.05" cy="223.99" r="0.9"/><circle cx="342.56" cy="224.37" r="0.9"/><circle cx="343.07" cy="224.66" r="0.9"/><circle cx="343.58" cy="224.31" r="0.9"/><circle cx="344.09" cy="223.83" r="0.9"/><circle cx="344.6" cy="224.19" r="0.9"/><circle cx="345.11" cy="223.78" r="0.9"/><circle cx="345.62" cy="225.05" r="0.9"/><circle cx="346.13" cy="224.82" r="0.9"/><circle cx="346.64" cy="223.6" r="0.9"/><circle cx="347.15" cy="223.87" r="0.9"/><circle cx="347.65" cy="225.42" r="0.9"/><circle cx="348.16" cy="224.7" r="0.9"/><circle cx="348.67" cy="224.25" r="0.9"/><circle cx="349.18" cy="224.82" r="0.9"/><circle cx="349.69" cy="224.56" r="0.9"/><circle cx="350.2" cy="224.76" r="0.9"/><circle cx="350.71" cy="224.23" r="0.9"/><circle cx="351.22" cy="225.15" r="0.9"/><circle cx="351.73" cy="224.52" r="0.9"/><circle cx="352.24" cy="223.86" r="0.9"/><circle cx="352.75" cy="224.38" r="0.9"/><circle cx="353.25" cy="224.25" r="0.9"/><circle cx="353.76" cy="227.95" r="0.9"/><circle cx="354.27" cy="224.53" r="0.9"/><circle cx="354.78" cy="224.45" r="0.9"/><circle cx="355.29" cy="224.01" r="0.9"/><circle cx="355.8" cy="224.5" r="0.9"/><circle cx="356.31" cy="224.14" r="0.9"/><circle cx="356.82" cy="225.14" r="0.9"/><circle cx="357.33" cy="223.88" r="0.9"/><circle cx="357.84" cy="224.27" r="0.9"/><circle cx="358.35" cy="224.17" r="0.9"/><circle cx="358.85" cy="221.9" r="0.9"/><circle cx="359.36" cy="224.59" r="0.9"/><circle cx="359.87" cy="224.54" r="0.9"/><circle cx="360.38" cy="224.49" r="0.9"/><circle cx="360.89" cy="225.09" r="0.9"/><circle cx="361.4" cy="224.14" r="0.9"/><circle cx="361.91" cy="224.61" r="0.9"/><circle cx="362.42" cy="224.44" r="0.9"/><circle cx="362.93" cy="224.53" r="0.9"/><circle cx="363.44" cy="223.82" r="0.9"/><circle cx="363.95" cy="223.85" r="0.9"/><circle cx="364.45" cy="224.78" r="0.9"/><circle cx="364.96" cy="223.86" r="0.9"/><circle cx="365.47" cy="224.91" r="0.9"/><circle cx="365.98" cy="225.1" r="0.9"/><circle cx="366.49" cy="224.14" r="0.9"/><circle cx="367" cy="224.56" r="0.9"/><circle cx="367.51" cy="224.49" r="0.9"/><circle cx="368.02" cy="225.1" r="0.9"/><circle cx="368.53" cy="225.38" r="0.9"/><circle cx="369.04" cy="224.77" r="0.9"/><circle cx="369.55" cy="224.8" r="0.9"/><circle cx="370.05" cy="224.97" r="0.9"/><circle cx="370.56" cy="223.97" r="0.9"/><circle cx="371.07" cy="224.38" r="0.9"/><circle cx="371.58" cy="221.3" r="0.9"/><circle cx="372.09" cy="224.19" r="0.9"/><circle cx="372.6" cy="225.17" r="0.9"/><circle cx="373.11" cy="223.98" r="0.9"/><circle cx="373.62" cy="222.22" r="0.9"/><circle cx="374.13" cy="224.45" r="0.9"/><circle cx="374.64" cy="224.71" r="0.9"/><circle cx="375.15" cy="223.98" r="0.9"/><circle cx="375.65" cy="224.22" r="0.9"/><circle cx="376.16" cy="224.56" r="0.9"/><circle cx="376.67" cy="224.44" r="0.9"/><circle cx="377.18" cy="224.66" r="0.9"/><circle cx="377.69" cy="224.02" r="0.9"/><circle cx="378.2" cy="223.88" r="0.9"/><circle cx="378.71" cy="223.28" r="0.9"/><circle cx="379.22" cy="223.77" r="0.9"/><circle cx="379.73" cy="224.13" r="0.9"/><circle cx="380.24" cy="223.67" r="0.9"/><circle cx="380.75" cy="224.16" r="0.9"/><circle cx="381.25" cy="224.72" r="0.9"/><circle cx="381.76" cy="224.12" r="0.9"/><circle cx="382.27" cy="224.75" r="0.9"/><circle cx="382.78" cy="221.15" r="0.9"/><circle cx="383.29" cy="224.35" r="0.9"/><circle cx="383.8" cy="224.67" r="0.9"/><circle cx="384.31" cy="224.75" r="0.9"/><circle cx="384.82" cy="223.72" r="0.9"/><circle cx="385.33" cy="225.08" r="0.9"/><circle cx="385.84" cy="223.54" r="0.9"/><circle cx="386.35" cy="224.47" r="0.9"/><circle cx="386.85" cy="224.07" r="0.9"/><circle cx="387.36" cy="224.1" r="0.9"/><circle cx="387.87" cy="224.45" r="0.9"/><circle cx="388.38" cy="224.18" r="0.9"/><circle cx="388.89" cy="224.27" r="0.9"/><circle cx="389.4" cy="224.34" r="0.9"/><circle cx="228.5" cy="218.6" r="0.9"/><circle cx="239.6" cy="229" r="0.9"/><circle cx="246.3" cy="227.5" r="0.9"/><circle cx="282.5" cy="230.6" r="0.9"/><circle cx="293.2" cy="234.2" r="0.9"/><circle cx="302.5" cy="239.6" r="0.9"/><circle cx="308.8" cy="228.5" r="0.9"/><circle cx="319.2" cy="234" r="0.9"/><circle cx="322.6" cy="237.1" r="0.9"/><circle cx="331.4" cy="234.7" r="0.9"/><circle cx="331.4" cy="218.2" r="0.9"/><circle cx="336.9" cy="232.2" r="0.9"/><circle cx="338.1" cy="217.5" r="0.9"/><circle cx="343.7" cy="218.7" r="0.9"/><circle cx="346.7" cy="229.8" r="0.9"/><circle cx="350.4" cy="218.7" r="0.9"/><circle cx="350.4" cy="232.2" r="0.9"/><circle cx="356.5" cy="232.2" r="0.9"/><circle cx="364.4" cy="216.7" r="0.9"/><circle cx="365.8" cy="237.9" r="0.9"/><circle cx="376.7" cy="218.7" r="0.9"/><circle cx="387.2" cy="232.2" r="0.9"/><circle cx="388.5" cy="220" r="0.9"/></g>
<path d="M269.6 224.4V201.6M307.4 224.4V192.9M310.3 224.4V149.4M329 224.4V201M374.2 224.4V215M374.2 224.4V245.7" stroke="#c4a08a" stroke-width="1.4" fill="none"/>
<circle cx="269.6" cy="201.6" r="1.05" fill="#5a2c20"/><circle cx="307.4" cy="192.9" r="1.05" fill="#5a2c20"/><circle cx="310.3" cy="149.4" r="1.05" fill="#5a2c20"/><circle cx="329" cy="201" r="1.05" fill="#5a2c20"/><circle cx="374.2" cy="215" r="1.05" fill="#5a2c20"/><circle cx="374.2" cy="245.7" r="1.05" fill="#5a2c20"/><circle cx="307.4" cy="204" r="0.85" fill="#5a2c20"/><circle cx="307.4" cy="212.6" r="0.85" fill="#5a2c20"/><circle cx="310.3" cy="211.3" r="0.85" fill="#5a2c20"/>
<line x1="382.8" x2="382.8" y1="146.3" y2="250.1" stroke="#4a4f9e" stroke-width="0.85" stroke-dasharray="1.6 0.6"/>
<line x1="390.4" x2="390.4" y1="146.3" y2="250.1" stroke="#4a4f9e" stroke-width="0.85" stroke-dasharray="1.6 0.6"/>
<rect x="220" y="144.8" width="178.6" height="106.8" fill="none" stroke="#777777" stroke-width="1.1"/>
<line x1="218.7" x2="220" y1="146.1" y2="146.1" stroke="#3a3a3a" stroke-width="0.45"/>
<text x="218.1" y="147.8" text-anchor="end" font-size="3.6">1.0</text>
<line x1="218.7" x2="220" y1="161.9" y2="161.9" stroke="#3a3a3a" stroke-width="0.45"/>
<text x="218.1" y="163.6" text-anchor="end" font-size="3.6">0.8</text>
<line x1="218.7" x2="220" y1="177.7" y2="177.7" stroke="#3a3a3a" stroke-width="0.45"/>
<text x="218.1" y="179.4" text-anchor="end" font-size="3.6">0.6</text>
<line x1="218.7" x2="220" y1="193.5" y2="193.5" stroke="#3a3a3a" stroke-width="0.45"/>
<text x="218.1" y="195.2" text-anchor="end" font-size="3.6">0.4</text>
<line x1="218.7" x2="220" y1="209.3" y2="209.3" stroke="#3a3a3a" stroke-width="0.45"/>
<text x="218.1" y="211" text-anchor="end" font-size="3.6">0.2</text>
<line x1="218.7" x2="220" y1="225.1" y2="225.1" stroke="#3a3a3a" stroke-width="0.45"/>
<text x="218.1" y="226.8" text-anchor="end" font-size="3.6">0.0</text>
<line x1="218.7" x2="220" y1="240.9" y2="240.9" stroke="#3a3a3a" stroke-width="0.45"/>
<text x="218.1" y="242.6" text-anchor="end" font-size="3.6">−0.2</text>
<text transform="translate(208.39,198.2) rotate(-90)" text-anchor="middle" font-size="3.4">BG_volume</text>
<path d="M226.7 251.6v1.3M228.2 251.6v1.3M234.9 251.6v1.3M236.1 251.6v1.3M243.8 251.6v1.3M258.4 251.6v1.3M272.1 251.6v1.3M286 251.6v1.3M291 251.6v1.3M294 251.6v1.3M296.4 251.6v1.3M299.3 251.6v1.3M302.3 251.6v1.3M304.6 251.6v1.3M309 251.6v1.3M314.7 251.6v1.3M320.6 251.6v1.3M331.8 251.6v1.3M342.2 251.6v1.3M350.4 251.6v1.3M359.3 251.6v1.3M368.6 251.6v1.3M372 251.6v1.3M375.3 251.6v1.3M382 251.6v1.3M389.6 251.6v1.3" stroke="#3a3a3a" stroke-width="0.45"/>
<g><text transform="translate(228.4,257.5) rotate(-90)" class="tl" font-size="3.6">18</text><text transform="translate(228.4,262.5) rotate(-90)" class="tl" font-size="3.6">18</text><text transform="translate(229.9,257.5) rotate(-90)" class="tl" font-size="3.6">18</text><text transform="translate(229.9,262.5) rotate(-90)" class="tl" font-size="3.6">18</text><text transform="translate(236.6,257.5) rotate(-90)" class="tl" font-size="3.6">18</text><text transform="translate(236.6,262.5) rotate(-90)" class="tl" font-size="3.6">18</text><text transform="translate(237.8,257.5) rotate(-90)" class="tl" font-size="3.6">18</text><text transform="translate(237.8,262.5) rotate(-90)" class="tl" font-size="3.6">18</text><text transform="translate(245.5,257.5) rotate(-90)" class="tl" font-size="3.6">18</text><text transform="translate(245.5,262.5) rotate(-90)" class="tl" font-size="3.6">18</text><text transform="translate(260.1,257.5) rotate(-90)" class="tl" font-size="3.6">18</text><text transform="translate(260.1,262.5) rotate(-90)" class="tl" font-size="3.6">18</text><text transform="translate(273.8,257.5) rotate(-90)" class="tl" font-size="3.6">18</text><text transform="translate(273.8,262.5) rotate(-90)" class="tl" font-size="3.6">18</text><text transform="translate(287.7,257.5) rotate(-90)" class="tl" font-size="3.6">18</text><text transform="translate(287.7,262.5) rotate(-90)" class="tl" font-size="3.6">18</text><text transform="translate(292.7,257.5) rotate(-90)" class="tl" font-size="3.6">18</text><text transform="translate(292.7,262.5) rotate(-90)" class="tl" font-size="3.6">18</text><text transform="translate(295.7,257.5) rotate(-90)" class="tl" font-size="3.6">18</text><text transform="translate(295.7,262.5) rotate(-90)" class="tl" font-size="3.6">18</text><text transform="translate(298.1,257.5) rotate(-90)" class="tl" font-size="3.6">18</text><text transform="translate(298.1,262.5) rotate(-90)" class="tl" font-size="3.6">18</text><text transform="translate(301,257.5) rotate(-90)" class="tl" font-size="3.6">18</text><text transform="translate(301,262.5) rotate(-90)" class="tl" font-size="3.6">18</text><text transform="translate(304,257.5) rotate(-90)" class="tl" font-size="3.6">18</text><text transform="translate(304,262.5) rotate(-90)" class="tl" font-size="3.6">18</text><text transform="translate(306.3,257.5) rotate(-90)" class="tl" font-size="3.6">18</text><text transform="translate(306.3,262.5) rotate(-90)" class="tl" font-size="3.6">18</text><text transform="translate(310.7,257.5) rotate(-90)" class="tl" font-size="3.6">18</text><text transform="translate(310.7,262.5) rotate(-90)" class="tl" font-size="3.6">18</text><text transform="translate(316.4,257.5) rotate(-90)" class="tl" font-size="3.6">18</text><text transform="translate(316.4,262.5) rotate(-90)" class="tl" font-size="3.6">18</text><text transform="translate(322.3,257.5) rotate(-90)" class="tl" font-size="3.6">18</text><text transform="translate(322.3,262.5) rotate(-90)" class="tl" font-size="3.6">18</text><text transform="translate(333.5,257.5) rotate(-90)" class="tl" font-size="3.6">18</text><text transform="translate(333.5,262.5) rotate(-90)" class="tl" font-size="3.6">18</text><text transform="translate(343.9,257.5) rotate(-90)" class="tl" font-size="3.6">18</text><text transform="translate(343.9,262.5) rotate(-90)" class="tl" font-size="3.6">18</text><text transform="translate(352.1,257.5) rotate(-90)" class="tl" font-size="3.6">18</text><text transform="translate(352.1,262.5) rotate(-90)" class="tl" font-size="3.6">18</text><text transform="translate(361,257.5) rotate(-90)" class="tl" font-size="3.6">18</text><text transform="translate(361,262.5) rotate(-90)" class="tl" font-size="3.6">18</text><text transform="translate(370.3,257.5) rotate(-90)" class="tl" font-size="3.6">18</text><text transform="translate(370.3,262.5) rotate(-90)" class="tl" font-size="3.6">18</text><text transform="translate(373.7,257.5) rotate(-90)" class="tl" font-size="3.6">18</text><text transform="translate(373.7,262.5) rotate(-90)" class="tl" font-size="3.6">18</text><text transform="translate(377,257.5) rotate(-90)" class="tl" font-size="3.6">18</text><text transform="translate(377,262.5) rotate(-90)" class="tl" font-size="3.6">18</text><text transform="translate(383.7,257.5) rotate(-90)" class="tl" font-size="3.6">18</text><text transform="translate(383.7,262.5) rotate(-90)" class="tl" font-size="3.6">18</text><text transform="translate(383.7,267.5) rotate(-90)" class="tl" font-size="3.6">18</text><text transform="translate(391.3,257.5) rotate(-90)" class="tl" font-size="3.6">18</text><text transform="translate(391.3,262.5) rotate(-90)" class="tl" font-size="3.6">18</text><text transform="translate(391.3,267.5) rotate(-90)" class="tl" font-size="3.6">18</text></g>
<text x="309" y="271.6" text-anchor="middle" font-size="3.4">datetime</text>
<text x="309" y="142.5" text-anchor="middle" class="ttl" font-size="4.0">KLAY_2022-2-14 20:10</text>
<rect x="352.5" y="146.1" width="43.68" height="10.4" fill="#fff" fill-opacity="0.85" stroke="#ececec" stroke-width="0.4" rx="0.6"/>
<line x1="354" x2="361" y1="149" y2="149" stroke="#4a4f9e" stroke-width="0.6" stroke-dasharray="1.4 0.7"/>
<line x1="354" x2="361" y1="153.6" y2="153.6" stroke="#e4dbab" stroke-width="0.65" stroke-dasharray="1.4 0.7"/>
<text x="363.3" y="150.2" font-size="3.45">2022-2-14 20:10</text>
<text x="363.3" y="154.8" font-size="3.45">anomalous volumes</text>
<rect x="31" y="282.5" width="4" height="106.4" fill="#fff7fa"/>
<rect x="40" y="282.5" width="12" height="106.4" fill="#fff7fa"/>
<rect x="73" y="282.5" width="5" height="106.4" fill="#fff7fa"/>
<rect x="88" y="282.5" width="30" height="106.4" fill="#fff7fa"/>
<rect x="158" y="282.5" width="10" height="106.4" fill="#fff7fa"/>
<rect x="178" y="282.5" width="12" height="106.4" fill="#fff7fa"/>
<rect x="26" y="343" width="167" height="11" fill="#e0fbf3"/>
<rect x="28" y="345.3" width="164" height="6.6" fill="#2f8640" opacity="0.9"/>
<line x1="28" x2="194" y1="342.6" y2="342.6" stroke="#e4dbab" stroke-width="1.2" stroke-dasharray="2.4 0.4"/>
<line x1="28" x2="194" y1="356" y2="356" stroke="#e4dbab" stroke-width="1.2" stroke-dasharray="2.4 0.4"/>
<path d="M28 344.32 L28.32 349.53 L28.63 346.93 L28.95 348.28 L29.26 348.3 L29.58 348.43 L29.9 353.1 L30.21 354.23 L30.53 347.66 L30.84 347.29 L31.16 350.58 L31.48 347.39 L31.79 343.77 L32.11 350.24 L32.42 344.43 L32.74 346.16 L33.06 352.29 L33.37 348.91 L33.69 350.39 L34 349.03 L34.32 354.24 L34.64 347.54 L34.95 346.93 L35.27 349.21 L35.58 351.36 L35.9 348.28 L36.22 350.31 L36.53 351.76 L36.85 345.21 L37.16 351.37 L37.48 350.85 L37.8 347.26 L38.11 348.22 L38.43 352.48 L38.74 350.16 L39.06 346.98 L39.38 349.77 L39.69 351.41 L40.01 344.49 L40.32 349.3 L40.64 348.19 L40.96 347.26 L41.27 349.33 L41.59 348.07 L41.9 344.93 L42.22 347.02 L42.54 348.29 L42.85 346.68 L43.17 345.37 L43.48 353.78 L43.8 351.53 L44.12 353.47 L44.43 344.03 L44.75 343.76 L45.06 347.69 L45.38 349.5 L45.7 347.32 L46.01 343.32 L46.33 349.09 L46.64 353.03 L46.96 349.04 L47.28 348.65 L47.59 346.79 L47.91 351.78 L48.22 349.21 L48.54 348.4 L48.86 352.53 L49.17 347.28 L49.49 349.11 L49.8 353.17 L50.12 348.81 L50.44 349.87 L50.75 347.02 L51.07 351.94 L51.38 345.55 L51.7 351.91 L52.02 344.02 L52.33 349.87 L52.65 349.05 L52.96 351.93 L53.28 350.09 L53.6 350.18 L53.91 345.23 L54.23 346.33 L54.54 346.26 L54.86 346.38 L55.18 346.61 L55.49 350.46 L55.81 348.32 L56.12 348.46 L56.44 346.38 L56.76 346.34 L57.07 345.4 L57.39 350.74 L57.7 348.61 L58.02 349.94 L58.34 353.23 L58.65 346.33 L58.97 348.18 L59.28 343.59 L59.6 349.89 L59.92 351.84 L60.23 348.81 L60.55 348.55 L60.86 354.27 L61.18 347.79 L61.5 348.38 L61.81 346.79 L62.13 347.76 L62.44 349.01 L62.76 350.31 L63.08 347.47 L63.39 345.2 L63.71 344.16 L64.02 347.7 L64.34 342.82 L64.66 351.77 L64.97 351.89 L65.29 346.56 L65.6 351.2 L65.92 342.6 L66.24 346.17 L66.55 347.31 L66.87 349.91 L67.18 346.52 L67.5 346.09 L67.82 350.05 L68.13 347.02 L68.45 346.9 L68.76 349.8 L69.08 348.62 L69.39 348.93 L69.71 343.05 L70.03 351.36 L70.34 344.71 L70.66 350.58 L70.97 348.56 L71.29 349.27 L71.61 350.38 L71.92 352.92 L72.24 350.35 L72.55 348.32 L72.87 343.97 L73.19 345.2 L73.5 345.07 L73.82 349.03 L74.13 345.91 L74.45 345.41 L74.77 345.56 L75.08 346.66 L75.4 349.7 L75.71 353.45 L76.03 346.93 L76.35 347.83 L76.66 351.19 L76.98 347.76 L77.29 346.63 L77.61 353.22 L77.93 346.57 L78.24 349.47 L78.56 350.35 L78.87 348.74 L79.19 342.77 L79.51 351.2 L79.82 342.79 L80.14 349.8 L80.45 348.31 L80.77 352.03 L81.09 346.45 L81.4 345.7 L81.72 346.54 L82.03 348.14 L82.35 347.86 L82.67 348.69 L82.98 346.99 L83.3 349.45 L83.61 344.3 L83.93 354.04 L84.25 347.82 L84.56 352.83 L84.88 346.62 L85.19 352.02 L85.51 346.81 L85.83 348.97 L86.14 349.92 L86.46 351.09 L86.77 348.72 L87.09 346.87 L87.41 346.04 L87.72 346.04 L88.04 344.95 L88.35 342.87 L88.67 352.1 L88.99 348.17 L89.3 348.92 L89.62 343.58 L89.93 348.23 L90.25 346.99 L90.57 348.51 L90.88 346.61 L91.2 346.77 L91.51 346.5 L91.83 344.27 L92.15 343.21 L92.46 349.84 L92.78 345.23 L93.09 347.87 L93.41 351.56 L93.73 352.83 L94.04 343.93 L94.36 349.75 L94.67 350.17 L94.99 353.03 L95.31 352.08 L95.62 348.03 L95.94 344.9 L96.25 346.2 L96.57 346.9 L96.89 343.34 L97.2 346.9 L97.52 345.45 L97.83 351.42 L98.15 348.67 L98.47 347.51 L98.78 347.31 L99.1 346.98 L99.41 346.13 L99.73 353.8 L100.05 347.63 L100.36 347.06 L100.68 351.67 L100.99 347.59 L101.31 353.13 L101.63 346.17 L101.94 347.5 L102.26 344.39 L102.57 349.43 L102.89 352.9 L103.21 348.97 L103.52 349.2 L103.84 350.99 L104.15 350.97 L104.47 346.49 L104.79 346.75 L105.1 347.68 L105.42 351.19 L105.73 345.83 L106.05 347.18 L106.37 347.89 L106.68 342.48 L107 348.88 L107.31 347.58 L107.63 351.09 L107.95 346.76 L108.26 352.92 L108.58 348.84 L108.89 349.9 L109.21 345.68 L109.53 349.12 L109.84 345.67 L110.16 345.16 L110.47 350.09 L110.79 348.35 L111.11 352.96 L111.42 343.88 L111.74 349.94 L112.05 348.37 L112.37 350.09 L112.69 350.42 L113 350.85 L113.32 351.34 L113.63 342.8 L113.95 349.75 L114.27 351.77 L114.58 350.74 L114.9 349.15 L115.21 348.23 L115.53 348.09 L115.85 344.73 L116.16 348.03 L116.48 347.83 L116.79 349.07 L117.11 352.59 L117.43 344.69 L117.74 349.73 L118.06 352.44 L118.37 346.63 L118.69 346.31 L119.01 346.49 L119.32 345.64 L119.64 351.83 L119.95 349.58 L120.27 351.54 L120.59 349.51 L120.9 343.69 L121.22 346.88 L121.53 348.8 L121.85 346.6 L122.17 347.88 L122.48 347.08 L122.8 350.26 L123.11 349.66 L123.43 348.61 L123.75 345.81 L124.06 347.17 L124.38 349.94 L124.69 352.27 L125.01 344.93 L125.33 353.8 L125.64 347.44 L125.96 347.44 L126.27 349.07 L126.59 346.87 L126.91 348.39 L127.22 348.59 L127.54 347.34 L127.85 347.72 L128.17 349.57 L128.49 351.09 L128.8 352.6 L129.12 348.75 L129.43 345.14 L129.75 347.34 L130.07 344.77 L130.38 348.53 L130.7 346.81 L131.01 349.07 L131.33 351.99 L131.65 353.05 L131.96 347.44 L132.28 351.75 L132.59 344.24 L132.91 350.77 L133.23 350.89 L133.54 349.68 L133.86 348.93 L134.17 349.28 L134.49 347.41 L134.81 345.98 L135.12 350.14 L135.44 350.01 L135.75 350.4 L136.07 348.07 L136.39 350.72 L136.7 349.78 L137.02 352.53 L137.33 348.39 L137.65 343.66 L137.97 346.01 L138.28 353.67 L138.6 342.34 L138.91 349.89 L139.23 346.7 L139.55 348.61 L139.86 348.96 L140.18 346.39 L140.49 349.18 L140.81 350.88 L141.13 347.08 L141.44 347.56 L141.76 346.92 L142.07 349.67 L142.39 350.45 L142.71 346.79 L143.02 347.32 L143.34 350.06 L143.65 348.35 L143.97 352 L144.29 348.08 L144.6 346.74 L144.92 344.21 L145.23 346.7 L145.55 344.27 L145.87 348.74 L146.18 351.92 L146.5 344.64 L146.81 345.02 L147.13 345.56 L147.45 347.71 L147.76 346.01 L148.08 349.99 L148.39 350.46 L148.71 346.64 L149.03 347.63 L149.34 346.52 L149.66 349.64 L149.97 352.21 L150.29 345.95 L150.61 347.16 L150.92 345.74 L151.24 349.27 L151.55 349.24 L151.87 346.47 L152.18 347.71 L152.5 352.43 L152.82 352.89 L153.13 346.32 L153.45 348.32 L153.76 347.44 L154.08 344.69 L154.4 351.8 L154.71 349.59 L155.03 350.64 L155.34 351.15 L155.66 345.09 L155.98 352.51 L156.29 346.32 L156.61 345.26 L156.92 351 L157.24 350.44 L157.56 343.59 L157.87 350.5 L158.19 342.55 L158.5 349.24 L158.82 346.07 L159.14 347.7 L159.45 348.47 L159.77 351.14 L160.08 351.95 L160.4 348.16 L160.72 347.14 L161.03 346.71 L161.35 350.5 L161.66 347.03 L161.98 353.23 L162.3 345.03 L162.61 348.82 L162.93 350 L163.24 351.72 L163.56 346.52 L163.88 348.73 L164.19 349.41 L164.51 347.4 L164.82 348.03 L165.14 348.43 L165.46 344.3 L165.77 346.79 L166.09 348.21 L166.4 346 L166.72 349.62 L167.04 349.72 L167.35 343.62 L167.67 347.24 L167.98 349.51 L168.3 347.82 L168.62 349.67 L168.93 349.9 L169.25 345.15 L169.56 349.08 L169.88 346.54 L170.2 353.65 L170.51 349.65 L170.83 342.62 L171.14 348.25 L171.46 350.04 L171.78 350.75 L172.09 352.18 L172.41 343.72 L172.72 347.11 L173.04 352.83 L173.36 347.79 L173.67 342.86 L173.99 351.99 L174.3 347.07 L174.62 352.56 L174.94 347.27 L175.25 348.29 L175.57 348.43 L175.88 346.25 L176.2 348.77 L176.52 349.94 L176.83 353.65 L177.15 351.55 L177.46 347.32 L177.78 349.24 L178.1 351.55 L178.41 348.28 L178.73 352.79 L179.04 348.27 L179.36 342.74 L179.68 348.67 L179.99 347.33 L180.31 351.09 L180.62 347.95 L180.94 345.72 L181.26 350.03 L181.57 351.69 L181.89 346.4 L182.2 349.06 L182.52 352.1 L182.84 344.55 L183.15 345.71 L183.47 350.75 L183.78 351.54 L184.1 347.3 L184.42 349.05 L184.73 344.36 L185.05 350.1 L185.36 353.88 L185.68 349.47 L186 347.52 L186.31 348.09 L186.63 344.48 L186.94 349.08 L187.26 343.52 L187.58 348.76 L187.89 351.75 L188.21 344.63 L188.52 350.38 L188.84 348.89 L189.16 348.77 L189.47 349.99 L189.79 347.08 L190.1 343.86 L190.42 346.64 L190.74 347.15 L191.05 342.8 L191.37 349.09 L191.68 349.01 L192 345.27" fill="none" stroke="#339040" stroke-width="1.1" stroke-linejoin="round"/>
<path d="M69.1 348.3V365.8M98.7 348.3V340.4M102.2 348.3V357.6M115.9 348.3V337.2M137.8 348.3V371M155.4 348.3V335.4M161 348.3V357.5M162.2 348.3V339M164 348.3V360.9M164.9 348.3V339" stroke="#356b3d" stroke-width="0.75" fill="none"/>
<g fill="#2e7a3a" stroke="#285f30" stroke-width="0.25"><circle cx="28" cy="344.32" r="0.9"/><circle cx="28.32" cy="349.53" r="0.9"/><circle cx="28.63" cy="346.93" r="0.9"/><circle cx="28.95" cy="348.28" r="0.9"/><circle cx="29.26" cy="348.3" r="0.9"/><circle cx="29.58" cy="348.43" r="0.9"/><circle cx="29.9" cy="353.1" r="0.9"/><circle cx="30.21" cy="354.23" r="0.9"/><circle cx="30.53" cy="347.66" r="0.9"/><circle cx="30.84" cy="347.29" r="0.9"/><circle cx="31.16" cy="350.58" r="0.9"/><circle cx="31.48" cy="347.39" r="0.9"/><circle cx="31.79" cy="343.77" r="0.9"/><circle cx="32.11" cy="350.24" r="0.9"/><circle cx="32.42" cy="344.43" r="0.9"/><circle cx="32.74" cy="346.16" r="0.9"/><circle cx="33.06" cy="352.29" r="0.9"/><circle cx="33.37" cy="348.91" r="0.9"/><circle cx="33.69" cy="350.39" r="0.9"/><circle cx="34" cy="349.03" r="0.9"/><circle cx="34.32" cy="354.24" r="0.9"/><circle cx="34.64" cy="347.54" r="0.9"/><circle cx="34.95" cy="346.93" r="0.9"/><circle cx="35.27" cy="349.21" r="0.9"/><circle cx="35.58" cy="351.36" r="0.9"/><circle cx="35.9" cy="348.28" r="0.9"/><circle cx="36.22" cy="350.31" r="0.9"/><circle cx="36.53" cy="351.76" r="0.9"/><circle cx="36.85" cy="345.21" r="0.9"/><circle cx="37.16" cy="351.37" r="0.9"/><circle cx="37.48" cy="350.85" r="0.9"/><circle cx="37.8" cy="347.26" r="0.9"/><circle cx="38.11" cy="348.22" r="0.9"/><circle cx="38.43" cy="352.48" r="0.9"/><circle cx="38.74" cy="350.16" r="0.9"/><circle cx="39.06" cy="346.98" r="0.9"/><circle cx="39.38" cy="349.77" r="0.9"/><circle cx="39.69" cy="351.41" r="0.9"/><circle cx="40.01" cy="344.49" r="0.9"/><circle cx="40.32" cy="349.3" r="0.9"/><circle cx="40.64" cy="348.19" r="0.9"/><circle cx="40.96" cy="347.26" r="0.9"/><circle cx="41.27" cy="349.33" r="0.9"/><circle cx="41.59" cy="348.07" r="0.9"/><circle cx="41.9" cy="344.93" r="0.9"/><circle cx="42.22" cy="347.02" r="0.9"/><circle cx="42.54" cy="348.29" r="0.9"/><circle cx="42.85" cy="346.68" r="0.9"/><circle cx="43.17" cy="345.37" r="0.9"/><circle cx="43.48" cy="353.78" r="0.9"/><circle cx="43.8" cy="351.53" r="0.9"/><circle cx="44.12" cy="353.47" r="0.9"/><circle cx="44.43" cy="344.03" r="0.9"/><circle cx="44.75" cy="343.76" r="0.9"/><circle cx="45.06" cy="347.69" r="0.9"/><circle cx="45.38" cy="349.5" r="0.9"/><circle cx="45.7" cy="347.32" r="0.9"/><circle cx="46.01" cy="343.32" r="0.9"/><circle cx="46.33" cy="349.09" r="0.9"/><circle cx="46.64" cy="353.03" r="0.9"/><circle cx="46.96" cy="349.04" r="0.9"/><circle cx="47.28" cy="348.65" r="0.9"/><circle cx="47.59" cy="346.79" r="0.9"/><circle cx="47.91" cy="351.78" r="0.9"/><circle cx="48.22" cy="349.21" r="0.9"/><circle cx="48.54" cy="348.4" r="0.9"/><circle cx="48.86" cy="352.53" r="0.9"/><circle cx="49.17" cy="347.28" r="0.9"/><circle cx="49.49" cy="349.11" r="0.9"/><circle cx="49.8" cy="353.17" r="0.9"/><circle cx="50.12" cy="348.81" r="0.9"/><circle cx="50.44" cy="349.87" r="0.9"/><circle cx="50.75" cy="347.02" r="0.9"/><circle cx="51.07" cy="351.94" r="0.9"/><circle cx="51.38" cy="345.55" r="0.9"/><circle cx="51.7" cy="351.91" r="0.9"/><circle cx="52.02" cy="344.02" r="0.9"/><circle cx="52.33" cy="349.87" r="0.9"/><circle cx="52.65" cy="349.05" r="0.9"/><circle cx="52.96" cy="351.93" r="0.9"/><circle cx="53.28" cy="350.09" r="0.9"/><circle cx="53.6" cy="350.18" r="0.9"/><circle cx="53.91" cy="345.23" r="0.9"/><circle cx="54.23" cy="346.33" r="0.9"/><circle cx="54.54" cy="346.26" r="0.9"/><circle cx="54.86" cy="346.38" r="0.9"/><circle cx="55.18" cy="346.61" r="0.9"/><circle cx="55.49" cy="350.46" r="0.9"/><circle cx="55.81" cy="348.32" r="0.9"/><circle cx="56.12" cy="348.46" r="0.9"/><circle cx="56.44" cy="346.38" r="0.9"/><circle cx="56.76" cy="346.34" r="0.9"/><circle cx="57.07" cy="345.4" r="0.9"/><circle cx="57.39" cy="350.74" r="0.9"/><circle cx="57.7" cy="348.61" r="0.9"/><circle cx="58.02" cy="349.94" r="0.9"/><circle cx="58.34" cy="353.23" r="0.9"/><circle cx="58.65" cy="346.33" r="0.9"/><circle cx="58.97" cy="348.18" r="0.9"/><circle cx="59.28" cy="343.59" r="0.9"/><circle cx="59.6" cy="349.89" r="0.9"/><circle cx="59.92" cy="351.84" r="0.9"/><circle cx="60.23" cy="348.81" r="0.9"/><circle cx="60.55" cy="348.55" r="0.9"/><circle cx="60.86" cy="354.27" r="0.9"/><circle cx="61.18" cy="347.79" r="0.9"/><circle cx="61.5" cy="348.38" r="0.9"/><circle cx="61.81" cy="346.79" r="0.9"/><circle cx="62.13" cy="347.76" r="0.9"/><circle cx="62.44" cy="349.01" r="0.9"/><circle cx="62.76" cy="350.31" r="0.9"/><circle cx="63.08" cy="347.47" r="0.9"/><circle cx="63.39" cy="345.2" r="0.9"/><circle cx="63.71" cy="344.16" r="0.9"/><circle cx="64.02" cy="347.7" r="0.9"/><circle cx="64.34" cy="342.82" r="0.9"/><circle cx="64.66" cy="351.77" r="0.9"/><circle cx="64.97" cy="351.89" r="0.9"/><circle cx="65.29" cy="346.56" r="0.9"/><circle cx="65.6" cy="351.2" r="0.9"/><circle cx="65.92" cy="342.6" r="0.9"/><circle cx="66.24" cy="346.17" r="0.9"/><circle cx="66.55" cy="347.31" r="0.9"/><circle cx="66.87" cy="349.91" r="0.9"/><circle cx="67.18" cy="346.52" r="0.9"/><circle cx="67.5" cy="346.09" r="0.9"/><circle cx="67.82" cy="350.05" r="0.9"/><circle cx="68.13" cy="347.02" r="0.9"/><circle cx="68.45" cy="346.9" r="0.9"/><circle cx="68.76" cy="349.8" r="0.9"/><circle cx="69.08" cy="348.62" r="0.9"/><circle cx="69.39" cy="348.93" r="0.9"/><circle cx="69.71" cy="343.05" r="0.9"/><circle cx="70.03" cy="351.36" r="0.9"/><circle cx="70.34" cy="344.71" r="0.9"/><circle cx="70.66" cy="350.58" r="0.9"/><circle cx="70.97" cy="348.56" r="0.9"/><circle cx="71.29" cy="349.27" r="0.9"/><circle cx="71.61" cy="350.38" r="0.9"/><circle cx="71.92" cy="352.92" r="0.9"/><circle cx="72.24" cy="350.35" r="0.9"/><circle cx="72.55" cy="348.32" r="0.9"/><circle cx="72.87" cy="343.97" r="0.9"/><circle cx="73.19" cy="345.2" r="0.9"/><circle cx="73.5" cy="345.07" r="0.9"/><circle cx="73.82" cy="349.03" r="0.9"/><circle cx="74.13" cy="345.91" r="0.9"/><circle cx="74.45" cy="345.41" r="0.9"/><circle cx="74.77" cy="345.56" r="0.9"/><circle cx="75.08" cy="346.66" r="0.9"/><circle cx="75.4" cy="349.7" r="0.9"/><circle cx="75.71" cy="353.45" r="0.9"/><circle cx="76.03" cy="346.93" r="0.9"/><circle cx="76.35" cy="347.83" r="0.9"/><circle cx="76.66" cy="351.19" r="0.9"/><circle cx="76.98" cy="347.76" r="0.9"/><circle cx="77.29" cy="346.63" r="0.9"/><circle cx="77.61" cy="353.22" r="0.9"/><circle cx="77.93" cy="346.57" r="0.9"/><circle cx="78.24" cy="349.47" r="0.9"/><circle cx="78.56" cy="350.35" r="0.9"/><circle cx="78.87" cy="348.74" r="0.9"/><circle cx="79.19" cy="342.77" r="0.9"/><circle cx="79.51" cy="351.2" r="0.9"/><circle cx="79.82" cy="342.79" r="0.9"/><circle cx="80.14" cy="349.8" r="0.9"/><circle cx="80.45" cy="348.31" r="0.9"/><circle cx="80.77" cy="352.03" r="0.9"/><circle cx="81.09" cy="346.45" r="0.9"/><circle cx="81.4" cy="345.7" r="0.9"/><circle cx="81.72" cy="346.54" r="0.9"/><circle cx="82.03" cy="348.14" r="0.9"/><circle cx="82.35" cy="347.86" r="0.9"/><circle cx="82.67" cy="348.69" r="0.9"/><circle cx="82.98" cy="346.99" r="0.9"/><circle cx="83.3" cy="349.45" r="0.9"/><circle cx="83.61" cy="344.3" r="0.9"/><circle cx="83.93" cy="354.04" r="0.9"/><circle cx="84.25" cy="347.82" r="0.9"/><circle cx="84.56" cy="352.83" r="0.9"/><circle cx="84.88" cy="346.62" r="0.9"/><circle cx="85.19" cy="352.02" r="0.9"/><circle cx="85.51" cy="346.81" r="0.9"/><circle cx="85.83" cy="348.97" r="0.9"/><circle cx="86.14" cy="349.92" r="0.9"/><circle cx="86.46" cy="351.09" r="0.9"/><circle cx="86.77" cy="348.72" r="0.9"/><circle cx="87.09" cy="346.87" r="0.9"/><circle cx="87.41" cy="346.04" r="0.9"/><circle cx="87.72" cy="346.04" r="0.9"/><circle cx="88.04" cy="344.95" r="0.9"/><circle cx="88.35" cy="342.87" r="0.9"/><circle cx="88.67" cy="352.1" r="0.9"/><circle cx="88.99" cy="348.17" r="0.9"/><circle cx="89.3" cy="348.92" r="0.9"/><circle cx="89.62" cy="343.58" r="0.9"/><circle cx="89.93" cy="348.23" r="0.9"/><circle cx="90.25" cy="346.99" r="0.9"/><circle cx="90.57" cy="348.51" r="0.9"/><circle cx="90.88" cy="346.61" r="0.9"/><circle cx="91.2" cy="346.77" r="0.9"/><circle cx="91.51" cy="346.5" r="0.9"/><circle cx="91.83" cy="344.27" r="0.9"/><circle cx="92.15" cy="343.21" r="0.9"/><circle cx="92.46" cy="349.84" r="0.9"/><circle cx="92.78" cy="345.23" r="0.9"/><circle cx="93.09" cy="347.87" r="0.9"/><circle cx="93.41" cy="351.56" r="0.9"/><circle cx="93.73" cy="352.83" r="0.9"/><circle cx="94.04" cy="343.93" r="0.9"/><circle cx="94.36" cy="349.75" r="0.9"/><circle cx="94.67" cy="350.17" r="0.9"/><circle cx="94.99" cy="353.03" r="0.9"/><circle cx="95.31" cy="352.08" r="0.9"/><circle cx="95.62" cy="348.03" r="0.9"/><circle cx="95.94" cy="344.9" r="0.9"/><circle cx="96.25" cy="346.2" r="0.9"/><circle cx="96.57" cy="346.9" r="0.9"/><circle cx="96.89" cy="343.34" r="0.9"/><circle cx="97.2" cy="346.9" r="0.9"/><circle cx="97.52" cy="345.45" r="0.9"/><circle cx="97.83" cy="351.42" r="0.9"/><circle cx="98.15" cy="348.67" r="0.9"/><circle cx="98.47" cy="347.51" r="0.9"/><circle cx="98.78" cy="347.31" r="0.9"/><circle cx="99.1" cy="346.98" r="0.9"/><circle cx="99.41" cy="346.13" r="0.9"/><circle cx="99.73" cy="353.8" r="0.9"/><circle cx="100.05" cy="347.63" r="0.9"/><circle cx="100.36" cy="347.06" r="0.9"/><circle cx="100.68" cy="351.67" r="0.9"/><circle cx="100.99" cy="347.59" r="0.9"/><circle cx="101.31" cy="353.13" r="0.9"/><circle cx="101.63" cy="346.17" r="0.9"/><circle cx="101.94" cy="347.5" r="0.9"/><circle cx="102.26" cy="344.39" r="0.9"/><circle cx="102.57" cy="349.43" r="0.9"/><circle cx="102.89" cy="352.9" r="0.9"/><circle cx="103.21" cy="348.97" r="0.9"/><circle cx="103.52" cy="349.2" r="0.9"/><circle cx="103.84" cy="350.99" r="0.9"/><circle cx="104.15" cy="350.97" r="0.9"/><circle cx="104.47" cy="346.49" r="0.9"/><circle cx="104.79" cy="346.75" r="0.9"/><circle cx="105.1" cy="347.68" r="0.9"/><circle cx="105.42" cy="351.19" r="0.9"/><circle cx="105.73" cy="345.83" r="0.9"/><circle cx="106.05" cy="347.18" r="0.9"/><circle cx="106.37" cy="347.89" r="0.9"/><circle cx="106.68" cy="342.48" r="0.9"/><circle cx="107" cy="348.88" r="0.9"/><circle cx="107.31" cy="347.58" r="0.9"/><circle cx="107.63" cy="351.09" r="0.9"/><circle cx="107.95" cy="346.76" r="0.9"/><circle cx="108.26" cy="352.92" r="0.9"/><circle cx="108.58" cy="348.84" r="0.9"/><circle cx="108.89" cy="349.9" r="0.9"/><circle cx="109.21" cy="345.68" r="0.9"/><circle cx="109.53" cy="349.12" r="0.9"/><circle cx="109.84" cy="345.67" r="0.9"/><circle cx="110.16" cy="345.16" r="0.9"/><circle cx="110.47" cy="350.09" r="0.9"/><circle cx="110.79" cy="348.35" r="0.9"/><circle cx="111.11" cy="352.96" r="0.9"/><circle cx="111.42" cy="343.88" r="0.9"/><circle cx="111.74" cy="349.94" r="0.9"/><circle cx="112.05" cy="348.37" r="0.9"/><circle cx="112.37" cy="350.09" r="0.9"/><circle cx="112.69" cy="350.42" r="0.9"/><circle cx="113" cy="350.85" r="0.9"/><circle cx="113.32" cy="351.34" r="0.9"/><circle cx="113.63" cy="342.8" r="0.9"/><circle cx="113.95" cy="349.75" r="0.9"/><circle cx="114.27" cy="351.77" r="0.9"/><circle cx="114.58" cy="350.74" r="0.9"/><circle cx="114.9" cy="349.15" r="0.9"/><circle cx="115.21" cy="348.23" r="0.9"/><circle cx="115.53" cy="348.09" r="0.9"/><circle cx="115.85" cy="344.73" r="0.9"/><circle cx="116.16" cy="348.03" r="0.9"/><circle cx="116.48" cy="347.83" r="0.9"/><circle cx="116.79" cy="349.07" r="0.9"/><circle cx="117.11" cy="352.59" r="0.9"/><circle cx="117.43" cy="344.69" r="0.9"/><circle cx="117.74" cy="349.73" r="0.9"/><circle cx="118.06" cy="352.44" r="0.9"/><circle cx="118.37" cy="346.63" r="0.9"/><circle cx="118.69" cy="346.31" r="0.9"/><circle cx="119.01" cy="346.49" r="0.9"/><circle cx="119.32" cy="345.64" r="0.9"/><circle cx="119.64" cy="351.83" r="0.9"/><circle cx="119.95" cy="349.58" r="0.9"/><circle cx="120.27" cy="351.54" r="0.9"/><circle cx="120.59" cy="349.51" r="0.9"/><circle cx="120.9" cy="343.69" r="0.9"/><circle cx="121.22" cy="346.88" r="0.9"/><circle cx="121.53" cy="348.8" r="0.9"/><circle cx="121.85" cy="346.6" r="0.9"/><circle cx="122.17" cy="347.88" r="0.9"/><circle cx="122.48" cy="347.08" r="0.9"/><circle cx="122.8" cy="350.26" r="0.9"/><circle cx="123.11" cy="349.66" r="0.9"/><circle cx="123.43" cy="348.61" r="0.9"/><circle cx="123.75" cy="345.81" r="0.9"/><circle cx="124.06" cy="347.17" r="0.9"/><circle cx="124.38" cy="349.94" r="0.9"/><circle cx="124.69" cy="352.27" r="0.9"/><circle cx="125.01" cy="344.93" r="0.9"/><circle cx="125.33" cy="353.8" r="0.9"/><circle cx="125.64" cy="347.44" r="0.9"/><circle cx="125.96" cy="347.44" r="0.9"/><circle cx="126.27" cy="349.07" r="0.9"/><circle cx="126.59" cy="346.87" r="0.9"/><circle cx="126.91" cy="348.39" r="0.9"/><circle cx="127.22" cy="348.59" r="0.9"/><circle cx="127.54" cy="347.34" r="0.9"/><circle cx="127.85" cy="347.72" r="0.9"/><circle cx="128.17" cy="349.57" r="0.9"/><circle cx="128.49" cy="351.09" r="0.9"/><circle cx="128.8" cy="352.6" r="0.9"/><circle cx="129.12" cy="348.75" r="0.9"/><circle cx="129.43" cy="345.14" r="0.9"/><circle cx="129.75" cy="347.34" r="0.9"/><circle cx="130.07" cy="344.77" r="0.9"/><circle cx="130.38" cy="348.53" r="0.9"/><circle cx="130.7" cy="346.81" r="0.9"/><circle cx="131.01" cy="349.07" r="0.9"/><circle cx="131.33" cy="351.99" r="0.9"/><circle cx="131.65" cy="353.05" r="0.9"/><circle cx="131.96" cy="347.44" r="0.9"/><circle cx="132.28" cy="351.75" r="0.9"/><circle cx="132.59" cy="344.24" r="0.9"/><circle cx="132.91" cy="350.77" r="0.9"/><circle cx="133.23" cy="350.89" r="0.9"/><circle cx="133.54" cy="349.68" r="0.9"/><circle cx="133.86" cy="348.93" r="0.9"/><circle cx="134.17" cy="349.28" r="0.9"/><circle cx="134.49" cy="347.41" r="0.9"/><circle cx="134.81" cy="345.98" r="0.9"/><circle cx="135.12" cy="350.14" r="0.9"/><circle cx="135.44" cy="350.01" r="0.9"/><circle cx="135.75" cy="350.4" r="0.9"/><circle cx="136.07" cy="348.07" r="0.9"/><circle cx="136.39" cy="350.72" r="0.9"/><circle cx="136.7" cy="349.78" r="0.9"/><circle cx="137.02" cy="352.53" r="0.9"/><circle cx="137.33" cy="348.39" r="0.9"/><circle cx="137.65" cy="343.66" r="0.9"/><circle cx="137.97" cy="346.01" r="0.9"/><circle cx="138.28" cy="353.67" r="0.9"/><circle cx="138.6" cy="342.34" r="0.9"/><circle cx="138.91" cy="349.89" r="0.9"/><circle cx="139.23" cy="346.7" r="0.9"/><circle cx="139.55" cy="348.61" r="0.9"/><circle cx="139.86" cy="348.96" r="0.9"/><circle cx="140.18" cy="346.39" r="0.9"/><circle cx="140.49" cy="349.18" r="0.9"/><circle cx="140.81" cy="350.88" r="0.9"/><circle cx="141.13" cy="347.08" r="0.9"/><circle cx="141.44" cy="347.56" r="0.9"/><circle cx="141.76" cy="346.92" r="0.9"/><circle cx="142.07" cy="349.67" r="0.9"/><circle cx="142.39" cy="350.45" r="0.9"/><circle cx="142.71" cy="346.79" r="0.9"/><circle cx="143.02" cy="347.32" r="0.9"/><circle cx="143.34" cy="350.06" r="0.9"/><circle cx="143.65" cy="348.35" r="0.9"/><circle cx="143.97" cy="352" r="0.9"/><circle cx="144.29" cy="348.08" r="0.9"/><circle cx="144.6" cy="346.74" r="0.9"/><circle cx="144.92" cy="344.21" r="0.9"/><circle cx="145.23" cy="346.7" r="0.9"/><circle cx="145.55" cy="344.27" r="0.9"/><circle cx="145.87" cy="348.74" r="0.9"/><circle cx="146.18" cy="351.92" r="0.9"/><circle cx="146.5" cy="344.64" r="0.9"/><circle cx="146.81" cy="345.02" r="0.9"/><circle cx="147.13" cy="345.56" r="0.9"/><circle cx="147.45" cy="347.71" r="0.9"/><circle cx="147.76" cy="346.01" r="0.9"/><circle cx="148.08" cy="349.99" r="0.9"/><circle cx="148.39" cy="350.46" r="0.9"/><circle cx="148.71" cy="346.64" r="0.9"/><circle cx="149.03" cy="347.63" r="0.9"/><circle cx="149.34" cy="346.52" r="0.9"/><circle cx="149.66" cy="349.64" r="0.9"/><circle cx="149.97" cy="352.21" r="0.9"/><circle cx="150.29" cy="345.95" r="0.9"/><circle cx="150.61" cy="347.16" r="0.9"/><circle cx="150.92" cy="345.74" r="0.9"/><circle cx="151.24" cy="349.27" r="0.9"/><circle cx="151.55" cy="349.24" r="0.9"/><circle cx="151.87" cy="346.47" r="0.9"/><circle cx="152.18" cy="347.71" r="0.9"/><circle cx="152.5" cy="352.43" r="0.9"/><circle cx="152.82" cy="352.89" r="0.9"/><circle cx="153.13" cy="346.32" r="0.9"/><circle cx="153.45" cy="348.32" r="0.9"/><circle cx="153.76" cy="347.44" r="0.9"/><circle cx="154.08" cy="344.69" r="0.9"/><circle cx="154.4" cy="351.8" r="0.9"/><circle cx="154.71" cy="349.59" r="0.9"/><circle cx="155.03" cy="350.64" r="0.9"/><circle cx="155.34" cy="351.15" r="0.9"/><circle cx="155.66" cy="345.09" r="0.9"/><circle cx="155.98" cy="352.51" r="0.9"/><circle cx="156.29" cy="346.32" r="0.9"/><circle cx="156.61" cy="345.26" r="0.9"/><circle cx="156.92" cy="351" r="0.9"/><circle cx="157.24" cy="350.44" r="0.9"/><circle cx="157.56" cy="343.59" r="0.9"/><circle cx="157.87" cy="350.5" r="0.9"/><circle cx="158.19" cy="342.55" r="0.9"/><circle cx="158.5" cy="349.24" r="0.9"/><circle cx="158.82" cy="346.07" r="0.9"/><circle cx="159.14" cy="347.7" r="0.9"/><circle cx="159.45" cy="348.47" r="0.9"/><circle cx="159.77" cy="351.14" r="0.9"/><circle cx="160.08" cy="351.95" r="0.9"/><circle cx="160.4" cy="348.16" r="0.9"/><circle cx="160.72" cy="347.14" r="0.9"/><circle cx="161.03" cy="346.71" r="0.9"/><circle cx="161.35" cy="350.5" r="0.9"/><circle cx="161.66" cy="347.03" r="0.9"/><circle cx="161.98" cy="353.23" r="0.9"/><circle cx="162.3" cy="345.03" r="0.9"/><circle cx="162.61" cy="348.82" r="0.9"/><circle cx="162.93" cy="350" r="0.9"/><circle cx="163.24" cy="351.72" r="0.9"/><circle cx="163.56" cy="346.52" r="0.9"/><circle cx="163.88" cy="348.73" r="0.9"/><circle cx="164.19" cy="349.41" r="0.9"/><circle cx="164.51" cy="347.4" r="0.9"/><circle cx="164.82" cy="348.03" r="0.9"/><circle cx="165.14" cy="348.43" r="0.9"/><circle cx="165.46" cy="344.3" r="0.9"/><circle cx="165.77" cy="346.79" r="0.9"/><circle cx="166.09" cy="348.21" r="0.9"/><circle cx="166.4" cy="346" r="0.9"/><circle cx="166.72" cy="349.62" r="0.9"/><circle cx="167.04" cy="349.72" r="0.9"/><circle cx="167.35" cy="343.62" r="0.9"/><circle cx="167.67" cy="347.24" r="0.9"/><circle cx="167.98" cy="349.51" r="0.9"/><circle cx="168.3" cy="347.82" r="0.9"/><circle cx="168.62" cy="349.67" r="0.9"/><circle cx="168.93" cy="349.9" r="0.9"/><circle cx="169.25" cy="345.15" r="0.9"/><circle cx="169.56" cy="349.08" r="0.9"/><circle cx="169.88" cy="346.54" r="0.9"/><circle cx="170.2" cy="353.65" r="0.9"/><circle cx="170.51" cy="349.65" r="0.9"/><circle cx="170.83" cy="342.62" r="0.9"/><circle cx="171.14" cy="348.25" r="0.9"/><circle cx="171.46" cy="350.04" r="0.9"/><circle cx="171.78" cy="350.75" r="0.9"/><circle cx="172.09" cy="352.18" r="0.9"/><circle cx="172.41" cy="343.72" r="0.9"/><circle cx="172.72" cy="347.11" r="0.9"/><circle cx="173.04" cy="352.83" r="0.9"/><circle cx="173.36" cy="347.79" r="0.9"/><circle cx="173.67" cy="342.86" r="0.9"/><circle cx="173.99" cy="351.99" r="0.9"/><circle cx="174.3" cy="347.07" r="0.9"/><circle cx="174.62" cy="352.56" r="0.9"/><circle cx="174.94" cy="347.27" r="0.9"/><circle cx="175.25" cy="348.29" r="0.9"/><circle cx="175.57" cy="348.43" r="0.9"/><circle cx="175.88" cy="346.25" r="0.9"/><circle cx="176.2" cy="348.77" r="0.9"/><circle cx="176.52" cy="349.94" r="0.9"/><circle cx="176.83" cy="353.65" r="0.9"/><circle cx="177.15" cy="351.55" r="0.9"/><circle cx="177.46" cy="347.32" r="0.9"/><circle cx="177.78" cy="349.24" r="0.9"/><circle cx="178.1" cy="351.55" r="0.9"/><circle cx="178.41" cy="348.28" r="0.9"/><circle cx="178.73" cy="352.79" r="0.9"/><circle cx="179.04" cy="348.27" r="0.9"/><circle cx="179.36" cy="342.74" r="0.9"/><circle cx="179.68" cy="348.67" r="0.9"/><circle cx="179.99" cy="347.33" r="0.9"/><circle cx="180.31" cy="351.09" r="0.9"/><circle cx="180.62" cy="347.95" r="0.9"/><circle cx="180.94" cy="345.72" r="0.9"/><circle cx="181.26" cy="350.03" r="0.9"/><circle cx="181.57" cy="351.69" r="0.9"/><circle cx="181.89" cy="346.4" r="0.9"/><circle cx="182.2" cy="349.06" r="0.9"/><circle cx="182.52" cy="352.1" r="0.9"/><circle cx="182.84" cy="344.55" r="0.9"/><circle cx="183.15" cy="345.71" r="0.9"/><circle cx="183.47" cy="350.75" r="0.9"/><circle cx="183.78" cy="351.54" r="0.9"/><circle cx="184.1" cy="347.3" r="0.9"/><circle cx="184.42" cy="349.05" r="0.9"/><circle cx="184.73" cy="344.36" r="0.9"/><circle cx="185.05" cy="350.1" r="0.9"/><circle cx="185.36" cy="353.88" r="0.9"/><circle cx="185.68" cy="349.47" r="0.9"/><circle cx="186" cy="347.52" r="0.9"/><circle cx="186.31" cy="348.09" r="0.9"/><circle cx="186.63" cy="344.48" r="0.9"/><circle cx="186.94" cy="349.08" r="0.9"/><circle cx="187.26" cy="343.52" r="0.9"/><circle cx="187.58" cy="348.76" r="0.9"/><circle cx="187.89" cy="351.75" r="0.9"/><circle cx="188.21" cy="344.63" r="0.9"/><circle cx="188.52" cy="350.38" r="0.9"/><circle cx="188.84" cy="348.89" r="0.9"/><circle cx="189.16" cy="348.77" r="0.9"/><circle cx="189.47" cy="349.99" r="0.9"/><circle cx="189.79" cy="347.08" r="0.9"/><circle cx="190.1" cy="343.86" r="0.9"/><circle cx="190.42" cy="346.64" r="0.9"/><circle cx="190.74" cy="347.15" r="0.9"/><circle cx="191.05" cy="342.8" r="0.9"/><circle cx="191.37" cy="349.09" r="0.9"/><circle cx="191.68" cy="349.01" r="0.9"/><circle cx="192" cy="345.27" r="0.9"/><circle cx="69.1" cy="365.8" r="0.9"/><circle cx="98.7" cy="340.4" r="0.9"/><circle cx="102.2" cy="357.6" r="0.9"/><circle cx="137.8" cy="371" r="0.9"/><circle cx="155.4" cy="335.4" r="0.9"/><circle cx="161" cy="357.5" r="0.9"/><circle cx="164" cy="360.9" r="0.9"/></g>
<path d="M32.5 348.3V333.3M44.2 348.3V293.6M45.3 348.3V358M47.9 348.3V287M47.9 348.3V360.7M75.7 348.3V326M91.6 348.3V333.3M95 348.3V336.4M97.8 348.3V364.7M108.9 348.3V333.3M108.9 348.3V375.3M113 348.3V368.3M152 348.3V384.1M181.4 348.3V339.9M184.7 348.3V325.9M184.7 348.3V359.7" stroke="#c98f74" stroke-width="1.4" fill="none"/>
<circle cx="32.5" cy="333.3" r="1.05" fill="#5a2c20"/><circle cx="44.2" cy="293.6" r="1.05" fill="#5a2c20"/><circle cx="45.3" cy="358" r="1.05" fill="#5a2c20"/><circle cx="47.9" cy="287" r="1.05" fill="#5a2c20"/><circle cx="47.9" cy="360.7" r="1.05" fill="#5a2c20"/><circle cx="75.7" cy="326" r="1.05" fill="#5a2c20"/><circle cx="91.6" cy="333.3" r="1.05" fill="#5a2c20"/><circle cx="95" cy="336.4" r="1.05" fill="#5a2c20"/><circle cx="97.8" cy="364.7" r="1.05" fill="#5a2c20"/><circle cx="108.9" cy="333.3" r="1.05" fill="#5a2c20"/><circle cx="108.9" cy="375.3" r="1.05" fill="#5a2c20"/><circle cx="113" cy="368.3" r="1.05" fill="#5a2c20"/><circle cx="115.9" cy="337.2" r="0.9" fill="#c8383a"/><circle cx="152" cy="384.1" r="1.05" fill="#5a2c20"/><circle cx="162.2" cy="339" r="0.9" fill="#c8383a"/><circle cx="164.9" cy="339" r="0.9" fill="#c8383a"/><circle cx="181.4" cy="339.9" r="1.05" fill="#5a2c20"/><circle cx="184.7" cy="325.9" r="1.05" fill="#5a2c20"/><circle cx="184.7" cy="359.7" r="1.05" fill="#5a2c20"/><circle cx="44.2" cy="309" r="0.85" fill="#5a2c20"/><circle cx="44.2" cy="324.5" r="0.85" fill="#5a2c20"/><circle cx="113" cy="359.7" r="0.85" fill="#5a2c20"/>
<line x1="185.9" x2="185.9" y1="284" y2="387.4" stroke="#4a4f9e" stroke-width="0.85" stroke-dasharray="1.6 0.6"/>
<line x1="192" x2="192" y1="284" y2="387.4" stroke="#4a4f9e" stroke-width="0.85" stroke-dasharray="1.6 0.6"/>
<rect x="21.4" y="282.5" width="177.3" height="106.4" fill="none" stroke="#777777" stroke-width="1.1"/>
<line x1="20.1" x2="21.4" y1="295.4" y2="295.4" stroke="#3a3a3a" stroke-width="0.45"/>
<text x="19.5" y="297.1" text-anchor="end" font-size="3.6">10.0</text>
<line x1="20.1" x2="21.4" y1="308.9" y2="308.9" stroke="#3a3a3a" stroke-width="0.45"/>
<text x="19.5" y="310.6" text-anchor="end" font-size="3.6">7.5</text>
<line x1="20.1" x2="21.4" y1="322.4" y2="322.4" stroke="#3a3a3a" stroke-width="0.45"/>
<text x="19.5" y="324.1" text-anchor="end" font-size="3.6">5.0</text>
<line x1="20.1" x2="21.4" y1="335.9" y2="335.9" stroke="#3a3a3a" stroke-width="0.45"/>
<text x="19.5" y="337.6" text-anchor="end" font-size="3.6">2.5</text>
<line x1="20.1" x2="21.4" y1="349.4" y2="349.4" stroke="#3a3a3a" stroke-width="0.45"/>
<text x="19.5" y="351.1" text-anchor="end" font-size="3.6">0.0</text>
<line x1="20.1" x2="21.4" y1="362.9" y2="362.9" stroke="#3a3a3a" stroke-width="0.45"/>
<text x="19.5" y="364.6" text-anchor="end" font-size="3.6">−2.5</text>
<line x1="20.1" x2="21.4" y1="376.4" y2="376.4" stroke="#3a3a3a" stroke-width="0.45"/>
<text x="19.5" y="378.1" text-anchor="end" font-size="3.6">−5.0</text>
<text transform="translate(9.79,335.7) rotate(-90)" text-anchor="middle" font-size="3.4">BG_volume</text>
<path d="M29.2 388.9v1.3M34.9 388.9v1.3M40.8 388.9v1.3M46.3 388.9v1.3M53.9 388.9v1.3M60.2 388.9v1.3M67.3 388.9v1.3M74.8 388.9v1.3M82.2 388.9v1.3M88.9 388.9v1.3M96.1 388.9v1.3M103.1 388.9v1.3M110.1 388.9v1.3M117.2 388.9v1.3M124.2 388.9v1.3M131.3 388.9v1.3M138 388.9v1.3M145.2 388.9v1.3M151.9 388.9v1.3M158.6 388.9v1.3M165.6 388.9v1.3M172 388.9v1.3M178.7 388.9v1.3M185.4 388.9v1.3M190.6 388.9v1.3" stroke="#3a3a3a" stroke-width="0.45"/>
<g><text transform="translate(30.9,395.8) rotate(-90)" class="tl" font-size="3.6">18</text><text transform="translate(30.9,400.8) rotate(-90)" class="tl" font-size="3.6">18</text><text transform="translate(36.6,395.8) rotate(-90)" class="tl" font-size="3.6">18</text><text transform="translate(36.6,400.8) rotate(-90)" class="tl" font-size="3.6">18</text><text transform="translate(42.5,395.8) rotate(-90)" class="tl" font-size="3.6">18</text><text transform="translate(42.5,400.8) rotate(-90)" class="tl" font-size="3.6">18</text><text transform="translate(48,395.8) rotate(-90)" class="tl" font-size="3.6">18</text><text transform="translate(48,400.8) rotate(-90)" class="tl" font-size="3.6">18</text><text transform="translate(55.6,395.8) rotate(-90)" class="tl" font-size="3.6">18</text><text transform="translate(55.6,400.8) rotate(-90)" class="tl" font-size="3.6">18</text><text transform="translate(61.9,395.8) rotate(-90)" class="tl" font-size="3.6">18</text><text transform="translate(61.9,400.8) rotate(-90)" class="tl" font-size="3.6">18</text><text transform="translate(69,395.8) rotate(-90)" class="tl" font-size="3.6">18</text><text transform="translate(69,400.8) rotate(-90)" class="tl" font-size="3.6">18</text><text transform="translate(76.5,395.8) rotate(-90)" class="tl" font-size="3.6">18</text><text transform="translate(76.5,400.8) rotate(-90)" class="tl" font-size="3.6">18</text><text transform="translate(83.9,395.8) rotate(-90)" class="tl" font-size="3.6">18</text><text transform="translate(83.9,400.8) rotate(-90)" class="tl" font-size="3.6">18</text><text transform="translate(90.6,395.8) rotate(-90)" class="tl" font-size="3.6">18</text><text transform="translate(90.6,400.8) rotate(-90)" class="tl" font-size="3.6">18</text><text transform="translate(97.8,395.8) rotate(-90)" class="tl" font-size="3.6">18</text><text transform="translate(97.8,400.8) rotate(-90)" class="tl" font-size="3.6">18</text><text transform="translate(104.8,395.8) rotate(-90)" class="tl" font-size="3.6">18</text><text transform="translate(104.8,400.8) rotate(-90)" class="tl" font-size="3.6">18</text><text transform="translate(111.8,395.8) rotate(-90)" class="tl" font-size="3.6">18</text><text transform="translate(111.8,400.8) rotate(-90)" class="tl" font-size="3.6">18</text><text transform="translate(118.9,395.8) rotate(-90)" class="tl" font-size="3.6">18</text><text transform="translate(118.9,400.8) rotate(-90)" class="tl" font-size="3.6">18</text><text transform="translate(125.9,395.8) rotate(-90)" class="tl" font-size="3.6">18</text><text transform="translate(125.9,400.8) rotate(-90)" class="tl" font-size="3.6">18</text><text transform="translate(133,395.8) rotate(-90)" class="tl" font-size="3.6">18</text><text transform="translate(133,400.8) rotate(-90)" class="tl" font-size="3.6">18</text><text transform="translate(139.7,395.8) rotate(-90)" class="tl" font-size="3.6">18</text><text transform="translate(139.7,400.8) rotate(-90)" class="tl" font-size="3.6">18</text><text transform="translate(146.9,395.8) rotate(-90)" class="tl" font-size="3.6">18</text><text transform="translate(146.9,400.8) rotate(-90)" class="tl" font-size="3.6">18</text><text transform="translate(153.6,395.8) rotate(-90)" class="tl" font-size="3.6">18</text><text transform="translate(153.6,400.8) rotate(-90)" class="tl" font-size="3.6">18</text><text transform="translate(160.3,395.8) rotate(-90)" class="tl" font-size="3.6">18</text><text transform="translate(160.3,400.8) rotate(-90)" class="tl" font-size="3.6">18</text><text transform="translate(167.3,395.8) rotate(-90)" class="tl" font-size="3.6">18</text><text transform="translate(167.3,400.8) rotate(-90)" class="tl" font-size="3.6">18</text><text transform="translate(173.7,395.8) rotate(-90)" class="tl" font-size="3.6">18</text><text transform="translate(173.7,400.8) rotate(-90)" class="tl" font-size="3.6">18</text><text transform="translate(180.4,395.8) rotate(-90)" class="tl" font-size="3.6">18</text><text transform="translate(180.4,400.8) rotate(-90)" class="tl" font-size="3.6">18</text><text transform="translate(187.1,395.8) rotate(-90)" class="tl" font-size="3.6">18</text><text transform="translate(187.1,400.8) rotate(-90)" class="tl" font-size="3.6">18</text><text transform="translate(187.1,405.8) rotate(-90)" class="tl" font-size="3.6">18</text><text transform="translate(192.3,395.8) rotate(-90)" class="tl" font-size="3.6">18</text><text transform="translate(192.3,400.8) rotate(-90)" class="tl" font-size="3.6">18</text><text transform="translate(192.3,405.8) rotate(-90)" class="tl" font-size="3.6">18</text></g>
<text x="110" y="409.6" text-anchor="middle" font-size="3.4">datetime</text>
<text x="111.2" y="280.3" text-anchor="middle" class="ttl" font-size="4.0">LINK_2021-7-1 21:10</text>
<rect x="154.4" y="284.1" width="43.68" height="10.6" fill="#fff" fill-opacity="0.85" stroke="#ececec" stroke-width="0.4" rx="0.6"/>
<line x1="155.9" x2="162.9" y1="287" y2="287" stroke="#4a4f9e" stroke-width="0.6" stroke-dasharray="1.4 0.7"/>
<line x1="155.9" x2="162.9" y1="291.8" y2="291.8" stroke="#e4dbab" stroke-width="0.65" stroke-dasharray="1.4 0.7"/>
<text x="165.2" y="288.2" font-size="3.45">2021-7-1 21:10</text>
<text x="165.2" y="293" font-size="3.45">anomalous volumes</text>
<rect x="236" y="282.5" width="10" height="106.4" fill="#fff7fa"/>
<rect x="223.3" y="312" width="165.6" height="7" fill="#e0fbf3"/>

<line x1="225.3" x2="389.9" y1="306.5" y2="306.5" stroke="#e4dbab" stroke-width="1.2" stroke-dasharray="2.4 0.4"/>
<line x1="225.3" x2="389.9" y1="321.8" y2="321.8" stroke="#e4dbab" stroke-width="1.2" stroke-dasharray="2.4 0.4"/>
<path d="M225.3 314.08 L225.81 314.54 L226.32 314.8 L226.83 314.08 L227.34 314.02 L227.85 314.47 L228.36 314.12 L228.87 314.38 L229.38 314.66 L229.89 315.76 L230.4 314.48 L230.91 313.28 L231.42 312.88 L231.93 314.04 L232.44 313.77 L232.95 314.05 L233.46 313.69 L233.97 313.69 L234.47 313.39 L234.98 313.88 L235.49 313.62 L236 313.82 L236.51 314.38 L237.02 314.12 L237.53 313.65 L238.04 314.26 L238.55 314.45 L239.06 314.11 L239.57 314.1 L240.08 314.06 L240.59 313.74 L241.1 314.46 L241.61 314.26 L242.12 314.06 L242.63 314.08 L243.14 314.04 L243.65 314.62 L244.16 313.99 L244.67 313.49 L245.18 314.14 L245.69 314.4 L246.2 314.32 L246.71 313.95 L247.22 313.51 L247.73 314.82 L248.24 313.74 L248.75 312.32 L249.26 314.03 L249.77 313.85 L250.28 313.93 L250.79 313.68 L251.3 313.75 L251.81 313.89 L252.32 314.03 L252.82 314.93 L253.33 313.72 L253.84 314.46 L254.35 314.09 L254.86 313.92 L255.37 313.56 L255.88 314.04 L256.39 313.69 L256.9 314.16 L257.41 314.18 L257.92 313.63 L258.43 314.46 L258.94 314 L259.45 314.08 L259.96 314.17 L260.47 313.94 L260.98 314.44 L261.49 314.65 L262 314.15 L262.51 314.42 L263.02 314.77 L263.53 314.35 L264.04 314.03 L264.55 314.53 L265.06 314.16 L265.57 314.05 L266.08 313.6 L266.59 314.16 L267.1 313.81 L267.61 314.2 L268.12 313.36 L268.63 313.68 L269.14 314.62 L269.65 314.72 L270.16 314.23 L270.66 314.19 L271.17 313.27 L271.68 314.25 L272.19 313.84 L272.7 313.3 L273.21 313.71 L273.72 313.69 L274.23 314.3 L274.74 314.13 L275.25 314.92 L275.76 314.6 L276.27 312.72 L276.78 314.27 L277.29 313.64 L277.8 314.39 L278.31 313.97 L278.82 314.15 L279.33 314.21 L279.84 314.11 L280.35 313.95 L280.86 314.36 L281.37 314.37 L281.88 313.23 L282.39 313.88 L282.9 314.03 L283.41 313.89 L283.92 314.16 L284.43 314.4 L284.94 314.15 L285.45 314.04 L285.96 314.47 L286.47 314.24 L286.98 314.22 L287.49 314.85 L288 314.51 L288.51 313.77 L289.01 314.6 L289.52 313.87 L290.03 314.2 L290.54 313.46 L291.05 314.48 L291.56 313.5 L292.07 314.27 L292.58 312.87 L293.09 314.32 L293.6 314.11 L294.11 313.74 L294.62 313.98 L295.13 314.4 L295.64 313.25 L296.15 313.69 L296.66 314.51 L297.17 313.9 L297.68 314.46 L298.19 314.29 L298.7 313.74 L299.21 314 L299.72 314.56 L300.23 313.94 L300.74 314.05 L301.25 314.25 L301.76 313.86 L302.27 313.96 L302.78 314.24 L303.29 313.99 L303.8 314.06 L304.31 314.3 L304.82 314.72 L305.33 314.06 L305.84 313.87 L306.35 312.81 L306.85 314.44 L307.36 313.42 L307.87 313.93 L308.38 313.51 L308.89 314.38 L309.4 313.69 L309.91 313.93 L310.42 314.71 L310.93 313.88 L311.44 314.11 L311.95 314.24 L312.46 314.48 L312.97 314.49 L313.48 314.65 L313.99 313.88 L314.5 314.27 L315.01 313.49 L315.52 314.11 L316.03 314.03 L316.54 314.74 L317.05 314.21 L317.56 313.97 L318.07 313.96 L318.58 313.77 L319.09 313.91 L319.6 313.84 L320.11 314.08 L320.62 313.88 L321.13 314.09 L321.64 314.46 L322.15 313.67 L322.66 313.81 L323.17 313.62 L323.68 314.82 L324.19 314.69 L324.69 314.27 L325.2 314.1 L325.71 313.74 L326.22 314.45 L326.73 314.12 L327.24 314.24 L327.75 314.12 L328.26 313.23 L328.77 313.49 L329.28 313.9 L329.79 314.28 L330.3 313.73 L330.81 314.15 L331.32 313.96 L331.83 313.69 L332.34 314.32 L332.85 313.68 L333.36 313.63 L333.87 314.69 L334.38 314.62 L334.89 314.18 L335.4 314.51 L335.91 313.86 L336.42 314.01 L336.93 314.24 L337.44 314.25 L337.95 314.32 L338.46 313.64 L338.97 314.46 L339.48 313.72 L339.99 314.09 L340.5 314.98 L341.01 314.48 L341.52 313.94 L342.03 314.24 L342.54 316.01 L343.04 313.88 L343.55 313.83 L344.06 314 L344.57 314.13 L345.08 314.36 L345.59 314.91 L346.1 314.3 L346.61 314.23 L347.12 313.72 L347.63 314.6 L348.14 314.18 L348.65 314.7 L349.16 314.17 L349.67 314.75 L350.18 313.94 L350.69 314.01 L351.2 314.07 L351.71 314.04 L352.22 314.25 L352.73 314.2 L353.24 313.41 L353.75 313.7 L354.26 313.81 L354.77 314.3 L355.28 313.97 L355.79 314.34 L356.3 314.32 L356.81 314.17 L357.32 313.38 L357.83 314.8 L358.34 314.29 L358.85 313.94 L359.36 314.26 L359.87 313.98 L360.38 314.18 L360.88 313.86 L361.39 314.92 L361.9 314.07 L362.41 314.33 L362.92 313.94 L363.43 314.48 L363.94 314.7 L364.45 314.28 L364.96 313.92 L365.47 314.3 L365.98 314.15 L366.49 314.51 L367 314.31 L367.51 314.33 L368.02 314.14 L368.53 314.12 L369.04 312.67 L369.55 314.65 L370.06 314.18 L370.57 314.39 L371.08 314.01 L371.59 314.05 L372.1 313.74 L372.61 314.08 L373.12 313.91 L373.63 313.34 L374.14 313.79 L374.65 313.57 L375.16 314 L375.67 313.95 L376.18 314.54 L376.69 314.13 L377.2 313.88 L377.71 313.93 L378.22 313.94 L378.73 313.92 L379.23 314.25 L379.74 313.89 L380.25 314.18 L380.76 314.44 L381.27 313.91 L381.78 314.09 L382.29 314.69 L382.8 314.28 L383.31 313.98 L383.82 314.31 L384.33 314.01 L384.84 313.81 L385.35 314.4 L385.86 313.77 L386.37 313.85 L386.88 314.03 L387.39 314.38 L387.9 314.31" fill="none" stroke="#2f7f3c" stroke-width="1.1" stroke-linejoin="round"/>
<path d="M259.2 314.1V316.9M291.7 314.1V310.5M284.9 314.1V317.3M275 314.1V311.9M352.6 314.1V310.9M361.1 314.1V316.5" stroke="#356b3d" stroke-width="0.75" fill="none"/>
<g fill="#2b6a34" stroke="#1d4424" stroke-width="0.25"><circle cx="225.3" cy="314.08" r="0.9"/><circle cx="225.81" cy="314.54" r="0.9"/><circle cx="226.32" cy="314.8" r="0.9"/><circle cx="226.83" cy="314.08" r="0.9"/><circle cx="227.34" cy="314.02" r="0.9"/><circle cx="227.85" cy="314.47" r="0.9"/><circle cx="228.36" cy="314.12" r="0.9"/><circle cx="228.87" cy="314.38" r="0.9"/><circle cx="229.38" cy="314.66" r="0.9"/><circle cx="229.89" cy="315.76" r="0.9"/><circle cx="230.4" cy="314.48" r="0.9"/><circle cx="230.91" cy="313.28" r="0.9"/><circle cx="231.42" cy="312.88" r="0.9"/><circle cx="231.93" cy="314.04" r="0.9"/><circle cx="232.44" cy="313.77" r="0.9"/><circle cx="232.95" cy="314.05" r="0.9"/><circle cx="233.46" cy="313.69" r="0.9"/><circle cx="233.97" cy="313.69" r="0.9"/><circle cx="234.47" cy="313.39" r="0.9"/><circle cx="234.98" cy="313.88" r="0.9"/><circle cx="235.49" cy="313.62" r="0.9"/><circle cx="236" cy="313.82" r="0.9"/><circle cx="236.51" cy="314.38" r="0.9"/><circle cx="237.02" cy="314.12" r="0.9"/><circle cx="237.53" cy="313.65" r="0.9"/><circle cx="238.04" cy="314.26" r="0.9"/><circle cx="238.55" cy="314.45" r="0.9"/><circle cx="239.06" cy="314.11" r="0.9"/><circle cx="239.57" cy="314.1" r="0.9"/><circle cx="240.08" cy="314.06" r="0.9"/><circle cx="240.59" cy="313.74" r="0.9"/><circle cx="241.1" cy="314.46" r="0.9"/><circle cx="241.61" cy="314.26" r="0.9"/><circle cx="242.12" cy="314.06" r="0.9"/><circle cx="242.63" cy="314.08" r="0.9"/><circle cx="243.14" cy="314.04" r="0.9"/><circle cx="243.65" cy="314.62" r="0.9"/><circle cx="244.16" cy="313.99" r="0.9"/><circle cx="244.67" cy="313.49" r="0.9"/><circle cx="245.18" cy="314.14" r="0.9"/><circle cx="245.69" cy="314.4" r="0.9"/><circle cx="246.2" cy="314.32" r="0.9"/><circle cx="246.71" cy="313.95" r="0.9"/><circle cx="247.22" cy="313.51" r="0.9"/><circle cx="247.73" cy="314.82" r="0.9"/><circle cx="248.24" cy="313.74" r="0.9"/><circle cx="248.75" cy="312.32" r="0.9"/><circle cx="249.26" cy="314.03" r="0.9"/><circle cx="249.77" cy="313.85" r="0.9"/><circle cx="250.28" cy="313.93" r="0.9"/><circle cx="250.79" cy="313.68" r="0.9"/><circle cx="251.3" cy="313.75" r="0.9"/><circle cx="251.81" cy="313.89" r="0.9"/><circle cx="252.32" cy="314.03" r="0.9"/><circle cx="252.82" cy="314.93" r="0.9"/><circle cx="253.33" cy="313.72" r="0.9"/><circle cx="253.84" cy="314.46" r="0.9"/><circle cx="254.35" cy="314.09" r="0.9"/><circle cx="254.86" cy="313.92" r="0.9"/><circle cx="255.37" cy="313.56" r="0.9"/><circle cx="255.88" cy="314.04" r="0.9"/><circle cx="256.39" cy="313.69" r="0.9"/><circle cx="256.9" cy="314.16" r="0.9"/><circle cx="257.41" cy="314.18" r="0.9"/><circle cx="257.92" cy="313.63" r="0.9"/><circle cx="258.43" cy="314.46" r="0.9"/><circle cx="258.94" cy="314" r="0.9"/><circle cx="259.45" cy="314.08" r="0.9"/><circle cx="259.96" cy="314.17" r="0.9"/><circle cx="260.47" cy="313.94" r="0.9"/><circle cx="260.98" cy="314.44" r="0.9"/><circle cx="261.49" cy="314.65" r="0.9"/><circle cx="262" cy="314.15" r="0.9"/><circle cx="262.51" cy="314.42" r="0.9"/><circle cx="263.02" cy="314.77" r="0.9"/><circle cx="263.53" cy="314.35" r="0.9"/><circle cx="264.04" cy="314.03" r="0.9"/><circle cx="264.55" cy="314.53" r="0.9"/><circle cx="265.06" cy="314.16" r="0.9"/><circle cx="265.57" cy="314.05" r="0.9"/><circle cx="266.08" cy="313.6" r="0.9"/><circle cx="266.59" cy="314.16" r="0.9"/><circle cx="267.1" cy="313.81" r="0.9"/><circle cx="267.61" cy="314.2" r="0.9"/><circle cx="268.12" cy="313.36" r="0.9"/><circle cx="268.63" cy="313.68" r="0.9"/><circle cx="269.14" cy="314.62" r="0.9"/><circle cx="269.65" cy="314.72" r="0.9"/><circle cx="270.16" cy="314.23" r="0.9"/><circle cx="270.66" cy="314.19" r="0.9"/><circle cx="271.17" cy="313.27" r="0.9"/><circle cx="271.68" cy="314.25" r="0.9"/><circle cx="272.19" cy="313.84" r="0.9"/><circle cx="272.7" cy="313.3" r="0.9"/><circle cx="273.21" cy="313.71" r="0.9"/><circle cx="273.72" cy="313.69" r="0.9"/><circle cx="274.23" cy="314.3" r="0.9"/><circle cx="274.74" cy="314.13" r="0.9"/><circle cx="275.25" cy="314.92" r="0.9"/><circle cx="275.76" cy="314.6" r="0.9"/><circle cx="276.27" cy="312.72" r="0.9"/><circle cx="276.78" cy="314.27" r="0.9"/><circle cx="277.29" cy="313.64" r="0.9"/><circle cx="277.8" cy="314.39" r="0.9"/><circle cx="278.31" cy="313.97" r="0.9"/><circle cx="278.82" cy="314.15" r="0.9"/><circle cx="279.33" cy="314.21" r="0.9"/><circle cx="279.84" cy="314.11" r="0.9"/><circle cx="280.35" cy="313.95" r="0.9"/><circle cx="280.86" cy="314.36" r="0.9"/><circle cx="281.37" cy="314.37" r="0.9"/><circle cx="281.88" cy="313.23" r="0.9"/><circle cx="282.39" cy="313.88" r="0.9"/><circle cx="282.9" cy="314.03" r="0.9"/><circle cx="283.41" cy="313.89" r="0.9"/><circle cx="283.92" cy="314.16" r="0.9"/><circle cx="284.43" cy="314.4" r="0.9"/><circle cx="284.94" cy="314.15" r="0.9"/><circle cx="285.45" cy="314.04" r="0.9"/><circle cx="285.96" cy="314.47" r="0.9"/><circle cx="286.47" cy="314.24" r="0.9"/><circle cx="286.98" cy="314.22" r="0.9"/><circle cx="287.49" cy="314.85" r="0.9"/><circle cx="288" cy="314.51" r="0.9"/><circle cx="288.51" cy="313.77" r="0.9"/><circle cx="289.01" cy="314.6" r="0.9"/><circle cx="289.52" cy="313.87" r="0.9"/><circle cx="290.03" cy="314.2" r="0.9"/><circle cx="290.54" cy="313.46" r="0.9"/><circle cx="291.05" cy="314.48" r="0.9"/><circle cx="291.56" cy="313.5" r="0.9"/><circle cx="292.07" cy="314.27" r="0.9"/><circle cx="292.58" cy="312.87" r="0.9"/><circle cx="293.09" cy="314.32" r="0.9"/><circle cx="293.6" cy="314.11" r="0.9"/><circle cx="294.11" cy="313.74" r="0.9"/><circle cx="294.62" cy="313.98" r="0.9"/><circle cx="295.13" cy="314.4" r="0.9"/><circle cx="295.64" cy="313.25" r="0.9"/><circle cx="296.15" cy="313.69" r="0.9"/><circle cx="296.66" cy="314.51" r="0.9"/><circle cx="297.17" cy="313.9" r="0.9"/><circle cx="297.68" cy="314.46" r="0.9"/><circle cx="298.19" cy="314.29" r="0.9"/><circle cx="298.7" cy="313.74" r="0.9"/><circle cx="299.21" cy="314" r="0.9"/><circle cx="299.72" cy="314.56" r="0.9"/><circle cx="300.23" cy="313.94" r="0.9"/><circle cx="300.74" cy="314.05" r="0.9"/><circle cx="301.25" cy="314.25" r="0.9"/><circle cx="301.76" cy="313.86" r="0.9"/><circle cx="302.27" cy="313.96" r="0.9"/><circle cx="302.78" cy="314.24" r="0.9"/><circle cx="303.29" cy="313.99" r="0.9"/><circle cx="303.8" cy="314.06" r="0.9"/><circle cx="304.31" cy="314.3" r="0.9"/><circle cx="304.82" cy="314.72" r="0.9"/><circle cx="305.33" cy="314.06" r="0.9"/><circle cx="305.84" cy="313.87" r="0.9"/><circle cx="306.35" cy="312.81" r="0.9"/><circle cx="306.85" cy="314.44" r="0.9"/><circle cx="307.36" cy="313.42" r="0.9"/><circle cx="307.87" cy="313.93" r="0.9"/><circle cx="308.38" cy="313.51" r="0.9"/><circle cx="308.89" cy="314.38" r="0.9"/><circle cx="309.4" cy="313.69" r="0.9"/><circle cx="309.91" cy="313.93" r="0.9"/><circle cx="310.42" cy="314.71" r="0.9"/><circle cx="310.93" cy="313.88" r="0.9"/><circle cx="311.44" cy="314.11" r="0.9"/><circle cx="311.95" cy="314.24" r="0.9"/><circle cx="312.46" cy="314.48" r="0.9"/><circle cx="312.97" cy="314.49" r="0.9"/><circle cx="313.48" cy="314.65" r="0.9"/><circle cx="313.99" cy="313.88" r="0.9"/><circle cx="314.5" cy="314.27" r="0.9"/><circle cx="315.01" cy="313.49" r="0.9"/><circle cx="315.52" cy="314.11" r="0.9"/><circle cx="316.03" cy="314.03" r="0.9"/><circle cx="316.54" cy="314.74" r="0.9"/><circle cx="317.05" cy="314.21" r="0.9"/><circle cx="317.56" cy="313.97" r="0.9"/><circle cx="318.07" cy="313.96" r="0.9"/><circle cx="318.58" cy="313.77" r="0.9"/><circle cx="319.09" cy="313.91" r="0.9"/><circle cx="319.6" cy="313.84" r="0.9"/><circle cx="320.11" cy="314.08" r="0.9"/><circle cx="320.62" cy="313.88" r="0.9"/><circle cx="321.13" cy="314.09" r="0.9"/><circle cx="321.64" cy="314.46" r="0.9"/><circle cx="322.15" cy="313.67" r="0.9"/><circle cx="322.66" cy="313.81" r="0.9"/><circle cx="323.17" cy="313.62" r="0.9"/><circle cx="323.68" cy="314.82" r="0.9"/><circle cx="324.19" cy="314.69" r="0.9"/><circle cx="324.69" cy="314.27" r="0.9"/><circle cx="325.2" cy="314.1" r="0.9"/><circle cx="325.71" cy="313.74" r="0.9"/><circle cx="326.22" cy="314.45" r="0.9"/><circle cx="326.73" cy="314.12" r="0.9"/><circle cx="327.24" cy="314.24" r="0.9"/><circle cx="327.75" cy="314.12" r="0.9"/><circle cx="328.26" cy="313.23" r="0.9"/><circle cx="328.77" cy="313.49" r="0.9"/><circle cx="329.28" cy="313.9" r="0.9"/><circle cx="329.79" cy="314.28" r="0.9"/><circle cx="330.3" cy="313.73" r="0.9"/><circle cx="330.81" cy="314.15" r="0.9"/><circle cx="331.32" cy="313.96" r="0.9"/><circle cx="331.83" cy="313.69" r="0.9"/><circle cx="332.34" cy="314.32" r="0.9"/><circle cx="332.85" cy="313.68" r="0.9"/><circle cx="333.36" cy="313.63" r="0.9"/><circle cx="333.87" cy="314.69" r="0.9"/><circle cx="334.38" cy="314.62" r="0.9"/><circle cx="334.89" cy="314.18" r="0.9"/><circle cx="335.4" cy="314.51" r="0.9"/><circle cx="335.91" cy="313.86" r="0.9"/><circle cx="336.42" cy="314.01" r="0.9"/><circle cx="336.93" cy="314.24" r="0.9"/><circle cx="337.44" cy="314.25" r="0.9"/><circle cx="337.95" cy="314.32" r="0.9"/><circle cx="338.46" cy="313.64" r="0.9"/><circle cx="338.97" cy="314.46" r="0.9"/><circle cx="339.48" cy="313.72" r="0.9"/><circle cx="339.99" cy="314.09" r="0.9"/><circle cx="340.5" cy="314.98" r="0.9"/><circle cx="341.01" cy="314.48" r="0.9"/><circle cx="341.52" cy="313.94" r="0.9"/><circle cx="342.03" cy="314.24" r="0.9"/><circle cx="342.54" cy="316.01" r="0.9"/><circle cx="343.04" cy="313.88" r="0.9"/><circle cx="343.55" cy="313.83" r="0.9"/><circle cx="344.06" cy="314" r="0.9"/><circle cx="344.57" cy="314.13" r="0.9"/><circle cx="345.08" cy="314.36" r="0.9"/><circle cx="345.59" cy="314.91" r="0.9"/><circle cx="346.1" cy="314.3" r="0.9"/><circle cx="346.61" cy="314.23" r="0.9"/><circle cx="347.12" cy="313.72" r="0.9"/><circle cx="347.63" cy="314.6" r="0.9"/><circle cx="348.14" cy="314.18" r="0.9"/><circle cx="348.65" cy="314.7" r="0.9"/><circle cx="349.16" cy="314.17" r="0.9"/><circle cx="349.67" cy="314.75" r="0.9"/><circle cx="350.18" cy="313.94" r="0.9"/><circle cx="350.69" cy="314.01" r="0.9"/><circle cx="351.2" cy="314.07" r="0.9"/><circle cx="351.71" cy="314.04" r="0.9"/><circle cx="352.22" cy="314.25" r="0.9"/><circle cx="352.73" cy="314.2" r="0.9"/><circle cx="353.24" cy="313.41" r="0.9"/><circle cx="353.75" cy="313.7" r="0.9"/><circle cx="354.26" cy="313.81" r="0.9"/><circle cx="354.77" cy="314.3" r="0.9"/><circle cx="355.28" cy="313.97" r="0.9"/><circle cx="355.79" cy="314.34" r="0.9"/><circle cx="356.3" cy="314.32" r="0.9"/><circle cx="356.81" cy="314.17" r="0.9"/><circle cx="357.32" cy="313.38" r="0.9"/><circle cx="357.83" cy="314.8" r="0.9"/><circle cx="358.34" cy="314.29" r="0.9"/><circle cx="358.85" cy="313.94" r="0.9"/><circle cx="359.36" cy="314.26" r="0.9"/><circle cx="359.87" cy="313.98" r="0.9"/><circle cx="360.38" cy="314.18" r="0.9"/><circle cx="360.88" cy="313.86" r="0.9"/><circle cx="361.39" cy="314.92" r="0.9"/><circle cx="361.9" cy="314.07" r="0.9"/><circle cx="362.41" cy="314.33" r="0.9"/><circle cx="362.92" cy="313.94" r="0.9"/><circle cx="363.43" cy="314.48" r="0.9"/><circle cx="363.94" cy="314.7" r="0.9"/><circle cx="364.45" cy="314.28" r="0.9"/><circle cx="364.96" cy="313.92" r="0.9"/><circle cx="365.47" cy="314.3" r="0.9"/><circle cx="365.98" cy="314.15" r="0.9"/><circle cx="366.49" cy="314.51" r="0.9"/><circle cx="367" cy="314.31" r="0.9"/><circle cx="367.51" cy="314.33" r="0.9"/><circle cx="368.02" cy="314.14" r="0.9"/><circle cx="368.53" cy="314.12" r="0.9"/><circle cx="369.04" cy="312.67" r="0.9"/><circle cx="369.55" cy="314.65" r="0.9"/><circle cx="370.06" cy="314.18" r="0.9"/><circle cx="370.57" cy="314.39" r="0.9"/><circle cx="371.08" cy="314.01" r="0.9"/><circle cx="371.59" cy="314.05" r="0.9"/><circle cx="372.1" cy="313.74" r="0.9"/><circle cx="372.61" cy="314.08" r="0.9"/><circle cx="373.12" cy="313.91" r="0.9"/><circle cx="373.63" cy="313.34" r="0.9"/><circle cx="374.14" cy="313.79" r="0.9"/><circle cx="374.65" cy="313.57" r="0.9"/><circle cx="375.16" cy="314" r="0.9"/><circle cx="375.67" cy="313.95" r="0.9"/><circle cx="376.18" cy="314.54" r="0.9"/><circle cx="376.69" cy="314.13" r="0.9"/><circle cx="377.2" cy="313.88" r="0.9"/><circle cx="377.71" cy="313.93" r="0.9"/><circle cx="378.22" cy="313.94" r="0.9"/><circle cx="378.73" cy="313.92" r="0.9"/><circle cx="379.23" cy="314.25" r="0.9"/><circle cx="379.74" cy="313.89" r="0.9"/><circle cx="380.25" cy="314.18" r="0.9"/><circle cx="380.76" cy="314.44" r="0.9"/><circle cx="381.27" cy="313.91" r="0.9"/><circle cx="381.78" cy="314.09" r="0.9"/><circle cx="382.29" cy="314.69" r="0.9"/><circle cx="382.8" cy="314.28" r="0.9"/><circle cx="383.31" cy="313.98" r="0.9"/><circle cx="383.82" cy="314.31" r="0.9"/><circle cx="384.33" cy="314.01" r="0.9"/><circle cx="384.84" cy="313.81" r="0.9"/><circle cx="385.35" cy="314.4" r="0.9"/><circle cx="385.86" cy="313.77" r="0.9"/><circle cx="386.37" cy="313.85" r="0.9"/><circle cx="386.88" cy="314.03" r="0.9"/><circle cx="387.39" cy="314.38" r="0.9"/><circle cx="387.9" cy="314.31" r="0.9"/><circle cx="259.2" cy="316.9" r="0.9"/><circle cx="291.7" cy="310.5" r="0.9"/><circle cx="284.9" cy="317.3" r="0.9"/><circle cx="275" cy="311.9" r="0.9"/><circle cx="352.6" cy="310.9" r="0.9"/><circle cx="361.1" cy="316.5" r="0.9"/></g>
<path d="M241.1 314.1V297.7M241.1 314.1V332.2" stroke="#c98f74" stroke-width="1.4" fill="none"/>
<path d="M387.9 314.1V287.2M387.9 314.1V384.3" stroke="#7c3c48" stroke-width="1.0" fill="none"/>
<circle cx="241.1" cy="297.7" r="1.05" fill="#5a2c20"/><circle cx="241.1" cy="332.2" r="1.05" fill="#5a2c20"/><circle cx="387.9" cy="287.2" r="1.05" fill="#5a2c20"/><circle cx="387.9" cy="384.3" r="1.05" fill="#5a2c20"/>
<line x1="372.7" x2="372.7" y1="288.4" y2="383.6" stroke="#4a4f9e" stroke-width="0.85" stroke-dasharray="1.6 0.6"/>
<line x1="387.9" x2="387.9" y1="288.4" y2="383.6" stroke="#4a4f9e" stroke-width="0.85" stroke-dasharray="1.6 0.6"/>
<rect x="218.6" y="282.5" width="178.5" height="106.4" fill="none" stroke="#777777" stroke-width="1.1"/>
<line x1="217.3" x2="218.6" y1="291.1" y2="291.1" stroke="#3a3a3a" stroke-width="0.45"/>
<text x="216.7" y="292.8" text-anchor="end" font-size="3.6">2</text>
<line x1="217.3" x2="218.6" y1="314.1" y2="314.1" stroke="#3a3a3a" stroke-width="0.45"/>
<text x="216.7" y="315.8" text-anchor="end" font-size="3.6">0</text>
<line x1="217.3" x2="218.6" y1="337.1" y2="337.1" stroke="#3a3a3a" stroke-width="0.45"/>
<text x="216.7" y="338.8" text-anchor="end" font-size="3.6">−2</text>
<line x1="217.3" x2="218.6" y1="360.1" y2="360.1" stroke="#3a3a3a" stroke-width="0.45"/>
<text x="216.7" y="361.8" text-anchor="end" font-size="3.6">−4</text>
<line x1="217.3" x2="218.6" y1="383.1" y2="383.1" stroke="#3a3a3a" stroke-width="0.45"/>
<text x="216.7" y="384.8" text-anchor="end" font-size="3.6">−6</text>
<text transform="translate(210,335.7) rotate(-90)" text-anchor="middle" font-size="3.4">BG_volume</text>
<path d="M226.2 388.9v1.3M232.9 388.9v1.3M244 388.9v1.3M253.3 388.9v1.3M264.4 388.9v1.3M272.3 388.9v1.3M277.5 388.9v1.3M282.5 388.9v1.3M291.4 388.9v1.3M300 388.9v1.3M305.1 388.9v1.3M311.5 388.9v1.3M313.7 388.9v1.3M315.5 388.9v1.3M318.2 388.9v1.3M325.6 388.9v1.3M327.9 388.9v1.3M334.5 388.9v1.3M340.2 388.9v1.3M344.7 388.9v1.3M348.4 388.9v1.3M354.8 388.9v1.3M361.8 388.9v1.3M368.5 388.9v1.3M373.3 388.9v1.3M387.9 388.9v1.3" stroke="#3a3a3a" stroke-width="0.45"/>
<g><text transform="translate(227.9,395.8) rotate(-90)" class="tl" font-size="3.6">18</text><text transform="translate(227.9,400.8) rotate(-90)" class="tl" font-size="3.6">18</text><text transform="translate(234.6,395.8) rotate(-90)" class="tl" font-size="3.6">18</text><text transform="translate(234.6,400.8) rotate(-90)" class="tl" font-size="3.6">18</text><text transform="translate(245.7,395.8) rotate(-90)" class="tl" font-size="3.6">18</text><text transform="translate(245.7,400.8) rotate(-90)" class="tl" font-size="3.6">18</text><text transform="translate(255,395.8) rotate(-90)" class="tl" font-size="3.6">18</text><text transform="translate(255,400.8) rotate(-90)" class="tl" font-size="3.6">18</text><text transform="translate(266.1,395.8) rotate(-90)" class="tl" font-size="3.6">18</text><text transform="translate(266.1,400.8) rotate(-90)" class="tl" font-size="3.6">18</text><text transform="translate(274,395.8) rotate(-90)" class="tl" font-size="3.6">18</text><text transform="translate(274,400.8) rotate(-90)" class="tl" font-size="3.6">18</text><text transform="translate(279.2,395.8) rotate(-90)" class="tl" font-size="3.6">18</text><text transform="translate(279.2,400.8) rotate(-90)" class="tl" font-size="3.6">18</text><text transform="translate(284.2,395.8) rotate(-90)" class="tl" font-size="3.6">18</text><text transform="translate(284.2,400.8) rotate(-90)" class="tl" font-size="3.6">18</text><text transform="translate(293.1,395.8) rotate(-90)" class="tl" font-size="3.6">18</text><text transform="translate(293.1,400.8) rotate(-90)" class="tl" font-size="3.6">18</text><text transform="translate(301.7,395.8) rotate(-90)" class="tl" font-size="3.6">18</text><text transform="translate(301.7,400.8) rotate(-90)" class="tl" font-size="3.6">18</text><text transform="translate(306.8,395.8) rotate(-90)" class="tl" font-size="3.6">18</text><text transform="translate(306.8,400.8) rotate(-90)" class="tl" font-size="3.6">18</text><text transform="translate(313.2,395.8) rotate(-90)" class="tl" font-size="3.6">18</text><text transform="translate(313.2,400.8) rotate(-90)" class="tl" font-size="3.6">18</text><text transform="translate(315.4,395.8) rotate(-90)" class="tl" font-size="3.6">18</text><text transform="translate(315.4,400.8) rotate(-90)" class="tl" font-size="3.6">18</text><text transform="translate(317.2,395.8) rotate(-90)" class="tl" font-size="3.6">18</text><text transform="translate(317.2,400.8) rotate(-90)" class="tl" font-size="3.6">18</text><text transform="translate(319.9,395.8) rotate(-90)" class="tl" font-size="3.6">18</text><text transform="translate(319.9,400.8) rotate(-90)" class="tl" font-size="3.6">18</text><text transform="translate(327.3,395.8) rotate(-90)" class="tl" font-size="3.6">18</text><text transform="translate(327.3,400.8) rotate(-90)" class="tl" font-size="3.6">18</text><text transform="translate(329.6,395.8) rotate(-90)" class="tl" font-size="3.6">18</text><text transform="translate(329.6,400.8) rotate(-90)" class="tl" font-size="3.6">18</text><text transform="translate(336.2,395.8) rotate(-90)" class="tl" font-size="3.6">18</text><text transform="translate(336.2,400.8) rotate(-90)" class="tl" font-size="3.6">18</text><text transform="translate(341.9,395.8) rotate(-90)" class="tl" font-size="3.6">18</text><text transform="translate(341.9,400.8) rotate(-90)" class="tl" font-size="3.6">18</text><text transform="translate(346.4,395.8) rotate(-90)" class="tl" font-size="3.6">18</text><text transform="translate(346.4,400.8) rotate(-90)" class="tl" font-size="3.6">18</text><text transform="translate(350.1,395.8) rotate(-90)" class="tl" font-size="3.6">18</text><text transform="translate(350.1,400.8) rotate(-90)" class="tl" font-size="3.6">18</text><text transform="translate(356.5,395.8) rotate(-90)" class="tl" font-size="3.6">18</text><text transform="translate(356.5,400.8) rotate(-90)" class="tl" font-size="3.6">18</text><text transform="translate(363.5,395.8) rotate(-90)" class="tl" font-size="3.6">18</text><text transform="translate(363.5,400.8) rotate(-90)" class="tl" font-size="3.6">18</text><text transform="translate(370.2,395.8) rotate(-90)" class="tl" font-size="3.6">18</text><text transform="translate(370.2,400.8) rotate(-90)" class="tl" font-size="3.6">18</text><text transform="translate(375,395.8) rotate(-90)" class="tl" font-size="3.6">18</text><text transform="translate(375,400.8) rotate(-90)" class="tl" font-size="3.6">18</text><text transform="translate(375,405.8) rotate(-90)" class="tl" font-size="3.6">18</text><text transform="translate(389.6,395.8) rotate(-90)" class="tl" font-size="3.6">18</text><text transform="translate(389.6,400.8) rotate(-90)" class="tl" font-size="3.6">18</text><text transform="translate(389.6,405.8) rotate(-90)" class="tl" font-size="3.6">18</text></g>
<text x="307.5" y="409.6" text-anchor="middle" font-size="3.4">datetime</text>
<text x="307.5" y="280" text-anchor="middle" class="ttl" font-size="4.0">LIT_2021-6-13 16:59</text>
<rect x="219.3" y="283.9" width="43.68" height="10.6" fill="#fff" fill-opacity="0.85" stroke="#ececec" stroke-width="0.4" rx="0.6"/>
<line x1="220.8" x2="227.8" y1="286.8" y2="286.8" stroke="#4a4f9e" stroke-width="0.6" stroke-dasharray="1.4 0.7"/>
<line x1="220.8" x2="227.8" y1="291.6" y2="291.6" stroke="#e4dbab" stroke-width="0.65" stroke-dasharray="1.4 0.7"/>
<text x="230.1" y="288" font-size="3.45">2021-6-13 16:59</text>
<text x="230.1" y="292.8" font-size="3.45">anomalous volumes</text>
<rect x="63" y="420.3" width="9" height="106.7" fill="#fff7fa"/>
<rect x="82" y="420.3" width="4" height="106.7" fill="#fff7fa"/>
<rect x="93" y="420.3" width="7" height="106.7" fill="#fff7fa"/>
<rect x="106" y="420.3" width="5" height="106.7" fill="#fff7fa"/>
<rect x="25.8" y="447.5" width="164.7" height="7.5" fill="#e0fbf3"/>

<line x1="27.8" x2="191.5" y1="425" y2="425" stroke="#e4dbab" stroke-width="1.2" stroke-dasharray="2.4 0.4"/>
<line x1="27.8" x2="191.5" y1="477.6" y2="477.6" stroke="#e4dbab" stroke-width="1.2" stroke-dasharray="2.4 0.4"/>
<path d="M27.8 451.4 L28.31 451.15 L28.81 451.22 L29.32 448.96 L29.83 451.43 L30.33 450.31 L30.84 451.51 L31.35 450.87 L31.86 450.92 L32.36 450.52 L32.87 450.27 L33.38 450.79 L33.88 451.32 L34.39 451.13 L34.9 451.38 L35.4 450.9 L35.91 451.09 L36.42 450.93 L36.92 450.51 L37.43 450.95 L37.94 447.37 L38.44 451.35 L38.95 448.22 L39.46 450.98 L39.97 451.23 L40.47 453.38 L40.98 450.94 L41.49 450.93 L41.99 451.07 L42.5 451.45 L43.01 450.58 L43.51 450.5 L44.02 452.12 L44.53 450.93 L45.03 451.04 L45.54 450.07 L46.05 450.79 L46.56 450.93 L47.06 450.73 L47.57 450.8 L48.08 450.91 L48.58 447.9 L49.09 448.92 L49.6 450.43 L50.1 450.42 L50.61 451.23 L51.12 451.07 L51.62 450.61 L52.13 450.37 L52.64 450.63 L53.14 450.99 L53.65 451.26 L54.16 451.43 L54.67 451.31 L55.17 450.54 L55.68 451.77 L56.19 451.29 L56.69 450.93 L57.2 450.91 L57.71 451.4 L58.21 450.8 L58.72 450.84 L59.23 451.03 L59.73 451.62 L60.24 450.35 L60.75 451.43 L61.26 450.06 L61.76 450.58 L62.27 451.05 L62.78 451.42 L63.28 450.4 L63.79 451.41 L64.3 451.51 L64.8 450.78 L65.31 450.85 L65.82 450.9 L66.32 450.13 L66.83 452.07 L67.34 451.21 L67.84 450.4 L68.35 451.24 L68.86 451.2 L69.37 450.91 L69.87 451.05 L70.38 448.77 L70.89 450.78 L71.39 450.57 L71.9 451.77 L72.41 451.17 L72.91 450.81 L73.42 451.72 L73.93 450 L74.43 450.5 L74.94 451.28 L75.45 451.09 L75.96 451.13 L76.46 450.75 L76.97 450.7 L77.48 450.75 L77.98 450.83 L78.49 451.29 L79 451.44 L79.5 451.25 L80.01 451.62 L80.52 450.23 L81.02 450.93 L81.53 450.52 L82.04 451.78 L82.54 450.88 L83.05 451.26 L83.56 451.08 L84.07 450.65 L84.57 450.58 L85.08 451.21 L85.59 451.32 L86.09 450.78 L86.6 451.78 L87.11 451.02 L87.61 451.37 L88.12 451.15 L88.63 451.43 L89.13 450.31 L89.64 451.66 L90.15 451.37 L90.66 451.35 L91.16 451.56 L91.67 451.28 L92.18 450.34 L92.68 450.74 L93.19 450.47 L93.7 450.74 L94.2 451.24 L94.71 451.64 L95.22 450.32 L95.72 450.44 L96.23 450.97 L96.74 451.2 L97.24 451.07 L97.75 450.7 L98.26 451.14 L98.77 451.11 L99.27 450.62 L99.78 451.52 L100.29 448.52 L100.79 454.51 L101.3 450.95 L101.81 451.14 L102.31 451.4 L102.82 450.74 L103.33 450.92 L103.83 451.23 L104.34 451.7 L104.85 450.68 L105.36 451.28 L105.86 451.07 L106.37 450.58 L106.88 451.21 L107.38 450.55 L107.89 450.99 L108.4 451.06 L108.9 451.96 L109.41 453.42 L109.92 451.31 L110.42 451.12 L110.93 450.95 L111.44 450.84 L111.94 451.64 L112.45 450.73 L112.96 451.36 L113.47 450.91 L113.97 451.3 L114.48 451.37 L114.99 450.31 L115.49 450.58 L116 450.96 L116.51 451.04 L117.01 450.38 L117.52 451.19 L118.03 454.98 L118.53 450.97 L119.04 451.07 L119.55 450.46 L120.06 447.97 L120.56 451.82 L121.07 452.12 L121.58 451.08 L122.08 451.84 L122.59 450.76 L123.1 451.19 L123.6 451.05 L124.11 450.32 L124.62 450.72 L125.12 451 L125.63 453.5 L126.14 450.8 L126.64 450.98 L127.15 451.38 L127.66 451.49 L128.17 449.98 L128.67 447.03 L129.18 451 L129.69 449.93 L130.19 451.19 L130.7 451.57 L131.21 450.38 L131.71 449.96 L132.22 454.7 L132.73 451.59 L133.23 452.12 L133.74 451.18 L134.25 451.01 L134.76 450.61 L135.26 451.32 L135.77 450.66 L136.28 451.06 L136.78 451.5 L137.29 451.06 L137.8 450.56 L138.3 451.17 L138.81 451.53 L139.32 451.56 L139.82 450.28 L140.33 451.22 L140.84 451.23 L141.34 450.9 L141.85 450.52 L142.36 450.69 L142.87 450.65 L143.37 451.97 L143.88 451.15 L144.39 450.92 L144.89 451.22 L145.4 451.67 L145.91 451.02 L146.41 451.43 L146.92 451.35 L147.43 450.85 L147.93 451.76 L148.44 451.19 L148.95 451.58 L149.46 451.69 L149.96 450.87 L150.47 450.7 L150.98 454.1 L151.48 452.05 L151.99 451.08 L152.5 450.9 L153 451.76 L153.51 450.75 L154.02 451.91 L154.52 450.76 L155.03 451.21 L155.54 451.1 L156.04 451.22 L156.55 451.48 L157.06 451.4 L157.57 450.52 L158.07 450.59 L158.58 451.01 L159.09 451.39 L159.59 454.11 L160.1 450.78 L160.61 450.21 L161.11 451.28 L161.62 451.13 L162.13 450.58 L162.63 450.89 L163.14 451.69 L163.65 450.77 L164.16 450.71 L164.66 451.34 L165.17 450.21 L165.68 450.86 L166.18 450.93 L166.69 450.68 L167.2 448.14 L167.7 447.67 L168.21 451.08 L168.72 450.92 L169.22 451.32 L169.73 451.37 L170.24 451 L170.74 450.89 L171.25 450.01 L171.76 451.45 L172.27 451.11 L172.77 451.1 L173.28 451.47 L173.79 450.73 L174.29 450.69 L174.8 451.29 L175.31 449.88 L175.81 451.36 L176.32 451.09 L176.83 450.38 L177.33 450.6 L177.84 451.45 L178.35 450.64 L178.86 451.33 L179.36 451.13 L179.87 450.98 L180.38 450.94 L180.88 450.91 L181.39 450.79 L181.9 451.1 L182.4 451.37 L182.91 450.07 L183.42 451.63 L183.92 452 L184.43 450.28 L184.94 451.54 L185.44 451.05 L185.95 451.34 L186.46 450.99 L186.97 450.52 L187.47 451.3 L187.98 451.08 L188.49 453.29 L188.99 450.57 L189.5 450.94" fill="none" stroke="#2f7f3c" stroke-width="1.1" stroke-linejoin="round"/>
<path d="M30.7 451V447.2M40.1 451V445M41.2 451V459M46.8 451V447.9M58 451V456.8M60.2 451V454.6M66.9 451V458M69.6 451V446.3M84.7 451V447.2M91.9 451V446.3M118.8 451V444.8M123.3 451V455.7M128.3 451V447.5M128.3 451V455.7M130.6 451V447.5M143 451V457.2M146.4 451V434M152 451V440.3M156.5 451V428.6M174.1 451V436.9M179.1 451V446.6M179.1 451V458.8M189.7 451V441.4M189.7 451V459.5M188.1 451V448.2" stroke="#356b3d" stroke-width="0.75" fill="none"/>
<g fill="#2b6a34" stroke="#1d4424" stroke-width="0.25"><circle cx="27.8" cy="451.4" r="0.9"/><circle cx="28.31" cy="451.15" r="0.9"/><circle cx="28.81" cy="451.22" r="0.9"/><circle cx="29.32" cy="448.96" r="0.9"/><circle cx="29.83" cy="451.43" r="0.9"/><circle cx="30.33" cy="450.31" r="0.9"/><circle cx="30.84" cy="451.51" r="0.9"/><circle cx="31.35" cy="450.87" r="0.9"/><circle cx="31.86" cy="450.92" r="0.9"/><circle cx="32.36" cy="450.52" r="0.9"/><circle cx="32.87" cy="450.27" r="0.9"/><circle cx="33.38" cy="450.79" r="0.9"/><circle cx="33.88" cy="451.32" r="0.9"/><circle cx="34.39" cy="451.13" r="0.9"/><circle cx="34.9" cy="451.38" r="0.9"/><circle cx="35.4" cy="450.9" r="0.9"/><circle cx="35.91" cy="451.09" r="0.9"/><circle cx="36.42" cy="450.93" r="0.9"/><circle cx="36.92" cy="450.51" r="0.9"/><circle cx="37.43" cy="450.95" r="0.9"/><circle cx="37.94" cy="447.37" r="0.9"/><circle cx="38.44" cy="451.35" r="0.9"/><circle cx="38.95" cy="448.22" r="0.9"/><circle cx="39.46" cy="450.98" r="0.9"/><circle cx="39.97" cy="451.23" r="0.9"/><circle cx="40.47" cy="453.38" r="0.9"/><circle cx="40.98" cy="450.94" r="0.9"/><circle cx="41.49" cy="450.93" r="0.9"/><circle cx="41.99" cy="451.07" r="0.9"/><circle cx="42.5" cy="451.45" r="0.9"/><circle cx="43.01" cy="450.58" r="0.9"/><circle cx="43.51" cy="450.5" r="0.9"/><circle cx="44.02" cy="452.12" r="0.9"/><circle cx="44.53" cy="450.93" r="0.9"/><circle cx="45.03" cy="451.04" r="0.9"/><circle cx="45.54" cy="450.07" r="0.9"/><circle cx="46.05" cy="450.79" r="0.9"/><circle cx="46.56" cy="450.93" r="0.9"/><circle cx="47.06" cy="450.73" r="0.9"/><circle cx="47.57" cy="450.8" r="0.9"/><circle cx="48.08" cy="450.91" r="0.9"/><circle cx="48.58" cy="447.9" r="0.9"/><circle cx="49.09" cy="448.92" r="0.9"/><circle cx="49.6" cy="450.43" r="0.9"/><circle cx="50.1" cy="450.42" r="0.9"/><circle cx="50.61" cy="451.23" r="0.9"/><circle cx="51.12" cy="451.07" r="0.9"/><circle cx="51.62" cy="450.61" r="0.9"/><circle cx="52.13" cy="450.37" r="0.9"/><circle cx="52.64" cy="450.63" r="0.9"/><circle cx="53.14" cy="450.99" r="0.9"/><circle cx="53.65" cy="451.26" r="0.9"/><circle cx="54.16" cy="451.43" r="0.9"/><circle cx="54.67" cy="451.31" r="0.9"/><circle cx="55.17" cy="450.54" r="0.9"/><circle cx="55.68" cy="451.77" r="0.9"/><circle cx="56.19" cy="451.29" r="0.9"/><circle cx="56.69" cy="450.93" r="0.9"/><circle cx="57.2" cy="450.91" r="0.9"/><circle cx="57.71" cy="451.4" r="0.9"/><circle cx="58.21" cy="450.8" r="0.9"/><circle cx="58.72" cy="450.84" r="0.9"/><circle cx="59.23" cy="451.03" r="0.9"/><circle cx="59.73" cy="451.62" r="0.9"/><circle cx="60.24" cy="450.35" r="0.9"/><circle cx="60.75" cy="451.43" r="0.9"/><circle cx="61.26" cy="450.06" r="0.9"/><circle cx="61.76" cy="450.58" r="0.9"/><circle cx="62.27" cy="451.05" r="0.9"/><circle cx="62.78" cy="451.42" r="0.9"/><circle cx="63.28" cy="450.4" r="0.9"/><circle cx="63.79" cy="451.41" r="0.9"/><circle cx="64.3" cy="451.51" r="0.9"/><circle cx="64.8" cy="450.78" r="0.9"/><circle cx="65.31" cy="450.85" r="0.9"/><circle cx="65.82" cy="450.9" r="0.9"/><circle cx="66.32" cy="450.13" r="0.9"/><circle cx="66.83" cy="452.07" r="0.9"/><circle cx="67.34" cy="451.21" r="0.9"/><circle cx="67.84" cy="450.4" r="0.9"/><circle cx="68.35" cy="451.24" r="0.9"/><circle cx="68.86" cy="451.2" r="0.9"/><circle cx="69.37" cy="450.91" r="0.9"/><circle cx="69.87" cy="451.05" r="0.9"/><circle cx="70.38" cy="448.77" r="0.9"/><circle cx="70.89" cy="450.78" r="0.9"/><circle cx="71.39" cy="450.57" r="0.9"/><circle cx="71.9" cy="451.77" r="0.9"/><circle cx="72.41" cy="451.17" r="0.9"/><circle cx="72.91" cy="450.81" r="0.9"/><circle cx="73.42" cy="451.72" r="0.9"/><circle cx="73.93" cy="450" r="0.9"/><circle cx="74.43" cy="450.5" r="0.9"/><circle cx="74.94" cy="451.28" r="0.9"/><circle cx="75.45" cy="451.09" r="0.9"/><circle cx="75.96" cy="451.13" r="0.9"/><circle cx="76.46" cy="450.75" r="0.9"/><circle cx="76.97" cy="450.7" r="0.9"/><circle cx="77.48" cy="450.75" r="0.9"/><circle cx="77.98" cy="450.83" r="0.9"/><circle cx="78.49" cy="451.29" r="0.9"/><circle cx="79" cy="451.44" r="0.9"/><circle cx="79.5" cy="451.25" r="0.9"/><circle cx="80.01" cy="451.62" r="0.9"/><circle cx="80.52" cy="450.23" r="0.9"/><circle cx="81.02" cy="450.93" r="0.9"/><circle cx="81.53" cy="450.52" r="0.9"/><circle cx="82.04" cy="451.78" r="0.9"/><circle cx="82.54" cy="450.88" r="0.9"/><circle cx="83.05" cy="451.26" r="0.9"/><circle cx="83.56" cy="451.08" r="0.9"/><circle cx="84.07" cy="450.65" r="0.9"/><circle cx="84.57" cy="450.58" r="0.9"/><circle cx="85.08" cy="451.21" r="0.9"/><circle cx="85.59" cy="451.32" r="0.9"/><circle cx="86.09" cy="450.78" r="0.9"/><circle cx="86.6" cy="451.78" r="0.9"/><circle cx="87.11" cy="451.02" r="0.9"/><circle cx="87.61" cy="451.37" r="0.9"/><circle cx="88.12" cy="451.15" r="0.9"/><circle cx="88.63" cy="451.43" r="0.9"/><circle cx="89.13" cy="450.31" r="0.9"/><circle cx="89.64" cy="451.66" r="0.9"/><circle cx="90.15" cy="451.37" r="0.9"/><circle cx="90.66" cy="451.35" r="0.9"/><circle cx="91.16" cy="451.56" r="0.9"/><circle cx="91.67" cy="451.28" r="0.9"/><circle cx="92.18" cy="450.34" r="0.9"/><circle cx="92.68" cy="450.74" r="0.9"/><circle cx="93.19" cy="450.47" r="0.9"/><circle cx="93.7" cy="450.74" r="0.9"/><circle cx="94.2" cy="451.24" r="0.9"/><circle cx="94.71" cy="451.64" r="0.9"/><circle cx="95.22" cy="450.32" r="0.9"/><circle cx="95.72" cy="450.44" r="0.9"/><circle cx="96.23" cy="450.97" r="0.9"/><circle cx="96.74" cy="451.2" r="0.9"/><circle cx="97.24" cy="451.07" r="0.9"/><circle cx="97.75" cy="450.7" r="0.9"/><circle cx="98.26" cy="451.14" r="0.9"/><circle cx="98.77" cy="451.11" r="0.9"/><circle cx="99.27" cy="450.62" r="0.9"/><circle cx="99.78" cy="451.52" r="0.9"/><circle cx="100.29" cy="448.52" r="0.9"/><circle cx="100.79" cy="454.51" r="0.9"/><circle cx="101.3" cy="450.95" r="0.9"/><circle cx="101.81" cy="451.14" r="0.9"/><circle cx="102.31" cy="451.4" r="0.9"/><circle cx="102.82" cy="450.74" r="0.9"/><circle cx="103.33" cy="450.92" r="0.9"/><circle cx="103.83" cy="451.23" r="0.9"/><circle cx="104.34" cy="451.7" r="0.9"/><circle cx="104.85" cy="450.68" r="0.9"/><circle cx="105.36" cy="451.28" r="0.9"/><circle cx="105.86" cy="451.07" r="0.9"/><circle cx="106.37" cy="450.58" r="0.9"/><circle cx="106.88" cy="451.21" r="0.9"/><circle cx="107.38" cy="450.55" r="0.9"/><circle cx="107.89" cy="450.99" r="0.9"/><circle cx="108.4" cy="451.06" r="0.9"/><circle cx="108.9" cy="451.96" r="0.9"/><circle cx="109.41" cy="453.42" r="0.9"/><circle cx="109.92" cy="451.31" r="0.9"/><circle cx="110.42" cy="451.12" r="0.9"/><circle cx="110.93" cy="450.95" r="0.9"/><circle cx="111.44" cy="450.84" r="0.9"/><circle cx="111.94" cy="451.64" r="0.9"/><circle cx="112.45" cy="450.73" r="0.9"/><circle cx="112.96" cy="451.36" r="0.9"/><circle cx="113.47" cy="450.91" r="0.9"/><circle cx="113.97" cy="451.3" r="0.9"/><circle cx="114.48" cy="451.37" r="0.9"/><circle cx="114.99" cy="450.31" r="0.9"/><circle cx="115.49" cy="450.58" r="0.9"/><circle cx="116" cy="450.96" r="0.9"/><circle cx="116.51" cy="451.04" r="0.9"/><circle cx="117.01" cy="450.38" r="0.9"/><circle cx="117.52" cy="451.19" r="0.9"/><circle cx="118.03" cy="454.98" r="0.9"/><circle cx="118.53" cy="450.97" r="0.9"/><circle cx="119.04" cy="451.07" r="0.9"/><circle cx="119.55" cy="450.46" r="0.9"/><circle cx="120.06" cy="447.97" r="0.9"/><circle cx="120.56" cy="451.82" r="0.9"/><circle cx="121.07" cy="452.12" r="0.9"/><circle cx="121.58" cy="451.08" r="0.9"/><circle cx="122.08" cy="451.84" r="0.9"/><circle cx="122.59" cy="450.76" r="0.9"/><circle cx="123.1" cy="451.19" r="0.9"/><circle cx="123.6" cy="451.05" r="0.9"/><circle cx="124.11" cy="450.32" r="0.9"/><circle cx="124.62" cy="450.72" r="0.9"/><circle cx="125.12" cy="451" r="0.9"/><circle cx="125.63" cy="453.5" r="0.9"/><circle cx="126.14" cy="450.8" r="0.9"/><circle cx="126.64" cy="450.98" r="0.9"/><circle cx="127.15" cy="451.38" r="0.9"/><circle cx="127.66" cy="451.49" r="0.9"/><circle cx="128.17" cy="449.98" r="0.9"/><circle cx="128.67" cy="447.03" r="0.9"/><circle cx="129.18" cy="451" r="0.9"/><circle cx="129.69" cy="449.93" r="0.9"/><circle cx="130.19" cy="451.19" r="0.9"/><circle cx="130.7" cy="451.57" r="0.9"/><circle cx="131.21" cy="450.38" r="0.9"/><circle cx="131.71" cy="449.96" r="0.9"/><circle cx="132.22" cy="454.7" r="0.9"/><circle cx="132.73" cy="451.59" r="0.9"/><circle cx="133.23" cy="452.12" r="0.9"/><circle cx="133.74" cy="451.18" r="0.9"/><circle cx="134.25" cy="451.01" r="0.9"/><circle cx="134.76" cy="450.61" r="0.9"/><circle cx="135.26" cy="451.32" r="0.9"/><circle cx="135.77" cy="450.66" r="0.9"/><circle cx="136.28" cy="451.06" r="0.9"/><circle cx="136.78" cy="451.5" r="0.9"/><circle cx="137.29" cy="451.06" r="0.9"/><circle cx="137.8" cy="450.56" r="0.9"/><circle cx="138.3" cy="451.17" r="0.9"/><circle cx="138.81" cy="451.53" r="0.9"/><circle cx="139.32" cy="451.56" r="0.9"/><circle cx="139.82" cy="450.28" r="0.9"/><circle cx="140.33" cy="451.22" r="0.9"/><circle cx="140.84" cy="451.23" r="0.9"/><circle cx="141.34" cy="450.9" r="0.9"/><circle cx="141.85" cy="450.52" r="0.9"/><circle cx="142.36" cy="450.69" r="0.9"/><circle cx="142.87" cy="450.65" r="0.9"/><circle cx="143.37" cy="451.97" r="0.9"/><circle cx="143.88" cy="451.15" r="0.9"/><circle cx="144.39" cy="450.92" r="0.9"/><circle cx="144.89" cy="451.22" r="0.9"/><circle cx="145.4" cy="451.67" r="0.9"/><circle cx="145.91" cy="451.02" r="0.9"/><circle cx="146.41" cy="451.43" r="0.9"/><circle cx="146.92" cy="451.35" r="0.9"/><circle cx="147.43" cy="450.85" r="0.9"/><circle cx="147.93" cy="451.76" r="0.9"/><circle cx="148.44" cy="451.19" r="0.9"/><circle cx="148.95" cy="451.58" r="0.9"/><circle cx="149.46" cy="451.69" r="0.9"/><circle cx="149.96" cy="450.87" r="0.9"/><circle cx="150.47" cy="450.7" r="0.9"/><circle cx="150.98" cy="454.1" r="0.9"/><circle cx="151.48" cy="452.05" r="0.9"/><circle cx="151.99" cy="451.08" r="0.9"/><circle cx="152.5" cy="450.9" r="0.9"/><circle cx="153" cy="451.76" r="0.9"/><circle cx="153.51" cy="450.75" r="0.9"/><circle cx="154.02" cy="451.91" r="0.9"/><circle cx="154.52" cy="450.76" r="0.9"/><circle cx="155.03" cy="451.21" r="0.9"/><circle cx="155.54" cy="451.1" r="0.9"/><circle cx="156.04" cy="451.22" r="0.9"/><circle cx="156.55" cy="451.48" r="0.9"/><circle cx="157.06" cy="451.4" r="0.9"/><circle cx="157.57" cy="450.52" r="0.9"/><circle cx="158.07" cy="450.59" r="0.9"/><circle cx="158.58" cy="451.01" r="0.9"/><circle cx="159.09" cy="451.39" r="0.9"/><circle cx="159.59" cy="454.11" r="0.9"/><circle cx="160.1" cy="450.78" r="0.9"/><circle cx="160.61" cy="450.21" r="0.9"/><circle cx="161.11" cy="451.28" r="0.9"/><circle cx="161.62" cy="451.13" r="0.9"/><circle cx="162.13" cy="450.58" r="0.9"/><circle cx="162.63" cy="450.89" r="0.9"/><circle cx="163.14" cy="451.69" r="0.9"/><circle cx="163.65" cy="450.77" r="0.9"/><circle cx="164.16" cy="450.71" r="0.9"/><circle cx="164.66" cy="451.34" r="0.9"/><circle cx="165.17" cy="450.21" r="0.9"/><circle cx="165.68" cy="450.86" r="0.9"/><circle cx="166.18" cy="450.93" r="0.9"/><circle cx="166.69" cy="450.68" r="0.9"/><circle cx="167.2" cy="448.14" r="0.9"/><circle cx="167.7" cy="447.67" r="0.9"/><circle cx="168.21" cy="451.08" r="0.9"/><circle cx="168.72" cy="450.92" r="0.9"/><circle cx="169.22" cy="451.32" r="0.9"/><circle cx="169.73" cy="451.37" r="0.9"/><circle cx="170.24" cy="451" r="0.9"/><circle cx="170.74" cy="450.89" r="0.9"/><circle cx="171.25" cy="450.01" r="0.9"/><circle cx="171.76" cy="451.45" r="0.9"/><circle cx="172.27" cy="451.11" r="0.9"/><circle cx="172.77" cy="451.1" r="0.9"/><circle cx="173.28" cy="451.47" r="0.9"/><circle cx="173.79" cy="450.73" r="0.9"/><circle cx="174.29" cy="450.69" r="0.9"/><circle cx="174.8" cy="451.29" r="0.9"/><circle cx="175.31" cy="449.88" r="0.9"/><circle cx="175.81" cy="451.36" r="0.9"/><circle cx="176.32" cy="451.09" r="0.9"/><circle cx="176.83" cy="450.38" r="0.9"/><circle cx="177.33" cy="450.6" r="0.9"/><circle cx="177.84" cy="451.45" r="0.9"/><circle cx="178.35" cy="450.64" r="0.9"/><circle cx="178.86" cy="451.33" r="0.9"/><circle cx="179.36" cy="451.13" r="0.9"/><circle cx="179.87" cy="450.98" r="0.9"/><circle cx="180.38" cy="450.94" r="0.9"/><circle cx="180.88" cy="450.91" r="0.9"/><circle cx="181.39" cy="450.79" r="0.9"/><circle cx="181.9" cy="451.1" r="0.9"/><circle cx="182.4" cy="451.37" r="0.9"/><circle cx="182.91" cy="450.07" r="0.9"/><circle cx="183.42" cy="451.63" r="0.9"/><circle cx="183.92" cy="452" r="0.9"/><circle cx="184.43" cy="450.28" r="0.9"/><circle cx="184.94" cy="451.54" r="0.9"/><circle cx="185.44" cy="451.05" r="0.9"/><circle cx="185.95" cy="451.34" r="0.9"/><circle cx="186.46" cy="450.99" r="0.9"/><circle cx="186.97" cy="450.52" r="0.9"/><circle cx="187.47" cy="451.3" r="0.9"/><circle cx="187.98" cy="451.08" r="0.9"/><circle cx="188.49" cy="453.29" r="0.9"/><circle cx="188.99" cy="450.57" r="0.9"/><circle cx="189.5" cy="450.94" r="0.9"/><circle cx="30.7" cy="447.2" r="0.9"/><circle cx="40.1" cy="445" r="0.9"/><circle cx="41.2" cy="459" r="0.9"/><circle cx="46.8" cy="447.9" r="0.9"/><circle cx="58" cy="456.8" r="0.9"/><circle cx="60.2" cy="454.6" r="0.9"/><circle cx="66.9" cy="458" r="0.9"/><circle cx="69.6" cy="446.3" r="0.9"/><circle cx="84.7" cy="447.2" r="0.9"/><circle cx="91.9" cy="446.3" r="0.9"/><circle cx="118.8" cy="444.8" r="0.9"/><circle cx="123.3" cy="455.7" r="0.9"/><circle cx="128.3" cy="447.5" r="0.9"/><circle cx="128.3" cy="455.7" r="0.9"/><circle cx="130.6" cy="447.5" r="0.9"/><circle cx="143" cy="457.2" r="0.9"/><circle cx="146.4" cy="434" r="0.9"/><circle cx="152" cy="440.3" r="0.9"/><circle cx="156.5" cy="428.6" r="0.9"/><circle cx="174.1" cy="436.9" r="0.9"/><circle cx="179.1" cy="446.6" r="0.9"/><circle cx="179.1" cy="458.8" r="0.9"/><circle cx="189.7" cy="441.4" r="0.9"/><circle cx="189.7" cy="459.5" r="0.9"/><circle cx="188.1" cy="448.2" r="0.9"/></g>
<path d="M65.1 451V470.9M69.6 451V481.4M83.6 451V478M94.8 451V503M98.6 451V522.2M108.8 451V482.3" stroke="#b89c8a" stroke-width="1.4" fill="none"/>
<circle cx="65.1" cy="470.9" r="1.05" fill="#5a2c20"/><circle cx="69.6" cy="481.4" r="1.05" fill="#5a2c20"/><circle cx="83.6" cy="478" r="1.05" fill="#5a2c20"/><circle cx="94.8" cy="503" r="1.05" fill="#5a2c20"/><circle cx="98.6" cy="522.2" r="1.05" fill="#5a2c20"/><circle cx="108.8" cy="482.3" r="1.05" fill="#5a2c20"/>
<line x1="182" x2="182" y1="421.8" y2="525.5" stroke="#4a4f9e" stroke-width="0.85" stroke-dasharray="1.6 0.6"/>
<line x1="189.3" x2="189.3" y1="421.8" y2="525.5" stroke="#4a4f9e" stroke-width="0.85" stroke-dasharray="1.6 0.6"/>
<rect x="19.7" y="420.3" width="179" height="106.7" fill="none" stroke="#777777" stroke-width="1.1"/>
<line x1="18.4" x2="19.7" y1="423" y2="423" stroke="#3a3a3a" stroke-width="0.45"/>
<text x="17.8" y="424.7" text-anchor="end" font-size="3.6">0.50</text>
<line x1="18.4" x2="19.7" y1="437.3" y2="437.3" stroke="#3a3a3a" stroke-width="0.45"/>
<text x="17.8" y="439" text-anchor="end" font-size="3.6">0.25</text>
<line x1="18.4" x2="19.7" y1="451.6" y2="451.6" stroke="#3a3a3a" stroke-width="0.45"/>
<text x="17.8" y="453.3" text-anchor="end" font-size="3.6">0.00</text>
<line x1="18.4" x2="19.7" y1="465.9" y2="465.9" stroke="#3a3a3a" stroke-width="0.45"/>
<text x="17.8" y="467.6" text-anchor="end" font-size="3.6">−0.25</text>
<line x1="18.4" x2="19.7" y1="480.2" y2="480.2" stroke="#3a3a3a" stroke-width="0.45"/>
<text x="17.8" y="481.9" text-anchor="end" font-size="3.6">−0.50</text>
<line x1="18.4" x2="19.7" y1="494.5" y2="494.5" stroke="#3a3a3a" stroke-width="0.45"/>
<text x="17.8" y="496.2" text-anchor="end" font-size="3.6">−0.75</text>
<line x1="18.4" x2="19.7" y1="508.8" y2="508.8" stroke="#3a3a3a" stroke-width="0.45"/>
<text x="17.8" y="510.5" text-anchor="end" font-size="3.6">−1.00</text>
<line x1="18.4" x2="19.7" y1="523.1" y2="523.1" stroke="#3a3a3a" stroke-width="0.45"/>
<text x="17.8" y="524.8" text-anchor="end" font-size="3.6">−1.25</text>
<text transform="translate(6.09,473.65) rotate(-90)" text-anchor="middle" font-size="3.4">BG_volume</text>
<path d="M27.4 527v1.3M28.9 527v1.3M32.2 527v1.3M37.9 527v1.3M42 527v1.3M43.5 527v1.3M50.5 527v1.3M67.6 527v1.3M90.4 527v1.3M103.1 527v1.3M105.3 527v1.3M110.5 527v1.3M115 527v1.3M116.5 527v1.3M118 527v1.3M119.4 527v1.3M121.7 527v1.3M124.6 527v1.3M138.8 527v1.3M145.2 527v1.3M164.6 527v1.3M178 527v1.3M181 527v1.3M186.1 527v1.3M188.4 527v1.3" stroke="#3a3a3a" stroke-width="0.45"/>
<g><text transform="translate(29.1,533.8) rotate(-90)" class="tl" font-size="3.6">18</text><text transform="translate(29.1,538.8) rotate(-90)" class="tl" font-size="3.6">18</text><text transform="translate(30.6,533.8) rotate(-90)" class="tl" font-size="3.6">18</text><text transform="translate(30.6,538.8) rotate(-90)" class="tl" font-size="3.6">18</text><text transform="translate(33.9,533.8) rotate(-90)" class="tl" font-size="3.6">18</text><text transform="translate(33.9,538.8) rotate(-90)" class="tl" font-size="3.6">18</text><text transform="translate(39.6,533.8) rotate(-90)" class="tl" font-size="3.6">18</text><text transform="translate(39.6,538.8) rotate(-90)" class="tl" font-size="3.6">18</text><text transform="translate(43.7,533.8) rotate(-90)" class="tl" font-size="3.6">18</text><text transform="translate(43.7,538.8) rotate(-90)" class="tl" font-size="3.6">18</text><text transform="translate(45.2,533.8) rotate(-90)" class="tl" font-size="3.6">18</text><text transform="translate(45.2,538.8) rotate(-90)" class="tl" font-size="3.6">18</text><text transform="translate(52.2,533.8) rotate(-90)" class="tl" font-size="3.6">18</text><text transform="translate(52.2,538.8) rotate(-90)" class="tl" font-size="3.6">18</text><text transform="translate(69.3,533.8) rotate(-90)" class="tl" font-size="3.6">18</text><text transform="translate(69.3,538.8) rotate(-90)" class="tl" font-size="3.6">18</text><text transform="translate(92.1,533.8) rotate(-90)" class="tl" font-size="3.6">18</text><text transform="translate(92.1,538.8) rotate(-90)" class="tl" font-size="3.6">18</text><text transform="translate(104.8,533.8) rotate(-90)" class="tl" font-size="3.6">18</text><text transform="translate(104.8,538.8) rotate(-90)" class="tl" font-size="3.6">18</text><text transform="translate(107,533.8) rotate(-90)" class="tl" font-size="3.6">18</text><text transform="translate(107,538.8) rotate(-90)" class="tl" font-size="3.6">18</text><text transform="translate(112.2,533.8) rotate(-90)" class="tl" font-size="3.6">18</text><text transform="translate(112.2,538.8) rotate(-90)" class="tl" font-size="3.6">18</text><text transform="translate(116.7,533.8) rotate(-90)" class="tl" font-size="3.6">18</text><text transform="translate(116.7,538.8) rotate(-90)" class="tl" font-size="3.6">18</text><text transform="translate(118.2,533.8) rotate(-90)" class="tl" font-size="3.6">18</text><text transform="translate(118.2,538.8) rotate(-90)" class="tl" font-size="3.6">18</text><text transform="translate(119.7,533.8) rotate(-90)" class="tl" font-size="3.6">18</text><text transform="translate(119.7,538.8) rotate(-90)" class="tl" font-size="3.6">18</text><text transform="translate(121.1,533.8) rotate(-90)" class="tl" font-size="3.6">18</text><text transform="translate(121.1,538.8) rotate(-90)" class="tl" font-size="3.6">18</text><text transform="translate(123.4,533.8) rotate(-90)" class="tl" font-size="3.6">18</text><text transform="translate(123.4,538.8) rotate(-90)" class="tl" font-size="3.6">18</text><text transform="translate(126.3,533.8) rotate(-90)" class="tl" font-size="3.6">18</text><text transform="translate(126.3,538.8) rotate(-90)" class="tl" font-size="3.6">18</text><text transform="translate(140.5,533.8) rotate(-90)" class="tl" font-size="3.6">18</text><text transform="translate(140.5,538.8) rotate(-90)" class="tl" font-size="3.6">18</text><text transform="translate(146.9,533.8) rotate(-90)" class="tl" font-size="3.6">18</text><text transform="translate(146.9,538.8) rotate(-90)" class="tl" font-size="3.6">18</text><text transform="translate(166.3,533.8) rotate(-90)" class="tl" font-size="3.6">18</text><text transform="translate(166.3,538.8) rotate(-90)" class="tl" font-size="3.6">18</text><text transform="translate(179.7,533.8) rotate(-90)" class="tl" font-size="3.6">18</text><text transform="translate(179.7,538.8) rotate(-90)" class="tl" font-size="3.6">18</text><text transform="translate(182.7,533.8) rotate(-90)" class="tl" font-size="3.6">18</text><text transform="translate(182.7,538.8) rotate(-90)" class="tl" font-size="3.6">18</text><text transform="translate(182.7,543.8) rotate(-90)" class="tl" font-size="3.6">18</text><text transform="translate(187.8,533.8) rotate(-90)" class="tl" font-size="3.6">18</text><text transform="translate(187.8,538.8) rotate(-90)" class="tl" font-size="3.6">18</text><text transform="translate(190.1,533.8) rotate(-90)" class="tl" font-size="3.6">18</text><text transform="translate(190.1,538.8) rotate(-90)" class="tl" font-size="3.6">18</text><text transform="translate(190.1,543.8) rotate(-90)" class="tl" font-size="3.6">18</text></g>
<text x="109.4" y="546.9" text-anchor="middle" font-size="3.4">datetime</text>
<text x="109" y="418.5" text-anchor="middle" class="ttl" font-size="4.0">LOKA_2022-7-14 5:37</text>
<rect x="21.2" y="421.6" width="43.68" height="10.8" fill="#fff" fill-opacity="0.85" stroke="#ececec" stroke-width="0.4" rx="0.6"/>
<line x1="22.7" x2="29.7" y1="424.5" y2="424.5" stroke="#4a4f9e" stroke-width="0.6" stroke-dasharray="1.4 0.7"/>
<line x1="22.7" x2="29.7" y1="429.5" y2="429.5" stroke="#e4dbab" stroke-width="0.65" stroke-dasharray="1.4 0.7"/>
<text x="32" y="425.7" font-size="3.45">2022-7-14 5:37</text>
<text x="32" y="430.7" font-size="3.45">anomalous volumes</text>
<rect x="298" y="420.3" width="7" height="106.7" fill="#fff7fa"/>
<rect x="365" y="420.3" width="27" height="106.7" fill="#fff7fa"/>
<rect x="227.8" y="460.5" width="164.7" height="11.5" fill="#e0fbf3"/>
<path d="M368 466 L369 459 L372 456 L375 458 L378 455 L381 457 L384 460 L385 466 L384 474 L381 479 L377 478 L374 472 L370 470 Z" fill="#86c99a" opacity="0.75"/>
<line x1="229.8" x2="393.5" y1="442.1" y2="442.1" stroke="#e4dbab" stroke-width="1.2" stroke-dasharray="2.4 0.4"/>
<line x1="229.8" x2="393.5" y1="491.1" y2="491.1" stroke="#e4dbab" stroke-width="1.2" stroke-dasharray="2.4 0.4"/>
<path d="M229.8 466.73 L230.31 465.37 L230.81 466.47 L231.32 467.57 L231.83 463.91 L232.33 466.86 L232.84 466.14 L233.35 467.45 L233.86 466.23 L234.36 466.14 L234.87 467.52 L235.38 467.29 L235.88 466.3 L236.39 465.3 L236.9 465.5 L237.4 466.79 L237.91 466.8 L238.42 465.64 L238.92 467.27 L239.43 466.84 L239.94 466.19 L240.44 466.43 L240.95 466.63 L241.46 466.15 L241.97 466.94 L242.47 466.41 L242.98 466.41 L243.49 467.08 L243.99 466.79 L244.5 465.6 L245.01 466.51 L245.51 465.86 L246.02 466.61 L246.53 466.78 L247.03 465.67 L247.54 467.11 L248.05 467.61 L248.56 466.75 L249.06 465.82 L249.57 466.41 L250.08 466.69 L250.58 466.81 L251.09 466.85 L251.6 468.65 L252.1 466.21 L252.61 466.96 L253.12 468 L253.62 466.69 L254.13 468.52 L254.64 466.9 L255.14 467.56 L255.65 466.57 L256.16 465 L256.67 466.2 L257.17 466.09 L257.68 465.87 L258.19 465.67 L258.69 465.92 L259.2 468 L259.71 468.53 L260.21 466.64 L260.72 465.71 L261.23 466.24 L261.73 470.03 L262.24 466.38 L262.75 466.38 L263.26 467.49 L263.76 467.34 L264.27 466.82 L264.78 465.52 L265.28 466.55 L265.79 465.79 L266.3 466.04 L266.8 466.37 L267.31 466.67 L267.82 467.08 L268.32 465.02 L268.83 469.4 L269.34 466.1 L269.84 466.44 L270.35 465.9 L270.86 467.42 L271.37 466.46 L271.87 466.97 L272.38 465.96 L272.89 467.08 L273.39 466.59 L273.9 465.96 L274.41 466.34 L274.91 466.09 L275.42 465.96 L275.93 469.03 L276.43 466.62 L276.94 466.2 L277.45 465.48 L277.96 467.06 L278.46 466.39 L278.97 466.23 L279.48 465.93 L279.98 467.35 L280.49 467.15 L281 466.2 L281.5 466.11 L282.01 466.17 L282.52 466.33 L283.02 466.4 L283.53 465.55 L284.04 466 L284.54 463.17 L285.05 467.06 L285.56 466.76 L286.07 466.51 L286.57 465.92 L287.08 466.65 L287.59 466.92 L288.09 467 L288.6 467.22 L289.11 466.24 L289.61 466.06 L290.12 467.08 L290.63 466.14 L291.13 466.79 L291.64 466.45 L292.15 465.51 L292.66 466.44 L293.16 466.29 L293.67 466.2 L294.18 466.13 L294.68 465.62 L295.19 466.06 L295.7 466.09 L296.2 469.35 L296.71 466.24 L297.22 466.54 L297.72 467.42 L298.23 465.25 L298.74 467.05 L299.24 466.54 L299.75 466.18 L300.26 465.67 L300.77 467.08 L301.27 466.64 L301.78 468.68 L302.29 465.77 L302.79 467.08 L303.3 467.41 L303.81 465.92 L304.31 466.44 L304.82 466.69 L305.33 467.02 L305.83 466.25 L306.34 467.74 L306.85 462.92 L307.36 466.3 L307.86 466.01 L308.37 465.82 L308.88 466.94 L309.38 466.54 L309.89 466.02 L310.4 465.9 L310.9 467.1 L311.41 467.21 L311.92 466.89 L312.42 466.62 L312.93 466.18 L313.44 467.15 L313.94 467.32 L314.45 466.67 L314.96 466.41 L315.47 467.57 L315.97 466.08 L316.48 463.95 L316.99 467.83 L317.49 466.63 L318 466.45 L318.51 465.23 L319.01 466.02 L319.52 466.48 L320.03 463.94 L320.53 465.81 L321.04 467.94 L321.55 466.59 L322.06 466.43 L322.56 470.27 L323.07 465.8 L323.58 466.87 L324.08 467.56 L324.59 463.82 L325.1 464.04 L325.6 462.95 L326.11 466.66 L326.62 466.64 L327.12 467.7 L327.63 465.89 L328.14 467.27 L328.64 466.26 L329.15 466.82 L329.66 466.48 L330.17 466.95 L330.67 466 L331.18 467.15 L331.69 466.98 L332.19 465.56 L332.7 470.39 L333.21 466.64 L333.71 465.78 L334.22 465.75 L334.73 466.05 L335.23 466.66 L335.74 466.76 L336.25 465.93 L336.76 466.8 L337.26 465.29 L337.77 467.83 L338.28 466.28 L338.78 467.42 L339.29 466.3 L339.8 466.35 L340.3 466.85 L340.81 466.77 L341.32 465.62 L341.82 466.23 L342.33 466.48 L342.84 466.33 L343.34 466.34 L343.85 466.26 L344.36 466.3 L344.87 468.79 L345.37 466.48 L345.88 466.38 L346.39 466.04 L346.89 467.27 L347.4 466.37 L347.91 467.48 L348.41 466.39 L348.92 465.94 L349.43 466.39 L349.93 466.34 L350.44 466.35 L350.95 466.48 L351.46 466.45 L351.96 467.25 L352.47 465.99 L352.98 465.91 L353.48 465.92 L353.99 467.27 L354.5 466.39 L355 466.62 L355.51 467.35 L356.02 466.59 L356.52 463.82 L357.03 466.77 L357.54 469.7 L358.04 467.81 L358.55 467.42 L359.06 466.58 L359.57 466.61 L360.07 466.59 L360.58 466.27 L361.09 467.38 L361.59 466.37 L362.1 466.27 L362.61 465.75 L363.11 465.53 L363.62 466.32 L364.13 466.83 L364.63 464.18 L365.14 466.18 L365.65 465.69 L366.16 465.82 L366.66 465.95 L367.17 467.04 L367.68 467.83 L368.18 467.2 L368.69 466.64 L369.2 466.12 L369.7 467.17 L370.21 465.91 L370.72 465.65 L371.22 467.2 L371.73 465.67 L372.24 467.11 L372.74 462.61 L373.25 467.02 L373.76 465.48 L374.27 466.8 L374.77 466.77 L375.28 466.87 L375.79 465.65 L376.29 466.22 L376.8 465.49 L377.31 467.34 L377.81 466.39 L378.32 466.33 L378.83 467.03 L379.33 466.17 L379.84 466.52 L380.35 466.22 L380.86 466.86 L381.36 465.08 L381.87 467.12 L382.38 466.52 L382.88 465.84 L383.39 467.17 L383.9 464.32 L384.4 466.02 L384.91 466.51 L385.42 466.52 L385.92 466.87 L386.43 465.58 L386.94 466.46 L387.44 466.03 L387.95 466.67 L388.46 465.92 L388.97 466.19 L389.47 466.12 L389.98 466.13 L390.49 466.5 L390.99 466.53 L391.5 465.66" fill="none" stroke="#2f7f3c" stroke-width="1.1" stroke-linejoin="round"/>
<path d="M230.9 466.5V474.1M230.9 466.5V463.7M236 466.5V471.2M242.6 466.5V472.5M250.8 466.5V463M251.9 466.5V484M253.7 466.5V473M264.7 466.5V463.7M274 466.5V458M278 466.5V476.3M280.6 466.5V488M291.2 466.5V463M293.8 466.5V470.3M309.8 466.5V462.4M313.6 466.5V455.7M313.6 466.5V470.8M315.9 466.5V458.8M318.8 466.5V462.4M337.3 466.5V462.9M352 466.5V460.6M367.1 466.5V459.5M369.4 466.5V453.9M370.1 466.5V444.4M371.2 466.5V451.6M375.7 466.5V451.2M376.8 466.5V478.2M380.7 466.5V477.6M382 466.5V455M382.9 466.5V456.1M385.2 466.5V460.2M386.6 466.5V485.9M369 466.5V458M371 466.5V456M372.5 466.5V460M374 466.5V457M376 466.5V476M377 466.5V479M378 466.5V474M379.3 466.5V477M380.2 466.5V472M383.5 466.5V459M371.8 466.5V470M373.5 466.5V466" stroke="#356b3d" stroke-width="0.75" fill="none"/>
<g fill="#2b6a34" stroke="#1d4424" stroke-width="0.25"><circle cx="229.8" cy="466.73" r="0.9"/><circle cx="230.31" cy="465.37" r="0.9"/><circle cx="230.81" cy="466.47" r="0.9"/><circle cx="231.32" cy="467.57" r="0.9"/><circle cx="231.83" cy="463.91" r="0.9"/><circle cx="232.33" cy="466.86" r="0.9"/><circle cx="232.84" cy="466.14" r="0.9"/><circle cx="233.35" cy="467.45" r="0.9"/><circle cx="233.86" cy="466.23" r="0.9"/><circle cx="234.36" cy="466.14" r="0.9"/><circle cx="234.87" cy="467.52" r="0.9"/><circle cx="235.38" cy="467.29" r="0.9"/><circle cx="235.88" cy="466.3" r="0.9"/><circle cx="236.39" cy="465.3" r="0.9"/><circle cx="236.9" cy="465.5" r="0.9"/><circle cx="237.4" cy="466.79" r="0.9"/><circle cx="237.91" cy="466.8" r="0.9"/><circle cx="238.42" cy="465.64" r="0.9"/><circle cx="238.92" cy="467.27" r="0.9"/><circle cx="239.43" cy="466.84" r="0.9"/><circle cx="239.94" cy="466.19" r="0.9"/><circle cx="240.44" cy="466.43" r="0.9"/><circle cx="240.95" cy="466.63" r="0.9"/><circle cx="241.46" cy="466.15" r="0.9"/><circle cx="241.97" cy="466.94" r="0.9"/><circle cx="242.47" cy="466.41" r="0.9"/><circle cx="242.98" cy="466.41" r="0.9"/><circle cx="243.49" cy="467.08" r="0.9"/><circle cx="243.99" cy="466.79" r="0.9"/><circle cx="244.5" cy="465.6" r="0.9"/><circle cx="245.01" cy="466.51" r="0.9"/><circle cx="245.51" cy="465.86" r="0.9"/><circle cx="246.02" cy="466.61" r="0.9"/><circle cx="246.53" cy="466.78" r="0.9"/><circle cx="247.03" cy="465.67" r="0.9"/><circle cx="247.54" cy="467.11" r="0.9"/><circle cx="248.05" cy="467.61" r="0.9"/><circle cx="248.56" cy="466.75" r="0.9"/><circle cx="249.06" cy="465.82" r="0.9"/><circle cx="249.57" cy="466.41" r="0.9"/><circle cx="250.08" cy="466.69" r="0.9"/><circle cx="250.58" cy="466.81" r="0.9"/><circle cx="251.09" cy="466.85" r="0.9"/><circle cx="251.6" cy="468.65" r="0.9"/><circle cx="252.1" cy="466.21" r="0.9"/><circle cx="252.61" cy="466.96" r="0.9"/><circle cx="253.12" cy="468" r="0.9"/><circle cx="253.62" cy="466.69" r="0.9"/><circle cx="254.13" cy="468.52" r="0.9"/><circle cx="254.64" cy="466.9" r="0.9"/><circle cx="255.14" cy="467.56" r="0.9"/><circle cx="255.65" cy="466.57" r="0.9"/><circle cx="256.16" cy="465" r="0.9"/><circle cx="256.67" cy="466.2" r="0.9"/><circle cx="257.17" cy="466.09" r="0.9"/><circle cx="257.68" cy="465.87" r="0.9"/><circle cx="258.19" cy="465.67" r="0.9"/><circle cx="258.69" cy="465.92" r="0.9"/><circle cx="259.2" cy="468" r="0.9"/><circle cx="259.71" cy="468.53" r="0.9"/><circle cx="260.21" cy="466.64" r="0.9"/><circle cx="260.72" cy="465.71" r="0.9"/><circle cx="261.23" cy="466.24" r="0.9"/><circle cx="261.73" cy="470.03" r="0.9"/><circle cx="262.24" cy="466.38" r="0.9"/><circle cx="262.75" cy="466.38" r="0.9"/><circle cx="263.26" cy="467.49" r="0.9"/><circle cx="263.76" cy="467.34" r="0.9"/><circle cx="264.27" cy="466.82" r="0.9"/><circle cx="264.78" cy="465.52" r="0.9"/><circle cx="265.28" cy="466.55" r="0.9"/><circle cx="265.79" cy="465.79" r="0.9"/><circle cx="266.3" cy="466.04" r="0.9"/><circle cx="266.8" cy="466.37" r="0.9"/><circle cx="267.31" cy="466.67" r="0.9"/><circle cx="267.82" cy="467.08" r="0.9"/><circle cx="268.32" cy="465.02" r="0.9"/><circle cx="268.83" cy="469.4" r="0.9"/><circle cx="269.34" cy="466.1" r="0.9"/><circle cx="269.84" cy="466.44" r="0.9"/><circle cx="270.35" cy="465.9" r="0.9"/><circle cx="270.86" cy="467.42" r="0.9"/><circle cx="271.37" cy="466.46" r="0.9"/><circle cx="271.87" cy="466.97" r="0.9"/><circle cx="272.38" cy="465.96" r="0.9"/><circle cx="272.89" cy="467.08" r="0.9"/><circle cx="273.39" cy="466.59" r="0.9"/><circle cx="273.9" cy="465.96" r="0.9"/><circle cx="274.41" cy="466.34" r="0.9"/><circle cx="274.91" cy="466.09" r="0.9"/><circle cx="275.42" cy="465.96" r="0.9"/><circle cx="275.93" cy="469.03" r="0.9"/><circle cx="276.43" cy="466.62" r="0.9"/><circle cx="276.94" cy="466.2" r="0.9"/><circle cx="277.45" cy="465.48" r="0.9"/><circle cx="277.96" cy="467.06" r="0.9"/><circle cx="278.46" cy="466.39" r="0.9"/><circle cx="278.97" cy="466.23" r="0.9"/><circle cx="279.48" cy="465.93" r="0.9"/><circle cx="279.98" cy="467.35" r="0.9"/><circle cx="280.49" cy="467.15" r="0.9"/><circle cx="281" cy="466.2" r="0.9"/><circle cx="281.5" cy="466.11" r="0.9"/><circle cx="282.01" cy="466.17" r="0.9"/><circle cx="282.52" cy="466.33" r="0.9"/><circle cx="283.02" cy="466.4" r="0.9"/><circle cx="283.53" cy="465.55" r="0.9"/><circle cx="284.04" cy="466" r="0.9"/><circle cx="284.54" cy="463.17" r="0.9"/><circle cx="285.05" cy="467.06" r="0.9"/><circle cx="285.56" cy="466.76" r="0.9"/><circle cx="286.07" cy="466.51" r="0.9"/><circle cx="286.57" cy="465.92" r="0.9"/><circle cx="287.08" cy="466.65" r="0.9"/><circle cx="287.59" cy="466.92" r="0.9"/><circle cx="288.09" cy="467" r="0.9"/><circle cx="288.6" cy="467.22" r="0.9"/><circle cx="289.11" cy="466.24" r="0.9"/><circle cx="289.61" cy="466.06" r="0.9"/><circle cx="290.12" cy="467.08" r="0.9"/><circle cx="290.63" cy="466.14" r="0.9"/><circle cx="291.13" cy="466.79" r="0.9"/><circle cx="291.64" cy="466.45" r="0.9"/><circle cx="292.15" cy="465.51" r="0.9"/><circle cx="292.66" cy="466.44" r="0.9"/><circle cx="293.16" cy="466.29" r="0.9"/><circle cx="293.67" cy="466.2" r="0.9"/><circle cx="294.18" cy="466.13" r="0.9"/><circle cx="294.68" cy="465.62" r="0.9"/><circle cx="295.19" cy="466.06" r="0.9"/><circle cx="295.7" cy="466.09" r="0.9"/><circle cx="296.2" cy="469.35" r="0.9"/><circle cx="296.71" cy="466.24" r="0.9"/><circle cx="297.22" cy="466.54" r="0.9"/><circle cx="297.72" cy="467.42" r="0.9"/><circle cx="298.23" cy="465.25" r="0.9"/><circle cx="298.74" cy="467.05" r="0.9"/><circle cx="299.24" cy="466.54" r="0.9"/><circle cx="299.75" cy="466.18" r="0.9"/><circle cx="300.26" cy="465.67" r="0.9"/><circle cx="300.77" cy="467.08" r="0.9"/><circle cx="301.27" cy="466.64" r="0.9"/><circle cx="301.78" cy="468.68" r="0.9"/><circle cx="302.29" cy="465.77" r="0.9"/><circle cx="302.79" cy="467.08" r="0.9"/><circle cx="303.3" cy="467.41" r="0.9"/><circle cx="303.81" cy="465.92" r="0.9"/><circle cx="304.31" cy="466.44" r="0.9"/><circle cx="304.82" cy="466.69" r="0.9"/><circle cx="305.33" cy="467.02" r="0.9"/><circle cx="305.83" cy="466.25" r="0.9"/><circle cx="306.34" cy="467.74" r="0.9"/><circle cx="306.85" cy="462.92" r="0.9"/><circle cx="307.36" cy="466.3" r="0.9"/><circle cx="307.86" cy="466.01" r="0.9"/><circle cx="308.37" cy="465.82" r="0.9"/><circle cx="308.88" cy="466.94" r="0.9"/><circle cx="309.38" cy="466.54" r="0.9"/><circle cx="309.89" cy="466.02" r="0.9"/><circle cx="310.4" cy="465.9" r="0.9"/><circle cx="310.9" cy="467.1" r="0.9"/><circle cx="311.41" cy="467.21" r="0.9"/><circle cx="311.92" cy="466.89" r="0.9"/><circle cx="312.42" cy="466.62" r="0.9"/><circle cx="312.93" cy="466.18" r="0.9"/><circle cx="313.44" cy="467.15" r="0.9"/><circle cx="313.94" cy="467.32" r="0.9"/><circle cx="314.45" cy="466.67" r="0.9"/><circle cx="314.96" cy="466.41" r="0.9"/><circle cx="315.47" cy="467.57" r="0.9"/><circle cx="315.97" cy="466.08" r="0.9"/><circle cx="316.48" cy="463.95" r="0.9"/><circle cx="316.99" cy="467.83" r="0.9"/><circle cx="317.49" cy="466.63" r="0.9"/><circle cx="318" cy="466.45" r="0.9"/><circle cx="318.51" cy="465.23" r="0.9"/><circle cx="319.01" cy="466.02" r="0.9"/><circle cx="319.52" cy="466.48" r="0.9"/><circle cx="320.03" cy="463.94" r="0.9"/><circle cx="320.53" cy="465.81" r="0.9"/><circle cx="321.04" cy="467.94" r="0.9"/><circle cx="321.55" cy="466.59" r="0.9"/><circle cx="322.06" cy="466.43" r="0.9"/><circle cx="322.56" cy="470.27" r="0.9"/><circle cx="323.07" cy="465.8" r="0.9"/><circle cx="323.58" cy="466.87" r="0.9"/><circle cx="324.08" cy="467.56" r="0.9"/><circle cx="324.59" cy="463.82" r="0.9"/><circle cx="325.1" cy="464.04" r="0.9"/><circle cx="325.6" cy="462.95" r="0.9"/><circle cx="326.11" cy="466.66" r="0.9"/><circle cx="326.62" cy="466.64" r="0.9"/><circle cx="327.12" cy="467.7" r="0.9"/><circle cx="327.63" cy="465.89" r="0.9"/><circle cx="328.14" cy="467.27" r="0.9"/><circle cx="328.64" cy="466.26" r="0.9"/><circle cx="329.15" cy="466.82" r="0.9"/><circle cx="329.66" cy="466.48" r="0.9"/><circle cx="330.17" cy="466.95" r="0.9"/><circle cx="330.67" cy="466" r="0.9"/><circle cx="331.18" cy="467.15" r="0.9"/><circle cx="331.69" cy="466.98" r="0.9"/><circle cx="332.19" cy="465.56" r="0.9"/><circle cx="332.7" cy="470.39" r="0.9"/><circle cx="333.21" cy="466.64" r="0.9"/><circle cx="333.71" cy="465.78" r="0.9"/><circle cx="334.22" cy="465.75" r="0.9"/><circle cx="334.73" cy="466.05" r="0.9"/><circle cx="335.23" cy="466.66" r="0.9"/><circle cx="335.74" cy="466.76" r="0.9"/><circle cx="336.25" cy="465.93" r="0.9"/><circle cx="336.76" cy="466.8" r="0.9"/><circle cx="337.26" cy="465.29" r="0.9"/><circle cx="337.77" cy="467.83" r="0.9"/><circle cx="338.28" cy="466.28" r="0.9"/><circle cx="338.78" cy="467.42" r="0.9"/><circle cx="339.29" cy="466.3" r="0.9"/><circle cx="339.8" cy="466.35" r="0.9"/><circle cx="340.3" cy="466.85" r="0.9"/><circle cx="340.81" cy="466.77" r="0.9"/><circle cx="341.32" cy="465.62" r="0.9"/><circle cx="341.82" cy="466.23" r="0.9"/><circle cx="342.33" cy="466.48" r="0.9"/><circle cx="342.84" cy="466.33" r="0.9"/><circle cx="343.34" cy="466.34" r="0.9"/><circle cx="343.85" cy="466.26" r="0.9"/><circle cx="344.36" cy="466.3" r="0.9"/><circle cx="344.87" cy="468.79" r="0.9"/><circle cx="345.37" cy="466.48" r="0.9"/><circle cx="345.88" cy="466.38" r="0.9"/><circle cx="346.39" cy="466.04" r="0.9"/><circle cx="346.89" cy="467.27" r="0.9"/><circle cx="347.4" cy="466.37" r="0.9"/><circle cx="347.91" cy="467.48" r="0.9"/><circle cx="348.41" cy="466.39" r="0.9"/><circle cx="348.92" cy="465.94" r="0.9"/><circle cx="349.43" cy="466.39" r="0.9"/><circle cx="349.93" cy="466.34" r="0.9"/><circle cx="350.44" cy="466.35" r="0.9"/><circle cx="350.95" cy="466.48" r="0.9"/><circle cx="351.46" cy="466.45" r="0.9"/><circle cx="351.96" cy="467.25" r="0.9"/><circle cx="352.47" cy="465.99" r="0.9"/><circle cx="352.98" cy="465.91" r="0.9"/><circle cx="353.48" cy="465.92" r="0.9"/><circle cx="353.99" cy="467.27" r="0.9"/><circle cx="354.5" cy="466.39" r="0.9"/><circle cx="355" cy="466.62" r="0.9"/><circle cx="355.51" cy="467.35" r="0.9"/><circle cx="356.02" cy="466.59" r="0.9"/><circle cx="356.52" cy="463.82" r="0.9"/><circle cx="357.03" cy="466.77" r="0.9"/><circle cx="357.54" cy="469.7" r="0.9"/><circle cx="358.04" cy="467.81" r="0.9"/><circle cx="358.55" cy="467.42" r="0.9"/><circle cx="359.06" cy="466.58" r="0.9"/><circle cx="359.57" cy="466.61" r="0.9"/><circle cx="360.07" cy="466.59" r="0.9"/><circle cx="360.58" cy="466.27" r="0.9"/><circle cx="361.09" cy="467.38" r="0.9"/><circle cx="361.59" cy="466.37" r="0.9"/><circle cx="362.1" cy="466.27" r="0.9"/><circle cx="362.61" cy="465.75" r="0.9"/><circle cx="363.11" cy="465.53" r="0.9"/><circle cx="363.62" cy="466.32" r="0.9"/><circle cx="364.13" cy="466.83" r="0.9"/><circle cx="364.63" cy="464.18" r="0.9"/><circle cx="365.14" cy="466.18" r="0.9"/><circle cx="365.65" cy="465.69" r="0.9"/><circle cx="366.16" cy="465.82" r="0.9"/><circle cx="366.66" cy="465.95" r="0.9"/><circle cx="367.17" cy="467.04" r="0.9"/><circle cx="367.68" cy="467.83" r="0.9"/><circle cx="368.18" cy="467.2" r="0.9"/><circle cx="368.69" cy="466.64" r="0.9"/><circle cx="369.2" cy="466.12" r="0.9"/><circle cx="369.7" cy="467.17" r="0.9"/><circle cx="370.21" cy="465.91" r="0.9"/><circle cx="370.72" cy="465.65" r="0.9"/><circle cx="371.22" cy="467.2" r="0.9"/><circle cx="371.73" cy="465.67" r="0.9"/><circle cx="372.24" cy="467.11" r="0.9"/><circle cx="372.74" cy="462.61" r="0.9"/><circle cx="373.25" cy="467.02" r="0.9"/><circle cx="373.76" cy="465.48" r="0.9"/><circle cx="374.27" cy="466.8" r="0.9"/><circle cx="374.77" cy="466.77" r="0.9"/><circle cx="375.28" cy="466.87" r="0.9"/><circle cx="375.79" cy="465.65" r="0.9"/><circle cx="376.29" cy="466.22" r="0.9"/><circle cx="376.8" cy="465.49" r="0.9"/><circle cx="377.31" cy="467.34" r="0.9"/><circle cx="377.81" cy="466.39" r="0.9"/><circle cx="378.32" cy="466.33" r="0.9"/><circle cx="378.83" cy="467.03" r="0.9"/><circle cx="379.33" cy="466.17" r="0.9"/><circle cx="379.84" cy="466.52" r="0.9"/><circle cx="380.35" cy="466.22" r="0.9"/><circle cx="380.86" cy="466.86" r="0.9"/><circle cx="381.36" cy="465.08" r="0.9"/><circle cx="381.87" cy="467.12" r="0.9"/><circle cx="382.38" cy="466.52" r="0.9"/><circle cx="382.88" cy="465.84" r="0.9"/><circle cx="383.39" cy="467.17" r="0.9"/><circle cx="383.9" cy="464.32" r="0.9"/><circle cx="384.4" cy="466.02" r="0.9"/><circle cx="384.91" cy="466.51" r="0.9"/><circle cx="385.42" cy="466.52" r="0.9"/><circle cx="385.92" cy="466.87" r="0.9"/><circle cx="386.43" cy="465.58" r="0.9"/><circle cx="386.94" cy="466.46" r="0.9"/><circle cx="387.44" cy="466.03" r="0.9"/><circle cx="387.95" cy="466.67" r="0.9"/><circle cx="388.46" cy="465.92" r="0.9"/><circle cx="388.97" cy="466.19" r="0.9"/><circle cx="389.47" cy="466.12" r="0.9"/><circle cx="389.98" cy="466.13" r="0.9"/><circle cx="390.49" cy="466.5" r="0.9"/><circle cx="390.99" cy="466.53" r="0.9"/><circle cx="391.5" cy="465.66" r="0.9"/><circle cx="230.9" cy="474.1" r="0.9"/><circle cx="230.9" cy="463.7" r="0.9"/><circle cx="236" cy="471.2" r="0.9"/><circle cx="242.6" cy="472.5" r="0.9"/><circle cx="250.8" cy="463" r="0.9"/><circle cx="251.9" cy="484" r="0.9"/><circle cx="253.7" cy="473" r="0.9"/><circle cx="264.7" cy="463.7" r="0.9"/><circle cx="274" cy="458" r="0.9"/><circle cx="278" cy="476.3" r="0.9"/><circle cx="280.6" cy="488" r="0.9"/><circle cx="291.2" cy="463" r="0.9"/><circle cx="293.8" cy="470.3" r="0.9"/><circle cx="309.8" cy="462.4" r="0.9"/><circle cx="313.6" cy="455.7" r="0.9"/><circle cx="313.6" cy="470.8" r="0.9"/><circle cx="315.9" cy="458.8" r="0.9"/><circle cx="318.8" cy="462.4" r="0.9"/><circle cx="337.3" cy="462.9" r="0.9"/><circle cx="352" cy="460.6" r="0.9"/><circle cx="367.1" cy="459.5" r="0.9"/><circle cx="369.4" cy="453.9" r="0.9"/><circle cx="370.1" cy="444.4" r="0.9"/><circle cx="371.2" cy="451.6" r="0.9"/><circle cx="375.7" cy="451.2" r="0.9"/><circle cx="376.8" cy="478.2" r="0.9"/><circle cx="380.7" cy="477.6" r="0.9"/><circle cx="382" cy="455" r="0.9"/><circle cx="382.9" cy="456.1" r="0.9"/><circle cx="385.2" cy="460.2" r="0.9"/><circle cx="386.6" cy="485.9" r="0.9"/><circle cx="369" cy="458" r="0.9"/><circle cx="371" cy="456" r="0.9"/><circle cx="372.5" cy="460" r="0.9"/><circle cx="374" cy="457" r="0.9"/><circle cx="376" cy="476" r="0.9"/><circle cx="377" cy="479" r="0.9"/><circle cx="378" cy="474" r="0.9"/><circle cx="379.3" cy="477" r="0.9"/><circle cx="380.2" cy="472" r="0.9"/><circle cx="383.5" cy="459" r="0.9"/><circle cx="371.8" cy="470" r="0.9"/><circle cx="373.5" cy="466" r="0.9"/></g>
<path d="M301.6 466.5V438.8M367.1 466.5V499.5M373 466.5V433.5M374.6 466.5V521.6M377.5 466.5V447M378.4 466.5V436.3M379.8 466.5V438.5M382 466.5V501.7M384.3 466.5V497.2M391.5 466.5V425M391.5 466.5V506.9" stroke="#c98f74" stroke-width="1.4" fill="none"/>
<circle cx="301.6" cy="438.8" r="1.05" fill="#5a2c20"/><circle cx="367.1" cy="499.5" r="1.05" fill="#5a2c20"/><circle cx="373" cy="433.5" r="1.05" fill="#5a2c20"/><circle cx="374.6" cy="521.6" r="1.05" fill="#5a2c20"/><circle cx="377.5" cy="447" r="1.05" fill="#5a2c20"/><circle cx="378.4" cy="436.3" r="1.05" fill="#5a2c20"/><circle cx="379.8" cy="438.5" r="1.05" fill="#5a2c20"/><circle cx="382" cy="501.7" r="1.05" fill="#5a2c20"/><circle cx="384.3" cy="497.2" r="1.05" fill="#5a2c20"/><circle cx="391.5" cy="425" r="1.05" fill="#5a2c20"/><circle cx="391.5" cy="506.9" r="1.05" fill="#5a2c20"/>
<line x1="364.4" x2="364.4" y1="421.8" y2="525.5" stroke="#4a4f9e" stroke-width="0.85" stroke-dasharray="1.6 0.6"/>
<line x1="391.5" x2="391.5" y1="421.8" y2="525.5" stroke="#4a4f9e" stroke-width="0.85" stroke-dasharray="1.6 0.6"/>
<rect x="221.6" y="420.3" width="177.6" height="106.7" fill="none" stroke="#777777" stroke-width="1.1"/>
<line x1="220.3" x2="221.6" y1="422.15" y2="422.15" stroke="#3a3a3a" stroke-width="0.45"/>
<text x="219.7" y="423.85" text-anchor="end" font-size="3.6">0.75</text>
<line x1="220.3" x2="221.6" y1="436.9" y2="436.9" stroke="#3a3a3a" stroke-width="0.45"/>
<text x="219.7" y="438.6" text-anchor="end" font-size="3.6">0.50</text>
<line x1="220.3" x2="221.6" y1="451.65" y2="451.65" stroke="#3a3a3a" stroke-width="0.45"/>
<text x="219.7" y="453.35" text-anchor="end" font-size="3.6">0.25</text>
<line x1="220.3" x2="221.6" y1="466.4" y2="466.4" stroke="#3a3a3a" stroke-width="0.45"/>
<text x="219.7" y="468.1" text-anchor="end" font-size="3.6">0.00</text>
<line x1="220.3" x2="221.6" y1="481.15" y2="481.15" stroke="#3a3a3a" stroke-width="0.45"/>
<text x="219.7" y="482.85" text-anchor="end" font-size="3.6">−0.25</text>
<line x1="220.3" x2="221.6" y1="495.9" y2="495.9" stroke="#3a3a3a" stroke-width="0.45"/>
<text x="219.7" y="497.6" text-anchor="end" font-size="3.6">−0.50</text>
<line x1="220.3" x2="221.6" y1="510.65" y2="510.65" stroke="#3a3a3a" stroke-width="0.45"/>
<text x="219.7" y="512.35" text-anchor="end" font-size="3.6">−0.75</text>
<line x1="220.3" x2="221.6" y1="525.4" y2="525.4" stroke="#3a3a3a" stroke-width="0.45"/>
<text x="219.7" y="527.1" text-anchor="end" font-size="3.6">−1.00</text>
<text transform="translate(207.99,473.65) rotate(-90)" text-anchor="middle" font-size="3.4">BG_volume</text>
<path d="M229.7 527v1.3M236.4 527v1.3M237.6 527v1.3M243.5 527v1.3M249.5 527v1.3M257.2 527v1.3M262.4 527v1.3M263.2 527v1.3M269.1 527v1.3M271.3 527v1.3M273.6 527v1.3M285.2 527v1.3M288.2 527v1.3M291.9 527v1.3M294.1 527v1.3M298.6 527v1.3M300.1 527v1.3M309.8 527v1.3M319.4 527v1.3M327.3 527v1.3M336.3 527v1.3M345.2 527v1.3M349.7 527v1.3M363.8 527v1.3M391.3 527v1.3" stroke="#3a3a3a" stroke-width="0.45"/>
<g><text transform="translate(231.4,533.8) rotate(-90)" class="tl" font-size="3.6">18</text><text transform="translate(231.4,538.8) rotate(-90)" class="tl" font-size="3.6">18</text><text transform="translate(238.1,533.8) rotate(-90)" class="tl" font-size="3.6">18</text><text transform="translate(238.1,538.8) rotate(-90)" class="tl" font-size="3.6">18</text><text transform="translate(239.3,533.8) rotate(-90)" class="tl" font-size="3.6">18</text><text transform="translate(239.3,538.8) rotate(-90)" class="tl" font-size="3.6">18</text><text transform="translate(245.2,533.8) rotate(-90)" class="tl" font-size="3.6">18</text><text transform="translate(245.2,538.8) rotate(-90)" class="tl" font-size="3.6">18</text><text transform="translate(251.2,533.8) rotate(-90)" class="tl" font-size="3.6">18</text><text transform="translate(251.2,538.8) rotate(-90)" class="tl" font-size="3.6">18</text><text transform="translate(258.9,533.8) rotate(-90)" class="tl" font-size="3.6">18</text><text transform="translate(258.9,538.8) rotate(-90)" class="tl" font-size="3.6">18</text><text transform="translate(264.1,533.8) rotate(-90)" class="tl" font-size="3.6">18</text><text transform="translate(264.1,538.8) rotate(-90)" class="tl" font-size="3.6">18</text><text transform="translate(264.9,533.8) rotate(-90)" class="tl" font-size="3.6">18</text><text transform="translate(264.9,538.8) rotate(-90)" class="tl" font-size="3.6">18</text><text transform="translate(270.8,533.8) rotate(-90)" class="tl" font-size="3.6">18</text><text transform="translate(270.8,538.8) rotate(-90)" class="tl" font-size="3.6">18</text><text transform="translate(273,533.8) rotate(-90)" class="tl" font-size="3.6">18</text><text transform="translate(273,538.8) rotate(-90)" class="tl" font-size="3.6">18</text><text transform="translate(275.3,533.8) rotate(-90)" class="tl" font-size="3.6">18</text><text transform="translate(275.3,538.8) rotate(-90)" class="tl" font-size="3.6">18</text><text transform="translate(286.9,533.8) rotate(-90)" class="tl" font-size="3.6">18</text><text transform="translate(286.9,538.8) rotate(-90)" class="tl" font-size="3.6">18</text><text transform="translate(289.9,533.8) rotate(-90)" class="tl" font-size="3.6">18</text><text transform="translate(289.9,538.8) rotate(-90)" class="tl" font-size="3.6">18</text><text transform="translate(293.6,533.8) rotate(-90)" class="tl" font-size="3.6">18</text><text transform="translate(293.6,538.8) rotate(-90)" class="tl" font-size="3.6">18</text><text transform="translate(295.8,533.8) rotate(-90)" class="tl" font-size="3.6">18</text><text transform="translate(295.8,538.8) rotate(-90)" class="tl" font-size="3.6">18</text><text transform="translate(300.3,533.8) rotate(-90)" class="tl" font-size="3.6">18</text><text transform="translate(300.3,538.8) rotate(-90)" class="tl" font-size="3.6">18</text><text transform="translate(301.8,533.8) rotate(-90)" class="tl" font-size="3.6">18</text><text transform="translate(301.8,538.8) rotate(-90)" class="tl" font-size="3.6">18</text><text transform="translate(311.5,533.8) rotate(-90)" class="tl" font-size="3.6">18</text><text transform="translate(311.5,538.8) rotate(-90)" class="tl" font-size="3.6">18</text><text transform="translate(321.1,533.8) rotate(-90)" class="tl" font-size="3.6">18</text><text transform="translate(321.1,538.8) rotate(-90)" class="tl" font-size="3.6">18</text><text transform="translate(329,533.8) rotate(-90)" class="tl" font-size="3.6">18</text><text transform="translate(329,538.8) rotate(-90)" class="tl" font-size="3.6">18</text><text transform="translate(338,533.8) rotate(-90)" class="tl" font-size="3.6">18</text><text transform="translate(338,538.8) rotate(-90)" class="tl" font-size="3.6">18</text><text transform="translate(346.9,533.8) rotate(-90)" class="tl" font-size="3.6">18</text><text transform="translate(346.9,538.8) rotate(-90)" class="tl" font-size="3.6">18</text><text transform="translate(351.4,533.8) rotate(-90)" class="tl" font-size="3.6">18</text><text transform="translate(351.4,538.8) rotate(-90)" class="tl" font-size="3.6">18</text><text transform="translate(365.5,533.8) rotate(-90)" class="tl" font-size="3.6">18</text><text transform="translate(365.5,538.8) rotate(-90)" class="tl" font-size="3.6">18</text><text transform="translate(365.5,543.8) rotate(-90)" class="tl" font-size="3.6">18</text><text transform="translate(393,533.8) rotate(-90)" class="tl" font-size="3.6">18</text><text transform="translate(393,538.8) rotate(-90)" class="tl" font-size="3.6">18</text><text transform="translate(393,543.8) rotate(-90)" class="tl" font-size="3.6">18</text></g>
<text x="311" y="546.9" text-anchor="middle" font-size="3.4">datetime</text>
<text x="311" y="419" text-anchor="middle" class="ttl" font-size="4.0">LOKA_2022-7-18 13:00</text>
<rect x="223.2" y="421.6" width="43.68" height="10.8" fill="#fff" fill-opacity="0.85" stroke="#ececec" stroke-width="0.4" rx="0.6"/>
<line x1="224.7" x2="231.7" y1="424.5" y2="424.5" stroke="#4a4f9e" stroke-width="0.6" stroke-dasharray="1.4 0.7"/>
<line x1="224.7" x2="231.7" y1="429.5" y2="429.5" stroke="#e4dbab" stroke-width="0.65" stroke-dasharray="1.4 0.7"/>
<text x="234" y="425.7" font-size="3.45">2022-7-18 13:00</text>
<text x="234" y="430.7" font-size="3.45">anomalous volumes</text>
</svg></body></html>
